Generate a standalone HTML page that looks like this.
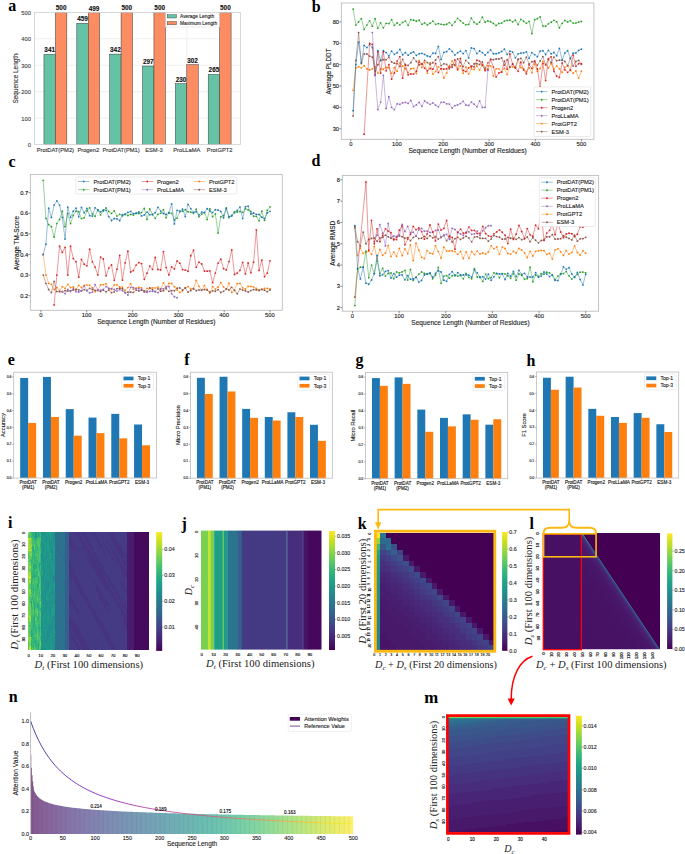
<!DOCTYPE html>
<html><head><meta charset="utf-8"><style>
html,body{margin:0;padding:0;background:#fff;width:685px;height:854px;overflow:hidden;}
svg{display:block;}
</style></head><body>
<svg width="685" height="854" viewBox="0 0 685 854">
<rect width="685" height="854" fill="#fff"/>
<line x1="34.40" y1="118.08" x2="240.40" y2="118.08" stroke="#ebebeb" stroke-width="0.8"/>
<line x1="34.40" y1="91.66" x2="240.40" y2="91.66" stroke="#ebebeb" stroke-width="0.8"/>
<line x1="34.40" y1="65.24" x2="240.40" y2="65.24" stroke="#ebebeb" stroke-width="0.8"/>
<line x1="34.40" y1="38.82" x2="240.40" y2="38.82" stroke="#ebebeb" stroke-width="0.8"/>
<line x1="55.40" y1="12.40" x2="55.40" y2="144.50" stroke="#ebebeb" stroke-width="0.8"/>
<line x1="88.25" y1="12.40" x2="88.25" y2="144.50" stroke="#ebebeb" stroke-width="0.8"/>
<line x1="121.10" y1="12.40" x2="121.10" y2="144.50" stroke="#ebebeb" stroke-width="0.8"/>
<line x1="153.95" y1="12.40" x2="153.95" y2="144.50" stroke="#ebebeb" stroke-width="0.8"/>
<line x1="186.80" y1="12.40" x2="186.80" y2="144.50" stroke="#ebebeb" stroke-width="0.8"/>
<line x1="219.65" y1="12.40" x2="219.65" y2="144.50" stroke="#ebebeb" stroke-width="0.8"/>
<rect x="43.95" y="54.41" width="11.45" height="90.09" fill="#66c2a5" stroke="#3a3a3a" stroke-width="0.5"/>
<rect x="55.40" y="12.40" width="11.45" height="132.10" fill="#fc8d62" stroke="#3a3a3a" stroke-width="0.5"/>
<text x="49.67" y="52.41" font-size="6.4" text-anchor="middle" font-family="'Liberation Sans', sans-serif" font-weight="bold" font-style="normal" fill="#111" stroke="#111" stroke-width="0.12">341</text>
<text x="61.12" y="10.40" font-size="6.4" text-anchor="middle" font-family="'Liberation Sans', sans-serif" font-weight="bold" font-style="normal" fill="#111" stroke="#111" stroke-width="0.12">500</text>
<rect x="76.80" y="23.23" width="11.45" height="121.27" fill="#66c2a5" stroke="#3a3a3a" stroke-width="0.5"/>
<rect x="88.25" y="12.66" width="11.45" height="131.84" fill="#fc8d62" stroke="#3a3a3a" stroke-width="0.5"/>
<text x="82.53" y="21.23" font-size="6.4" text-anchor="middle" font-family="'Liberation Sans', sans-serif" font-weight="bold" font-style="normal" fill="#111" stroke="#111" stroke-width="0.12">459</text>
<text x="93.97" y="10.66" font-size="6.4" text-anchor="middle" font-family="'Liberation Sans', sans-serif" font-weight="bold" font-style="normal" fill="#111" stroke="#111" stroke-width="0.12">499</text>
<rect x="109.65" y="54.14" width="11.45" height="90.36" fill="#66c2a5" stroke="#3a3a3a" stroke-width="0.5"/>
<rect x="121.10" y="12.40" width="11.45" height="132.10" fill="#fc8d62" stroke="#3a3a3a" stroke-width="0.5"/>
<text x="115.38" y="52.14" font-size="6.4" text-anchor="middle" font-family="'Liberation Sans', sans-serif" font-weight="bold" font-style="normal" fill="#111" stroke="#111" stroke-width="0.12">342</text>
<text x="126.82" y="10.40" font-size="6.4" text-anchor="middle" font-family="'Liberation Sans', sans-serif" font-weight="bold" font-style="normal" fill="#111" stroke="#111" stroke-width="0.12">500</text>
<rect x="142.50" y="66.03" width="11.45" height="78.47" fill="#66c2a5" stroke="#3a3a3a" stroke-width="0.5"/>
<rect x="153.95" y="12.40" width="11.45" height="132.10" fill="#fc8d62" stroke="#3a3a3a" stroke-width="0.5"/>
<text x="148.23" y="64.03" font-size="6.4" text-anchor="middle" font-family="'Liberation Sans', sans-serif" font-weight="bold" font-style="normal" fill="#111" stroke="#111" stroke-width="0.12">297</text>
<text x="159.68" y="10.40" font-size="6.4" text-anchor="middle" font-family="'Liberation Sans', sans-serif" font-weight="bold" font-style="normal" fill="#111" stroke="#111" stroke-width="0.12">500</text>
<rect x="175.35" y="83.73" width="11.45" height="60.77" fill="#66c2a5" stroke="#3a3a3a" stroke-width="0.5"/>
<rect x="186.80" y="64.71" width="11.45" height="79.79" fill="#fc8d62" stroke="#3a3a3a" stroke-width="0.5"/>
<text x="181.08" y="81.73" font-size="6.4" text-anchor="middle" font-family="'Liberation Sans', sans-serif" font-weight="bold" font-style="normal" fill="#111" stroke="#111" stroke-width="0.12">230</text>
<text x="192.53" y="62.71" font-size="6.4" text-anchor="middle" font-family="'Liberation Sans', sans-serif" font-weight="bold" font-style="normal" fill="#111" stroke="#111" stroke-width="0.12">302</text>
<rect x="208.20" y="74.49" width="11.45" height="70.01" fill="#66c2a5" stroke="#3a3a3a" stroke-width="0.5"/>
<rect x="219.65" y="12.40" width="11.45" height="132.10" fill="#fc8d62" stroke="#3a3a3a" stroke-width="0.5"/>
<text x="213.93" y="72.49" font-size="6.4" text-anchor="middle" font-family="'Liberation Sans', sans-serif" font-weight="bold" font-style="normal" fill="#111" stroke="#111" stroke-width="0.12">265</text>
<text x="225.38" y="10.40" font-size="6.4" text-anchor="middle" font-family="'Liberation Sans', sans-serif" font-weight="bold" font-style="normal" fill="#111" stroke="#111" stroke-width="0.12">500</text>
<rect x="34.40" y="12.40" width="206.00" height="132.10" fill="none" stroke="#cfcfcf" stroke-width="0.8"/>
<text x="30.90" y="147.00" font-size="5.8" text-anchor="end" font-family="'Liberation Sans', sans-serif" font-weight="normal" font-style="normal" fill="#444" stroke="#444" stroke-width="0.12">0</text>
<text x="30.90" y="120.58" font-size="5.8" text-anchor="end" font-family="'Liberation Sans', sans-serif" font-weight="normal" font-style="normal" fill="#444" stroke="#444" stroke-width="0.12">100</text>
<text x="30.90" y="94.16" font-size="5.8" text-anchor="end" font-family="'Liberation Sans', sans-serif" font-weight="normal" font-style="normal" fill="#444" stroke="#444" stroke-width="0.12">200</text>
<text x="30.90" y="67.74" font-size="5.8" text-anchor="end" font-family="'Liberation Sans', sans-serif" font-weight="normal" font-style="normal" fill="#444" stroke="#444" stroke-width="0.12">300</text>
<text x="30.90" y="41.32" font-size="5.8" text-anchor="end" font-family="'Liberation Sans', sans-serif" font-weight="normal" font-style="normal" fill="#444" stroke="#444" stroke-width="0.12">400</text>
<text x="30.90" y="14.90" font-size="5.8" text-anchor="end" font-family="'Liberation Sans', sans-serif" font-weight="normal" font-style="normal" fill="#444" stroke="#444" stroke-width="0.12">500</text>
<text x="55.40" y="152.20" font-size="5.75" text-anchor="middle" font-family="'Liberation Sans', sans-serif" font-weight="normal" font-style="normal" fill="#333" stroke="#333" stroke-width="0.12">ProtDAT(PM2)</text>
<text x="88.25" y="152.20" font-size="5.75" text-anchor="middle" font-family="'Liberation Sans', sans-serif" font-weight="normal" font-style="normal" fill="#333" stroke="#333" stroke-width="0.12">Progen2</text>
<text x="121.10" y="152.20" font-size="5.75" text-anchor="middle" font-family="'Liberation Sans', sans-serif" font-weight="normal" font-style="normal" fill="#333" stroke="#333" stroke-width="0.12">ProtDAT(PM1)</text>
<text x="153.95" y="152.20" font-size="5.75" text-anchor="middle" font-family="'Liberation Sans', sans-serif" font-weight="normal" font-style="normal" fill="#333" stroke="#333" stroke-width="0.12">ESM-3</text>
<text x="186.80" y="152.20" font-size="5.75" text-anchor="middle" font-family="'Liberation Sans', sans-serif" font-weight="normal" font-style="normal" fill="#333" stroke="#333" stroke-width="0.12">ProLLaMA</text>
<text x="219.65" y="152.20" font-size="5.75" text-anchor="middle" font-family="'Liberation Sans', sans-serif" font-weight="normal" font-style="normal" fill="#333" stroke="#333" stroke-width="0.12">ProtGPT2</text>
<text x="18.50" y="78.45" font-size="6.4" text-anchor="middle" font-family="'Liberation Sans', sans-serif" font-weight="normal" font-style="normal" fill="#333" stroke="#333" stroke-width="0.12" transform="rotate(-90 18.50 78.45)">Sequence Length</text>
<rect x="165.60" y="12.80" width="53.80" height="14.20" fill="white" stroke="#d8d8d8" stroke-width="0.5"/>
<rect x="167.20" y="14.60" width="9.40" height="3.40" fill="#66c2a5" stroke="#3a3a3a" stroke-width="0.4"/>
<rect x="167.20" y="21.40" width="9.40" height="3.40" fill="#fc8d62" stroke="#3a3a3a" stroke-width="0.4"/>
<text x="180.00" y="18.00" font-size="4.85" text-anchor="start" font-family="'Liberation Sans', sans-serif" font-weight="normal" font-style="normal" fill="#222" stroke="#222" stroke-width="0.12">Average Length</text>
<text x="180.00" y="24.80" font-size="4.85" text-anchor="start" font-family="'Liberation Sans', sans-serif" font-weight="normal" font-style="normal" fill="#222" stroke="#222" stroke-width="0.12">Maximum Length</text>
<text x="8.20" y="11.20" font-size="16" text-anchor="start" font-family="'Liberation Serif', serif" font-weight="bold" font-style="normal" fill="#000">a</text>
<rect x="341.30" y="3.00" width="252.60" height="136.30" fill="none" stroke="#bdbdbd" stroke-width="0.9"/>
<polyline points="353.11,90.32 355.86,67.87 358.61,66.80 361.36,67.87 364.11,65.73 366.86,68.94 369.61,70.00 372.36,68.94 375.11,66.80 377.86,73.21 380.61,68.94 383.36,69.27 386.11,67.30 388.86,67.66 391.61,73.39 394.36,67.59 397.11,71.27 399.87,62.98 402.62,66.15 405.37,68.76 408.12,72.72 410.87,68.73 413.62,68.32 416.37,73.59 419.12,60.38 421.87,67.42 424.62,62.42 427.37,73.22 430.12,62.64 432.87,74.17 435.62,71.44 438.37,66.85 441.12,68.75 443.87,78.01 446.62,73.19 449.37,65.71 452.13,60.90 454.88,65.42 457.63,70.00 460.38,65.87 463.13,73.34 465.88,66.97 468.63,74.12 471.38,68.97 474.13,69.44 476.88,65.85 479.63,70.10 482.38,64.31 485.13,69.69 487.88,65.72 490.63,65.91 493.38,76.02 496.13,68.79 498.88,68.80 501.63,71.93 504.39,68.25 507.14,74.54 509.89,66.80 512.64,66.97 515.39,67.78 518.14,59.41 520.89,67.58 523.64,68.68 526.39,71.75 529.14,67.79 531.89,72.64 534.64,64.04 537.39,71.43 540.14,68.33 542.89,61.28 545.64,64.46 548.39,68.00 551.14,63.63 553.89,69.15 556.65,65.88 559.40,68.86 562.15,72.42 564.90,67.28 567.65,65.34 570.40,70.27 573.15,73.16 575.90,70.97 578.65,78.09 581.40,71.27" fill="none" stroke="#ff7f0e" stroke-width="0.6" stroke-linejoin="round" stroke-opacity="0.8"/>
<g fill="#ff7f0e"><circle cx="353.11" cy="90.32" r="0.9"/><circle cx="355.86" cy="67.87" r="0.9"/><circle cx="358.61" cy="66.80" r="0.9"/><circle cx="361.36" cy="67.87" r="0.9"/><circle cx="364.11" cy="65.73" r="0.9"/><circle cx="366.86" cy="68.94" r="0.9"/><circle cx="369.61" cy="70.00" r="0.9"/><circle cx="372.36" cy="68.94" r="0.9"/><circle cx="375.11" cy="66.80" r="0.9"/><circle cx="377.86" cy="73.21" r="0.9"/><circle cx="380.61" cy="68.94" r="0.9"/><circle cx="383.36" cy="69.27" r="0.9"/><circle cx="386.11" cy="67.30" r="0.9"/><circle cx="388.86" cy="67.66" r="0.9"/><circle cx="391.61" cy="73.39" r="0.9"/><circle cx="394.36" cy="67.59" r="0.9"/><circle cx="397.11" cy="71.27" r="0.9"/><circle cx="399.87" cy="62.98" r="0.9"/><circle cx="402.62" cy="66.15" r="0.9"/><circle cx="405.37" cy="68.76" r="0.9"/><circle cx="408.12" cy="72.72" r="0.9"/><circle cx="410.87" cy="68.73" r="0.9"/><circle cx="413.62" cy="68.32" r="0.9"/><circle cx="416.37" cy="73.59" r="0.9"/><circle cx="419.12" cy="60.38" r="0.9"/><circle cx="421.87" cy="67.42" r="0.9"/><circle cx="424.62" cy="62.42" r="0.9"/><circle cx="427.37" cy="73.22" r="0.9"/><circle cx="430.12" cy="62.64" r="0.9"/><circle cx="432.87" cy="74.17" r="0.9"/><circle cx="435.62" cy="71.44" r="0.9"/><circle cx="438.37" cy="66.85" r="0.9"/><circle cx="441.12" cy="68.75" r="0.9"/><circle cx="443.87" cy="78.01" r="0.9"/><circle cx="446.62" cy="73.19" r="0.9"/><circle cx="449.37" cy="65.71" r="0.9"/><circle cx="452.13" cy="60.90" r="0.9"/><circle cx="454.88" cy="65.42" r="0.9"/><circle cx="457.63" cy="70.00" r="0.9"/><circle cx="460.38" cy="65.87" r="0.9"/><circle cx="463.13" cy="73.34" r="0.9"/><circle cx="465.88" cy="66.97" r="0.9"/><circle cx="468.63" cy="74.12" r="0.9"/><circle cx="471.38" cy="68.97" r="0.9"/><circle cx="474.13" cy="69.44" r="0.9"/><circle cx="476.88" cy="65.85" r="0.9"/><circle cx="479.63" cy="70.10" r="0.9"/><circle cx="482.38" cy="64.31" r="0.9"/><circle cx="485.13" cy="69.69" r="0.9"/><circle cx="487.88" cy="65.72" r="0.9"/><circle cx="490.63" cy="65.91" r="0.9"/><circle cx="493.38" cy="76.02" r="0.9"/><circle cx="496.13" cy="68.79" r="0.9"/><circle cx="498.88" cy="68.80" r="0.9"/><circle cx="501.63" cy="71.93" r="0.9"/><circle cx="504.39" cy="68.25" r="0.9"/><circle cx="507.14" cy="74.54" r="0.9"/><circle cx="509.89" cy="66.80" r="0.9"/><circle cx="512.64" cy="66.97" r="0.9"/><circle cx="515.39" cy="67.78" r="0.9"/><circle cx="518.14" cy="59.41" r="0.9"/><circle cx="520.89" cy="67.58" r="0.9"/><circle cx="523.64" cy="68.68" r="0.9"/><circle cx="526.39" cy="71.75" r="0.9"/><circle cx="529.14" cy="67.79" r="0.9"/><circle cx="531.89" cy="72.64" r="0.9"/><circle cx="534.64" cy="64.04" r="0.9"/><circle cx="537.39" cy="71.43" r="0.9"/><circle cx="540.14" cy="68.33" r="0.9"/><circle cx="542.89" cy="61.28" r="0.9"/><circle cx="545.64" cy="64.46" r="0.9"/><circle cx="548.39" cy="68.00" r="0.9"/><circle cx="551.14" cy="63.63" r="0.9"/><circle cx="553.89" cy="69.15" r="0.9"/><circle cx="556.65" cy="65.88" r="0.9"/><circle cx="559.40" cy="68.86" r="0.9"/><circle cx="562.15" cy="72.42" r="0.9"/><circle cx="564.90" cy="67.28" r="0.9"/><circle cx="567.65" cy="65.34" r="0.9"/><circle cx="570.40" cy="70.27" r="0.9"/><circle cx="573.15" cy="73.16" r="0.9"/><circle cx="575.90" cy="70.97" r="0.9"/><circle cx="578.65" cy="78.09" r="0.9"/><circle cx="581.40" cy="71.27" r="0.9"/></g>
<polyline points="353.11,115.97 355.86,60.38 358.61,32.59 361.36,63.59 364.11,53.97 366.86,53.97 369.61,56.11 372.36,57.18 375.11,71.07 377.86,64.66 380.61,60.38 383.36,59.64 386.11,59.64 388.86,57.34 391.61,61.96 394.36,63.22 397.11,63.61 399.87,66.39 402.62,59.36 405.37,65.15 408.12,65.39 410.87,62.67 413.62,57.96 416.37,61.44 419.12,64.94 421.87,64.08 424.62,60.36 427.37,62.54 430.12,64.23 432.87,62.73 435.62,60.02 438.37,56.60 441.12,65.55 443.87,63.84 446.62,64.33 449.37,68.82 452.13,64.66 454.88,64.94 457.63,58.97 460.38,62.46 463.13,66.61 465.88,60.30 468.63,63.08 471.38,66.94 474.13,63.75 476.88,63.73 479.63,64.52 482.38,62.01 485.13,68.34 487.88,62.84 490.63,59.28 493.38,59.72 496.13,59.01 498.88,58.98 501.63,57.96 504.39,65.20 507.14,59.74 509.89,67.27 512.64,63.77 515.39,67.42 518.14,59.18 520.89,58.39 523.64,62.64 526.39,57.16 529.14,63.97 531.89,61.68 534.64,61.67 537.39,65.05 540.14,60.88 542.89,56.71 545.64,64.94 548.39,59.59 551.14,62.52 553.89,57.18 556.65,60.75 559.40,60.21 562.15,60.31 564.90,61.40 567.65,65.97 570.40,58.23 573.15,65.90 575.90,61.43 578.65,60.39 581.40,64.42" fill="none" stroke="#8c564b" stroke-width="0.6" stroke-linejoin="round" stroke-opacity="0.8"/>
<g fill="#8c564b"><circle cx="353.11" cy="115.97" r="0.9"/><circle cx="355.86" cy="60.38" r="0.9"/><circle cx="358.61" cy="32.59" r="0.9"/><circle cx="361.36" cy="63.59" r="0.9"/><circle cx="364.11" cy="53.97" r="0.9"/><circle cx="366.86" cy="53.97" r="0.9"/><circle cx="369.61" cy="56.11" r="0.9"/><circle cx="372.36" cy="57.18" r="0.9"/><circle cx="375.11" cy="71.07" r="0.9"/><circle cx="377.86" cy="64.66" r="0.9"/><circle cx="380.61" cy="60.38" r="0.9"/><circle cx="383.36" cy="59.64" r="0.9"/><circle cx="386.11" cy="59.64" r="0.9"/><circle cx="388.86" cy="57.34" r="0.9"/><circle cx="391.61" cy="61.96" r="0.9"/><circle cx="394.36" cy="63.22" r="0.9"/><circle cx="397.11" cy="63.61" r="0.9"/><circle cx="399.87" cy="66.39" r="0.9"/><circle cx="402.62" cy="59.36" r="0.9"/><circle cx="405.37" cy="65.15" r="0.9"/><circle cx="408.12" cy="65.39" r="0.9"/><circle cx="410.87" cy="62.67" r="0.9"/><circle cx="413.62" cy="57.96" r="0.9"/><circle cx="416.37" cy="61.44" r="0.9"/><circle cx="419.12" cy="64.94" r="0.9"/><circle cx="421.87" cy="64.08" r="0.9"/><circle cx="424.62" cy="60.36" r="0.9"/><circle cx="427.37" cy="62.54" r="0.9"/><circle cx="430.12" cy="64.23" r="0.9"/><circle cx="432.87" cy="62.73" r="0.9"/><circle cx="435.62" cy="60.02" r="0.9"/><circle cx="438.37" cy="56.60" r="0.9"/><circle cx="441.12" cy="65.55" r="0.9"/><circle cx="443.87" cy="63.84" r="0.9"/><circle cx="446.62" cy="64.33" r="0.9"/><circle cx="449.37" cy="68.82" r="0.9"/><circle cx="452.13" cy="64.66" r="0.9"/><circle cx="454.88" cy="64.94" r="0.9"/><circle cx="457.63" cy="58.97" r="0.9"/><circle cx="460.38" cy="62.46" r="0.9"/><circle cx="463.13" cy="66.61" r="0.9"/><circle cx="465.88" cy="60.30" r="0.9"/><circle cx="468.63" cy="63.08" r="0.9"/><circle cx="471.38" cy="66.94" r="0.9"/><circle cx="474.13" cy="63.75" r="0.9"/><circle cx="476.88" cy="63.73" r="0.9"/><circle cx="479.63" cy="64.52" r="0.9"/><circle cx="482.38" cy="62.01" r="0.9"/><circle cx="485.13" cy="68.34" r="0.9"/><circle cx="487.88" cy="62.84" r="0.9"/><circle cx="490.63" cy="59.28" r="0.9"/><circle cx="493.38" cy="59.72" r="0.9"/><circle cx="496.13" cy="59.01" r="0.9"/><circle cx="498.88" cy="58.98" r="0.9"/><circle cx="501.63" cy="57.96" r="0.9"/><circle cx="504.39" cy="65.20" r="0.9"/><circle cx="507.14" cy="59.74" r="0.9"/><circle cx="509.89" cy="67.27" r="0.9"/><circle cx="512.64" cy="63.77" r="0.9"/><circle cx="515.39" cy="67.42" r="0.9"/><circle cx="518.14" cy="59.18" r="0.9"/><circle cx="520.89" cy="58.39" r="0.9"/><circle cx="523.64" cy="62.64" r="0.9"/><circle cx="526.39" cy="57.16" r="0.9"/><circle cx="529.14" cy="63.97" r="0.9"/><circle cx="531.89" cy="61.68" r="0.9"/><circle cx="534.64" cy="61.67" r="0.9"/><circle cx="537.39" cy="65.05" r="0.9"/><circle cx="540.14" cy="60.88" r="0.9"/><circle cx="542.89" cy="56.71" r="0.9"/><circle cx="545.64" cy="64.94" r="0.9"/><circle cx="548.39" cy="59.59" r="0.9"/><circle cx="551.14" cy="62.52" r="0.9"/><circle cx="553.89" cy="57.18" r="0.9"/><circle cx="556.65" cy="60.75" r="0.9"/><circle cx="559.40" cy="60.21" r="0.9"/><circle cx="562.15" cy="60.31" r="0.9"/><circle cx="564.90" cy="61.40" r="0.9"/><circle cx="567.65" cy="65.97" r="0.9"/><circle cx="570.40" cy="58.23" r="0.9"/><circle cx="573.15" cy="65.90" r="0.9"/><circle cx="575.90" cy="61.43" r="0.9"/><circle cx="578.65" cy="60.39" r="0.9"/><circle cx="581.40" cy="64.42" r="0.9"/></g>
<polyline points="353.11,110.63 355.86,64.66 358.61,42.21 361.36,62.52 364.11,45.42 366.86,47.56 369.61,44.35 372.36,47.56 375.11,75.35 377.86,50.76 380.61,60.38 383.36,50.76 386.11,52.57 388.86,55.79 391.61,51.19 394.36,54.34 397.11,52.74 399.87,49.42 402.62,54.77 405.37,52.66 408.12,55.13 410.87,53.12 413.62,51.97 416.37,55.44 419.12,53.63 421.87,53.34 424.62,54.46 427.37,55.99 430.12,56.64 432.87,53.11 435.62,53.44 438.37,46.49 441.12,59.45 443.87,52.37 446.62,51.66 449.37,48.91 452.13,51.29 454.88,55.03 457.63,52.69 460.38,51.18 463.13,53.56 465.88,50.54 468.63,57.88 471.38,47.88 474.13,48.61 476.88,53.62 479.63,50.99 482.38,52.55 485.13,54.99 487.88,52.44 490.63,49.91 493.38,53.75 496.13,53.73 498.88,52.89 501.63,51.48 504.39,49.13 507.14,54.45 509.89,51.27 512.64,52.09 515.39,57.85 518.14,53.85 520.89,53.05 523.64,52.80 526.39,51.78 529.14,58.36 531.89,52.56 534.64,54.57 537.39,56.69 540.14,51.23 542.89,50.64 545.64,54.50 548.39,50.35 551.14,53.75 553.89,52.50 556.65,55.74 559.40,48.28 562.15,60.08 564.90,52.94 567.65,50.76 570.40,58.34 573.15,53.21 575.90,52.90 578.65,50.40 581.40,49.22" fill="none" stroke="#1f77b4" stroke-width="0.6" stroke-linejoin="round" stroke-opacity="0.8"/>
<g fill="#1f77b4"><circle cx="353.11" cy="110.63" r="0.9"/><circle cx="355.86" cy="64.66" r="0.9"/><circle cx="358.61" cy="42.21" r="0.9"/><circle cx="361.36" cy="62.52" r="0.9"/><circle cx="364.11" cy="45.42" r="0.9"/><circle cx="366.86" cy="47.56" r="0.9"/><circle cx="369.61" cy="44.35" r="0.9"/><circle cx="372.36" cy="47.56" r="0.9"/><circle cx="375.11" cy="75.35" r="0.9"/><circle cx="377.86" cy="50.76" r="0.9"/><circle cx="380.61" cy="60.38" r="0.9"/><circle cx="383.36" cy="50.76" r="0.9"/><circle cx="386.11" cy="52.57" r="0.9"/><circle cx="388.86" cy="55.79" r="0.9"/><circle cx="391.61" cy="51.19" r="0.9"/><circle cx="394.36" cy="54.34" r="0.9"/><circle cx="397.11" cy="52.74" r="0.9"/><circle cx="399.87" cy="49.42" r="0.9"/><circle cx="402.62" cy="54.77" r="0.9"/><circle cx="405.37" cy="52.66" r="0.9"/><circle cx="408.12" cy="55.13" r="0.9"/><circle cx="410.87" cy="53.12" r="0.9"/><circle cx="413.62" cy="51.97" r="0.9"/><circle cx="416.37" cy="55.44" r="0.9"/><circle cx="419.12" cy="53.63" r="0.9"/><circle cx="421.87" cy="53.34" r="0.9"/><circle cx="424.62" cy="54.46" r="0.9"/><circle cx="427.37" cy="55.99" r="0.9"/><circle cx="430.12" cy="56.64" r="0.9"/><circle cx="432.87" cy="53.11" r="0.9"/><circle cx="435.62" cy="53.44" r="0.9"/><circle cx="438.37" cy="46.49" r="0.9"/><circle cx="441.12" cy="59.45" r="0.9"/><circle cx="443.87" cy="52.37" r="0.9"/><circle cx="446.62" cy="51.66" r="0.9"/><circle cx="449.37" cy="48.91" r="0.9"/><circle cx="452.13" cy="51.29" r="0.9"/><circle cx="454.88" cy="55.03" r="0.9"/><circle cx="457.63" cy="52.69" r="0.9"/><circle cx="460.38" cy="51.18" r="0.9"/><circle cx="463.13" cy="53.56" r="0.9"/><circle cx="465.88" cy="50.54" r="0.9"/><circle cx="468.63" cy="57.88" r="0.9"/><circle cx="471.38" cy="47.88" r="0.9"/><circle cx="474.13" cy="48.61" r="0.9"/><circle cx="476.88" cy="53.62" r="0.9"/><circle cx="479.63" cy="50.99" r="0.9"/><circle cx="482.38" cy="52.55" r="0.9"/><circle cx="485.13" cy="54.99" r="0.9"/><circle cx="487.88" cy="52.44" r="0.9"/><circle cx="490.63" cy="49.91" r="0.9"/><circle cx="493.38" cy="53.75" r="0.9"/><circle cx="496.13" cy="53.73" r="0.9"/><circle cx="498.88" cy="52.89" r="0.9"/><circle cx="501.63" cy="51.48" r="0.9"/><circle cx="504.39" cy="49.13" r="0.9"/><circle cx="507.14" cy="54.45" r="0.9"/><circle cx="509.89" cy="51.27" r="0.9"/><circle cx="512.64" cy="52.09" r="0.9"/><circle cx="515.39" cy="57.85" r="0.9"/><circle cx="518.14" cy="53.85" r="0.9"/><circle cx="520.89" cy="53.05" r="0.9"/><circle cx="523.64" cy="52.80" r="0.9"/><circle cx="526.39" cy="51.78" r="0.9"/><circle cx="529.14" cy="58.36" r="0.9"/><circle cx="531.89" cy="52.56" r="0.9"/><circle cx="534.64" cy="54.57" r="0.9"/><circle cx="537.39" cy="56.69" r="0.9"/><circle cx="540.14" cy="51.23" r="0.9"/><circle cx="542.89" cy="50.64" r="0.9"/><circle cx="545.64" cy="54.50" r="0.9"/><circle cx="548.39" cy="50.35" r="0.9"/><circle cx="551.14" cy="53.75" r="0.9"/><circle cx="553.89" cy="52.50" r="0.9"/><circle cx="556.65" cy="55.74" r="0.9"/><circle cx="559.40" cy="48.28" r="0.9"/><circle cx="562.15" cy="60.08" r="0.9"/><circle cx="564.90" cy="52.94" r="0.9"/><circle cx="567.65" cy="50.76" r="0.9"/><circle cx="570.40" cy="58.34" r="0.9"/><circle cx="573.15" cy="53.21" r="0.9"/><circle cx="575.90" cy="52.90" r="0.9"/><circle cx="578.65" cy="50.40" r="0.9"/><circle cx="581.40" cy="49.22" r="0.9"/></g>
<polyline points="353.11,9.07 355.86,25.11 358.61,21.90 361.36,18.69 364.11,29.38 366.86,25.11 369.61,20.83 372.36,26.18 375.11,18.69 377.86,28.31 380.61,22.97 383.36,27.83 386.11,23.37 388.86,23.53 391.61,19.63 394.36,25.36 397.11,22.98 399.87,24.79 402.62,22.43 405.37,21.05 408.12,25.37 410.87,19.60 413.62,20.23 416.37,21.25 419.12,20.23 421.87,24.30 424.62,22.86 427.37,24.94 430.12,23.23 432.87,21.18 435.62,24.32 438.37,23.56 441.12,24.30 443.87,24.71 446.62,24.26 449.37,22.57 452.13,25.41 454.88,21.94 457.63,18.28 460.38,20.64 463.13,23.03 465.88,24.82 468.63,24.46 471.38,18.20 474.13,22.41 476.88,24.18 479.63,22.05 482.38,17.15 485.13,22.23 487.88,20.96 490.63,21.77 493.38,23.45 496.13,25.47 498.88,23.44 501.63,23.08 504.39,21.04 507.14,20.39 509.89,20.15 512.64,21.81 515.39,20.27 518.14,24.48 520.89,19.33 523.64,21.23 526.39,23.31 529.14,21.29 531.89,33.66 534.64,19.64 537.39,18.64 540.14,16.93 542.89,26.12 545.64,26.25 548.39,23.84 551.14,22.13 553.89,20.29 556.65,21.73 559.40,27.73 562.15,23.33 564.90,20.42 567.65,21.95 570.40,20.59 573.15,23.11 575.90,23.06 578.65,22.06 581.40,21.49" fill="none" stroke="#2ca02c" stroke-width="0.6" stroke-linejoin="round" stroke-opacity="0.8"/>
<g fill="#2ca02c"><circle cx="353.11" cy="9.07" r="0.9"/><circle cx="355.86" cy="25.11" r="0.9"/><circle cx="358.61" cy="21.90" r="0.9"/><circle cx="361.36" cy="18.69" r="0.9"/><circle cx="364.11" cy="29.38" r="0.9"/><circle cx="366.86" cy="25.11" r="0.9"/><circle cx="369.61" cy="20.83" r="0.9"/><circle cx="372.36" cy="26.18" r="0.9"/><circle cx="375.11" cy="18.69" r="0.9"/><circle cx="377.86" cy="28.31" r="0.9"/><circle cx="380.61" cy="22.97" r="0.9"/><circle cx="383.36" cy="27.83" r="0.9"/><circle cx="386.11" cy="23.37" r="0.9"/><circle cx="388.86" cy="23.53" r="0.9"/><circle cx="391.61" cy="19.63" r="0.9"/><circle cx="394.36" cy="25.36" r="0.9"/><circle cx="397.11" cy="22.98" r="0.9"/><circle cx="399.87" cy="24.79" r="0.9"/><circle cx="402.62" cy="22.43" r="0.9"/><circle cx="405.37" cy="21.05" r="0.9"/><circle cx="408.12" cy="25.37" r="0.9"/><circle cx="410.87" cy="19.60" r="0.9"/><circle cx="413.62" cy="20.23" r="0.9"/><circle cx="416.37" cy="21.25" r="0.9"/><circle cx="419.12" cy="20.23" r="0.9"/><circle cx="421.87" cy="24.30" r="0.9"/><circle cx="424.62" cy="22.86" r="0.9"/><circle cx="427.37" cy="24.94" r="0.9"/><circle cx="430.12" cy="23.23" r="0.9"/><circle cx="432.87" cy="21.18" r="0.9"/><circle cx="435.62" cy="24.32" r="0.9"/><circle cx="438.37" cy="23.56" r="0.9"/><circle cx="441.12" cy="24.30" r="0.9"/><circle cx="443.87" cy="24.71" r="0.9"/><circle cx="446.62" cy="24.26" r="0.9"/><circle cx="449.37" cy="22.57" r="0.9"/><circle cx="452.13" cy="25.41" r="0.9"/><circle cx="454.88" cy="21.94" r="0.9"/><circle cx="457.63" cy="18.28" r="0.9"/><circle cx="460.38" cy="20.64" r="0.9"/><circle cx="463.13" cy="23.03" r="0.9"/><circle cx="465.88" cy="24.82" r="0.9"/><circle cx="468.63" cy="24.46" r="0.9"/><circle cx="471.38" cy="18.20" r="0.9"/><circle cx="474.13" cy="22.41" r="0.9"/><circle cx="476.88" cy="24.18" r="0.9"/><circle cx="479.63" cy="22.05" r="0.9"/><circle cx="482.38" cy="17.15" r="0.9"/><circle cx="485.13" cy="22.23" r="0.9"/><circle cx="487.88" cy="20.96" r="0.9"/><circle cx="490.63" cy="21.77" r="0.9"/><circle cx="493.38" cy="23.45" r="0.9"/><circle cx="496.13" cy="25.47" r="0.9"/><circle cx="498.88" cy="23.44" r="0.9"/><circle cx="501.63" cy="23.08" r="0.9"/><circle cx="504.39" cy="21.04" r="0.9"/><circle cx="507.14" cy="20.39" r="0.9"/><circle cx="509.89" cy="20.15" r="0.9"/><circle cx="512.64" cy="21.81" r="0.9"/><circle cx="515.39" cy="20.27" r="0.9"/><circle cx="518.14" cy="24.48" r="0.9"/><circle cx="520.89" cy="19.33" r="0.9"/><circle cx="523.64" cy="21.23" r="0.9"/><circle cx="526.39" cy="23.31" r="0.9"/><circle cx="529.14" cy="21.29" r="0.9"/><circle cx="531.89" cy="33.66" r="0.9"/><circle cx="534.64" cy="19.64" r="0.9"/><circle cx="537.39" cy="18.64" r="0.9"/><circle cx="540.14" cy="16.93" r="0.9"/><circle cx="542.89" cy="26.12" r="0.9"/><circle cx="545.64" cy="26.25" r="0.9"/><circle cx="548.39" cy="23.84" r="0.9"/><circle cx="551.14" cy="22.13" r="0.9"/><circle cx="553.89" cy="20.29" r="0.9"/><circle cx="556.65" cy="21.73" r="0.9"/><circle cx="559.40" cy="27.73" r="0.9"/><circle cx="562.15" cy="23.33" r="0.9"/><circle cx="564.90" cy="20.42" r="0.9"/><circle cx="567.65" cy="21.95" r="0.9"/><circle cx="570.40" cy="20.59" r="0.9"/><circle cx="573.15" cy="23.11" r="0.9"/><circle cx="575.90" cy="23.06" r="0.9"/><circle cx="578.65" cy="22.06" r="0.9"/><circle cx="581.40" cy="21.49" r="0.9"/></g>
<polyline points="364.11,134.14 369.61,43.28 372.36,44.35 375.11,75.35 377.86,51.83 380.61,73.21 383.36,51.83 386.11,70.81 388.86,64.64 391.61,79.19 394.36,73.00 397.11,61.12 399.87,56.60 402.62,78.20 405.37,64.37 408.12,74.80 410.87,74.00 413.62,74.10 416.37,71.22 419.12,62.12 421.87,63.94 424.62,68.13 427.37,70.84 430.12,68.49 432.87,69.19 435.62,63.42 438.37,72.56 441.12,68.55 443.87,69.16 446.62,68.84 449.37,66.91 452.13,67.24 454.88,59.95 457.63,69.07 460.38,58.49 463.13,70.47 465.88,71.57 468.63,67.86 471.38,66.23 474.13,66.78 476.88,60.22 479.63,61.20 482.38,65.34 485.13,70.67 487.88,69.15 490.63,59.44 493.38,67.09 496.13,76.92 498.88,72.93 501.63,72.21 504.39,61.12 507.14,69.20 509.89,54.01 512.64,64.30 515.39,67.71 518.14,71.30 520.89,62.27 523.64,70.05 526.39,73.79 529.14,64.86 531.89,68.43 534.64,60.88 537.39,68.98 540.14,86.85 542.89,63.45 545.64,80.55 548.39,58.64 551.14,56.83 553.89,71.25 556.65,75.98 559.40,77.47 562.15,62.91 564.90,69.80 567.65,72.35 570.40,70.07 573.15,55.11 575.90,66.28 578.65,63.73 581.40,63.53" fill="none" stroke="#d62728" stroke-width="0.6" stroke-linejoin="round" stroke-opacity="0.8"/>
<g fill="#d62728"><circle cx="364.11" cy="134.14" r="0.9"/><circle cx="369.61" cy="43.28" r="0.9"/><circle cx="372.36" cy="44.35" r="0.9"/><circle cx="375.11" cy="75.35" r="0.9"/><circle cx="377.86" cy="51.83" r="0.9"/><circle cx="380.61" cy="73.21" r="0.9"/><circle cx="383.36" cy="51.83" r="0.9"/><circle cx="386.11" cy="70.81" r="0.9"/><circle cx="388.86" cy="64.64" r="0.9"/><circle cx="391.61" cy="79.19" r="0.9"/><circle cx="394.36" cy="73.00" r="0.9"/><circle cx="397.11" cy="61.12" r="0.9"/><circle cx="399.87" cy="56.60" r="0.9"/><circle cx="402.62" cy="78.20" r="0.9"/><circle cx="405.37" cy="64.37" r="0.9"/><circle cx="408.12" cy="74.80" r="0.9"/><circle cx="410.87" cy="74.00" r="0.9"/><circle cx="413.62" cy="74.10" r="0.9"/><circle cx="416.37" cy="71.22" r="0.9"/><circle cx="419.12" cy="62.12" r="0.9"/><circle cx="421.87" cy="63.94" r="0.9"/><circle cx="424.62" cy="68.13" r="0.9"/><circle cx="427.37" cy="70.84" r="0.9"/><circle cx="430.12" cy="68.49" r="0.9"/><circle cx="432.87" cy="69.19" r="0.9"/><circle cx="435.62" cy="63.42" r="0.9"/><circle cx="438.37" cy="72.56" r="0.9"/><circle cx="441.12" cy="68.55" r="0.9"/><circle cx="443.87" cy="69.16" r="0.9"/><circle cx="446.62" cy="68.84" r="0.9"/><circle cx="449.37" cy="66.91" r="0.9"/><circle cx="452.13" cy="67.24" r="0.9"/><circle cx="454.88" cy="59.95" r="0.9"/><circle cx="457.63" cy="69.07" r="0.9"/><circle cx="460.38" cy="58.49" r="0.9"/><circle cx="463.13" cy="70.47" r="0.9"/><circle cx="465.88" cy="71.57" r="0.9"/><circle cx="468.63" cy="67.86" r="0.9"/><circle cx="471.38" cy="66.23" r="0.9"/><circle cx="474.13" cy="66.78" r="0.9"/><circle cx="476.88" cy="60.22" r="0.9"/><circle cx="479.63" cy="61.20" r="0.9"/><circle cx="482.38" cy="65.34" r="0.9"/><circle cx="485.13" cy="70.67" r="0.9"/><circle cx="487.88" cy="69.15" r="0.9"/><circle cx="490.63" cy="59.44" r="0.9"/><circle cx="493.38" cy="67.09" r="0.9"/><circle cx="496.13" cy="76.92" r="0.9"/><circle cx="498.88" cy="72.93" r="0.9"/><circle cx="501.63" cy="72.21" r="0.9"/><circle cx="504.39" cy="61.12" r="0.9"/><circle cx="507.14" cy="69.20" r="0.9"/><circle cx="509.89" cy="54.01" r="0.9"/><circle cx="512.64" cy="64.30" r="0.9"/><circle cx="515.39" cy="67.71" r="0.9"/><circle cx="518.14" cy="71.30" r="0.9"/><circle cx="520.89" cy="62.27" r="0.9"/><circle cx="523.64" cy="70.05" r="0.9"/><circle cx="526.39" cy="73.79" r="0.9"/><circle cx="529.14" cy="64.86" r="0.9"/><circle cx="531.89" cy="68.43" r="0.9"/><circle cx="534.64" cy="60.88" r="0.9"/><circle cx="537.39" cy="68.98" r="0.9"/><circle cx="540.14" cy="86.85" r="0.9"/><circle cx="542.89" cy="63.45" r="0.9"/><circle cx="545.64" cy="80.55" r="0.9"/><circle cx="548.39" cy="58.64" r="0.9"/><circle cx="551.14" cy="56.83" r="0.9"/><circle cx="553.89" cy="71.25" r="0.9"/><circle cx="556.65" cy="75.98" r="0.9"/><circle cx="559.40" cy="77.47" r="0.9"/><circle cx="562.15" cy="62.91" r="0.9"/><circle cx="564.90" cy="69.80" r="0.9"/><circle cx="567.65" cy="72.35" r="0.9"/><circle cx="570.40" cy="70.07" r="0.9"/><circle cx="573.15" cy="55.11" r="0.9"/><circle cx="575.90" cy="66.28" r="0.9"/><circle cx="578.65" cy="63.73" r="0.9"/><circle cx="581.40" cy="63.53" r="0.9"/></g>
<polyline points="372.36,32.59 375.11,75.35 377.86,109.56 380.61,102.07 383.36,75.35 386.11,108.49 388.86,96.73 391.61,107.42 394.36,109.56 397.11,103.85 399.87,104.30 402.62,102.78 405.37,102.44 408.12,103.32 410.87,100.51 413.62,106.61 416.37,104.89 419.12,102.41 421.87,106.26 424.62,100.99 427.37,102.63 430.12,104.35 432.87,102.97 435.62,105.13 438.37,106.85 441.12,102.35 443.87,102.18 446.62,103.78 449.37,104.04 452.13,108.09 454.88,105.60 457.63,104.89 460.38,103.55 463.13,101.33 465.88,105.00 468.63,105.50 471.38,102.16 474.13,104.24 476.88,106.63 479.63,101.01 482.38,107.42 485.13,107.42 487.88,70.43" fill="none" stroke="#9467bd" stroke-width="0.6" stroke-linejoin="round" stroke-opacity="0.8"/>
<g fill="#9467bd"><circle cx="372.36" cy="32.59" r="0.9"/><circle cx="375.11" cy="75.35" r="0.9"/><circle cx="377.86" cy="109.56" r="0.9"/><circle cx="380.61" cy="102.07" r="0.9"/><circle cx="383.36" cy="75.35" r="0.9"/><circle cx="386.11" cy="108.49" r="0.9"/><circle cx="388.86" cy="96.73" r="0.9"/><circle cx="391.61" cy="107.42" r="0.9"/><circle cx="394.36" cy="109.56" r="0.9"/><circle cx="397.11" cy="103.85" r="0.9"/><circle cx="399.87" cy="104.30" r="0.9"/><circle cx="402.62" cy="102.78" r="0.9"/><circle cx="405.37" cy="102.44" r="0.9"/><circle cx="408.12" cy="103.32" r="0.9"/><circle cx="410.87" cy="100.51" r="0.9"/><circle cx="413.62" cy="106.61" r="0.9"/><circle cx="416.37" cy="104.89" r="0.9"/><circle cx="419.12" cy="102.41" r="0.9"/><circle cx="421.87" cy="106.26" r="0.9"/><circle cx="424.62" cy="100.99" r="0.9"/><circle cx="427.37" cy="102.63" r="0.9"/><circle cx="430.12" cy="104.35" r="0.9"/><circle cx="432.87" cy="102.97" r="0.9"/><circle cx="435.62" cy="105.13" r="0.9"/><circle cx="438.37" cy="106.85" r="0.9"/><circle cx="441.12" cy="102.35" r="0.9"/><circle cx="443.87" cy="102.18" r="0.9"/><circle cx="446.62" cy="103.78" r="0.9"/><circle cx="449.37" cy="104.04" r="0.9"/><circle cx="452.13" cy="108.09" r="0.9"/><circle cx="454.88" cy="105.60" r="0.9"/><circle cx="457.63" cy="104.89" r="0.9"/><circle cx="460.38" cy="103.55" r="0.9"/><circle cx="463.13" cy="101.33" r="0.9"/><circle cx="465.88" cy="105.00" r="0.9"/><circle cx="468.63" cy="105.50" r="0.9"/><circle cx="471.38" cy="102.16" r="0.9"/><circle cx="474.13" cy="104.24" r="0.9"/><circle cx="476.88" cy="106.63" r="0.9"/><circle cx="479.63" cy="101.01" r="0.9"/><circle cx="482.38" cy="107.42" r="0.9"/><circle cx="485.13" cy="107.42" r="0.9"/><circle cx="487.88" cy="70.43" r="0.9"/></g>
<line x1="339.30" y1="128.80" x2="341.30" y2="128.80" stroke="#444" stroke-width="0.6"/>
<text x="339.00" y="130.80" font-size="5.7" text-anchor="end" font-family="'Liberation Sans', sans-serif" font-weight="normal" font-style="normal" fill="#111" stroke="#111" stroke-width="0.12">30</text>
<line x1="339.30" y1="107.42" x2="341.30" y2="107.42" stroke="#444" stroke-width="0.6"/>
<text x="339.00" y="109.42" font-size="5.7" text-anchor="end" font-family="'Liberation Sans', sans-serif" font-weight="normal" font-style="normal" fill="#111" stroke="#111" stroke-width="0.12">40</text>
<line x1="339.30" y1="86.04" x2="341.30" y2="86.04" stroke="#444" stroke-width="0.6"/>
<text x="339.00" y="88.04" font-size="5.7" text-anchor="end" font-family="'Liberation Sans', sans-serif" font-weight="normal" font-style="normal" fill="#111" stroke="#111" stroke-width="0.12">50</text>
<line x1="339.30" y1="64.66" x2="341.30" y2="64.66" stroke="#444" stroke-width="0.6"/>
<text x="339.00" y="66.66" font-size="5.7" text-anchor="end" font-family="'Liberation Sans', sans-serif" font-weight="normal" font-style="normal" fill="#111" stroke="#111" stroke-width="0.12">60</text>
<line x1="339.30" y1="43.28" x2="341.30" y2="43.28" stroke="#444" stroke-width="0.6"/>
<text x="339.00" y="45.28" font-size="5.7" text-anchor="end" font-family="'Liberation Sans', sans-serif" font-weight="normal" font-style="normal" fill="#111" stroke="#111" stroke-width="0.12">70</text>
<line x1="339.30" y1="21.90" x2="341.30" y2="21.90" stroke="#444" stroke-width="0.6"/>
<text x="339.00" y="23.90" font-size="5.7" text-anchor="end" font-family="'Liberation Sans', sans-serif" font-weight="normal" font-style="normal" fill="#111" stroke="#111" stroke-width="0.12">80</text>
<line x1="350.80" y1="139.30" x2="350.80" y2="141.30" stroke="#444" stroke-width="0.6"/>
<text x="350.80" y="146.20" font-size="5.85" text-anchor="middle" font-family="'Liberation Sans', sans-serif" font-weight="normal" font-style="normal" fill="#222" stroke="#222" stroke-width="0.12">0</text>
<line x1="396.92" y1="139.30" x2="396.92" y2="141.30" stroke="#444" stroke-width="0.6"/>
<text x="396.92" y="146.20" font-size="5.85" text-anchor="middle" font-family="'Liberation Sans', sans-serif" font-weight="normal" font-style="normal" fill="#222" stroke="#222" stroke-width="0.12">100</text>
<line x1="443.04" y1="139.30" x2="443.04" y2="141.30" stroke="#444" stroke-width="0.6"/>
<text x="443.04" y="146.20" font-size="5.85" text-anchor="middle" font-family="'Liberation Sans', sans-serif" font-weight="normal" font-style="normal" fill="#222" stroke="#222" stroke-width="0.12">200</text>
<line x1="489.16" y1="139.30" x2="489.16" y2="141.30" stroke="#444" stroke-width="0.6"/>
<text x="489.16" y="146.20" font-size="5.85" text-anchor="middle" font-family="'Liberation Sans', sans-serif" font-weight="normal" font-style="normal" fill="#222" stroke="#222" stroke-width="0.12">300</text>
<line x1="535.28" y1="139.30" x2="535.28" y2="141.30" stroke="#444" stroke-width="0.6"/>
<text x="535.28" y="146.20" font-size="5.85" text-anchor="middle" font-family="'Liberation Sans', sans-serif" font-weight="normal" font-style="normal" fill="#222" stroke="#222" stroke-width="0.12">400</text>
<line x1="581.40" y1="139.30" x2="581.40" y2="141.30" stroke="#444" stroke-width="0.6"/>
<text x="581.40" y="146.20" font-size="5.85" text-anchor="middle" font-family="'Liberation Sans', sans-serif" font-weight="normal" font-style="normal" fill="#222" stroke="#222" stroke-width="0.12">500</text>
<text x="467.60" y="153.20" font-size="6.62" text-anchor="middle" font-family="'Liberation Sans', sans-serif" font-weight="normal" font-style="normal" fill="#222" stroke="#222" stroke-width="0.12">Sequence Length (Number of Residues)</text>
<text x="331.40" y="71.50" font-size="6.35" text-anchor="middle" font-family="'Liberation Sans', sans-serif" font-weight="normal" font-style="normal" fill="#111" stroke="#111" stroke-width="0.12" transform="rotate(-90 331.40 71.50)">Average PLDDT</text>
<rect x="534.00" y="86.90" width="56.80" height="49.60" fill="white" stroke="#dddddd" stroke-width="0.6" rx="1"/>
<line x1="536.00" y1="91.60" x2="547.50" y2="91.60" stroke="#1f77b4" stroke-width="0.75" stroke-opacity="0.6"/>
<circle cx="541.75" cy="91.60" r="0.95" fill="#1f77b4"/>
<text x="551.40" y="93.60" font-size="5.75" text-anchor="start" font-family="'Liberation Sans', sans-serif" font-weight="normal" font-style="normal" fill="#222" stroke="#222" stroke-width="0.12">ProtDAT(PM2)</text>
<line x1="536.00" y1="99.70" x2="547.50" y2="99.70" stroke="#2ca02c" stroke-width="0.75" stroke-opacity="0.6"/>
<circle cx="541.75" cy="99.70" r="0.95" fill="#2ca02c"/>
<text x="551.40" y="101.70" font-size="5.75" text-anchor="start" font-family="'Liberation Sans', sans-serif" font-weight="normal" font-style="normal" fill="#222" stroke="#222" stroke-width="0.12">ProtDAT(PM1)</text>
<line x1="536.00" y1="107.70" x2="547.50" y2="107.70" stroke="#d62728" stroke-width="0.75" stroke-opacity="0.6"/>
<circle cx="541.75" cy="107.70" r="0.95" fill="#d62728"/>
<text x="551.40" y="109.70" font-size="5.75" text-anchor="start" font-family="'Liberation Sans', sans-serif" font-weight="normal" font-style="normal" fill="#222" stroke="#222" stroke-width="0.12">Progen2</text>
<line x1="536.00" y1="115.70" x2="547.50" y2="115.70" stroke="#9467bd" stroke-width="0.75" stroke-opacity="0.6"/>
<circle cx="541.75" cy="115.70" r="0.95" fill="#9467bd"/>
<text x="551.40" y="117.70" font-size="5.75" text-anchor="start" font-family="'Liberation Sans', sans-serif" font-weight="normal" font-style="normal" fill="#222" stroke="#222" stroke-width="0.12">ProLLaMA</text>
<line x1="536.00" y1="123.60" x2="547.50" y2="123.60" stroke="#ff7f0e" stroke-width="0.75" stroke-opacity="0.6"/>
<circle cx="541.75" cy="123.60" r="0.95" fill="#ff7f0e"/>
<text x="551.40" y="125.60" font-size="5.75" text-anchor="start" font-family="'Liberation Sans', sans-serif" font-weight="normal" font-style="normal" fill="#222" stroke="#222" stroke-width="0.12">ProtGPT2</text>
<line x1="536.00" y1="131.60" x2="547.50" y2="131.60" stroke="#8c564b" stroke-width="0.75" stroke-opacity="0.6"/>
<circle cx="541.75" cy="131.60" r="0.95" fill="#8c564b"/>
<text x="551.40" y="133.60" font-size="5.75" text-anchor="start" font-family="'Liberation Sans', sans-serif" font-weight="normal" font-style="normal" fill="#222" stroke="#222" stroke-width="0.12">ESM-3</text>
<text x="311.70" y="11.60" font-size="16" text-anchor="start" font-family="'Liberation Serif', serif" font-weight="bold" font-style="normal" fill="#000">b</text>
<rect x="30.40" y="174.60" width="251.90" height="135.70" fill="none" stroke="#bdbdbd" stroke-width="0.9"/>
<polyline points="43.19,254.50 45.92,275.10 48.66,283.34 51.39,284.37 54.12,289.52 56.85,287.46 59.59,290.76 62.32,286.53 65.05,288.43 67.78,284.37 70.52,287.51 73.25,287.01 75.98,289.71 78.72,285.46 81.45,287.49 84.18,285.51 86.91,285.04 89.65,285.12 92.38,287.64 95.11,291.72 97.84,289.95 100.58,284.98 103.31,284.55 106.04,283.85 108.77,288.41 111.51,289.47 114.24,284.79 116.97,284.89 119.70,286.99 122.44,287.06 125.17,290.38 127.90,287.56 130.64,283.77 133.37,289.31 136.10,288.21 138.83,287.42 141.57,287.85 144.30,291.51 147.03,288.28 149.76,288.44 152.50,287.83 155.23,288.03 157.96,287.03 160.69,289.51 163.43,282.87 166.16,287.83 168.89,283.43 171.63,283.43 174.36,286.73 177.09,289.96 179.82,292.40 182.56,290.81 185.29,287.77 188.02,286.65 190.75,288.98 193.49,288.33 196.22,280.38 198.95,286.37 201.68,290.04 204.42,285.60 207.15,289.48 209.88,293.08 212.61,286.71 215.35,289.04 218.08,287.00 220.81,282.70 223.55,286.92 226.28,289.27 229.01,283.12 231.74,292.43 234.48,290.06 237.21,283.70 239.94,283.40 242.67,287.85 245.41,288.99 248.14,286.43 250.87,286.47 253.60,286.86 256.34,288.45 259.07,290.49 261.80,289.07 264.53,288.31 267.27,288.31 270.00,288.96" fill="none" stroke="#ff7f0e" stroke-width="0.6" stroke-linejoin="round" stroke-opacity="0.8"/>
<g fill="#ff7f0e"><circle cx="43.19" cy="254.50" r="0.9"/><circle cx="45.92" cy="275.10" r="0.9"/><circle cx="48.66" cy="283.34" r="0.9"/><circle cx="51.39" cy="284.37" r="0.9"/><circle cx="54.12" cy="289.52" r="0.9"/><circle cx="56.85" cy="287.46" r="0.9"/><circle cx="59.59" cy="290.76" r="0.9"/><circle cx="62.32" cy="286.53" r="0.9"/><circle cx="65.05" cy="288.43" r="0.9"/><circle cx="67.78" cy="284.37" r="0.9"/><circle cx="70.52" cy="287.51" r="0.9"/><circle cx="73.25" cy="287.01" r="0.9"/><circle cx="75.98" cy="289.71" r="0.9"/><circle cx="78.72" cy="285.46" r="0.9"/><circle cx="81.45" cy="287.49" r="0.9"/><circle cx="84.18" cy="285.51" r="0.9"/><circle cx="86.91" cy="285.04" r="0.9"/><circle cx="89.65" cy="285.12" r="0.9"/><circle cx="92.38" cy="287.64" r="0.9"/><circle cx="95.11" cy="291.72" r="0.9"/><circle cx="97.84" cy="289.95" r="0.9"/><circle cx="100.58" cy="284.98" r="0.9"/><circle cx="103.31" cy="284.55" r="0.9"/><circle cx="106.04" cy="283.85" r="0.9"/><circle cx="108.77" cy="288.41" r="0.9"/><circle cx="111.51" cy="289.47" r="0.9"/><circle cx="114.24" cy="284.79" r="0.9"/><circle cx="116.97" cy="284.89" r="0.9"/><circle cx="119.70" cy="286.99" r="0.9"/><circle cx="122.44" cy="287.06" r="0.9"/><circle cx="125.17" cy="290.38" r="0.9"/><circle cx="127.90" cy="287.56" r="0.9"/><circle cx="130.64" cy="283.77" r="0.9"/><circle cx="133.37" cy="289.31" r="0.9"/><circle cx="136.10" cy="288.21" r="0.9"/><circle cx="138.83" cy="287.42" r="0.9"/><circle cx="141.57" cy="287.85" r="0.9"/><circle cx="144.30" cy="291.51" r="0.9"/><circle cx="147.03" cy="288.28" r="0.9"/><circle cx="149.76" cy="288.44" r="0.9"/><circle cx="152.50" cy="287.83" r="0.9"/><circle cx="155.23" cy="288.03" r="0.9"/><circle cx="157.96" cy="287.03" r="0.9"/><circle cx="160.69" cy="289.51" r="0.9"/><circle cx="163.43" cy="282.87" r="0.9"/><circle cx="166.16" cy="287.83" r="0.9"/><circle cx="168.89" cy="283.43" r="0.9"/><circle cx="171.63" cy="283.43" r="0.9"/><circle cx="174.36" cy="286.73" r="0.9"/><circle cx="177.09" cy="289.96" r="0.9"/><circle cx="179.82" cy="292.40" r="0.9"/><circle cx="182.56" cy="290.81" r="0.9"/><circle cx="185.29" cy="287.77" r="0.9"/><circle cx="188.02" cy="286.65" r="0.9"/><circle cx="190.75" cy="288.98" r="0.9"/><circle cx="193.49" cy="288.33" r="0.9"/><circle cx="196.22" cy="280.38" r="0.9"/><circle cx="198.95" cy="286.37" r="0.9"/><circle cx="201.68" cy="290.04" r="0.9"/><circle cx="204.42" cy="285.60" r="0.9"/><circle cx="207.15" cy="289.48" r="0.9"/><circle cx="209.88" cy="293.08" r="0.9"/><circle cx="212.61" cy="286.71" r="0.9"/><circle cx="215.35" cy="289.04" r="0.9"/><circle cx="218.08" cy="287.00" r="0.9"/><circle cx="220.81" cy="282.70" r="0.9"/><circle cx="223.55" cy="286.92" r="0.9"/><circle cx="226.28" cy="289.27" r="0.9"/><circle cx="229.01" cy="283.12" r="0.9"/><circle cx="231.74" cy="292.43" r="0.9"/><circle cx="234.48" cy="290.06" r="0.9"/><circle cx="237.21" cy="283.70" r="0.9"/><circle cx="239.94" cy="283.40" r="0.9"/><circle cx="242.67" cy="287.85" r="0.9"/><circle cx="245.41" cy="288.99" r="0.9"/><circle cx="248.14" cy="286.43" r="0.9"/><circle cx="250.87" cy="286.47" r="0.9"/><circle cx="253.60" cy="286.86" r="0.9"/><circle cx="256.34" cy="288.45" r="0.9"/><circle cx="259.07" cy="290.49" r="0.9"/><circle cx="261.80" cy="289.07" r="0.9"/><circle cx="264.53" cy="288.31" r="0.9"/><circle cx="267.27" cy="288.31" r="0.9"/><circle cx="270.00" cy="288.96" r="0.9"/></g>
<polyline points="43.19,275.10 45.92,283.34 48.66,289.52 51.39,292.61 54.12,281.28 56.85,291.58 59.59,291.70 62.32,291.69 65.05,290.72 67.78,290.93 70.52,290.59 73.25,289.90 75.98,289.49 78.72,289.84 81.45,291.04 84.18,289.60 86.91,290.55 89.65,288.37 92.38,289.50 95.11,290.33 97.84,290.45 100.58,291.56 103.31,290.19 106.04,291.75 108.77,289.91 111.51,292.64 114.24,291.79 116.97,288.58 119.70,288.49 122.44,288.75 125.17,292.58 127.90,292.20 130.64,292.14 133.37,292.44 136.10,290.06 138.83,290.95 141.57,290.34 144.30,290.95 147.03,291.32 149.76,287.81 152.50,289.60 155.23,291.58 157.96,288.84 160.69,291.17 163.43,290.68 166.16,288.59 168.89,291.31 171.63,290.65 174.36,290.73 177.09,288.21 179.82,287.90 182.56,290.07 185.29,288.00 188.02,292.03 190.75,290.58 193.49,288.75 196.22,290.65 198.95,289.92 201.68,290.07 204.42,289.50 207.15,290.03 209.88,292.18 212.61,290.82 215.35,291.25 218.08,289.62 220.81,292.49 223.55,291.37 226.28,288.88 229.01,289.91 231.74,287.32 234.48,290.39 237.21,293.70 239.94,289.12 242.67,290.11 245.41,290.78 248.14,292.00 250.87,290.58 253.60,289.61 256.34,289.92 259.07,290.24 261.80,289.59 264.53,290.14 267.27,291.63 270.00,289.99" fill="none" stroke="#8c564b" stroke-width="0.6" stroke-linejoin="round" stroke-opacity="0.8"/>
<g fill="#8c564b"><circle cx="43.19" cy="275.10" r="0.9"/><circle cx="45.92" cy="283.34" r="0.9"/><circle cx="48.66" cy="289.52" r="0.9"/><circle cx="51.39" cy="292.61" r="0.9"/><circle cx="54.12" cy="281.28" r="0.9"/><circle cx="56.85" cy="291.58" r="0.9"/><circle cx="59.59" cy="291.70" r="0.9"/><circle cx="62.32" cy="291.69" r="0.9"/><circle cx="65.05" cy="290.72" r="0.9"/><circle cx="67.78" cy="290.93" r="0.9"/><circle cx="70.52" cy="290.59" r="0.9"/><circle cx="73.25" cy="289.90" r="0.9"/><circle cx="75.98" cy="289.49" r="0.9"/><circle cx="78.72" cy="289.84" r="0.9"/><circle cx="81.45" cy="291.04" r="0.9"/><circle cx="84.18" cy="289.60" r="0.9"/><circle cx="86.91" cy="290.55" r="0.9"/><circle cx="89.65" cy="288.37" r="0.9"/><circle cx="92.38" cy="289.50" r="0.9"/><circle cx="95.11" cy="290.33" r="0.9"/><circle cx="97.84" cy="290.45" r="0.9"/><circle cx="100.58" cy="291.56" r="0.9"/><circle cx="103.31" cy="290.19" r="0.9"/><circle cx="106.04" cy="291.75" r="0.9"/><circle cx="108.77" cy="289.91" r="0.9"/><circle cx="111.51" cy="292.64" r="0.9"/><circle cx="114.24" cy="291.79" r="0.9"/><circle cx="116.97" cy="288.58" r="0.9"/><circle cx="119.70" cy="288.49" r="0.9"/><circle cx="122.44" cy="288.75" r="0.9"/><circle cx="125.17" cy="292.58" r="0.9"/><circle cx="127.90" cy="292.20" r="0.9"/><circle cx="130.64" cy="292.14" r="0.9"/><circle cx="133.37" cy="292.44" r="0.9"/><circle cx="136.10" cy="290.06" r="0.9"/><circle cx="138.83" cy="290.95" r="0.9"/><circle cx="141.57" cy="290.34" r="0.9"/><circle cx="144.30" cy="290.95" r="0.9"/><circle cx="147.03" cy="291.32" r="0.9"/><circle cx="149.76" cy="287.81" r="0.9"/><circle cx="152.50" cy="289.60" r="0.9"/><circle cx="155.23" cy="291.58" r="0.9"/><circle cx="157.96" cy="288.84" r="0.9"/><circle cx="160.69" cy="291.17" r="0.9"/><circle cx="163.43" cy="290.68" r="0.9"/><circle cx="166.16" cy="288.59" r="0.9"/><circle cx="168.89" cy="291.31" r="0.9"/><circle cx="171.63" cy="290.65" r="0.9"/><circle cx="174.36" cy="290.73" r="0.9"/><circle cx="177.09" cy="288.21" r="0.9"/><circle cx="179.82" cy="287.90" r="0.9"/><circle cx="182.56" cy="290.07" r="0.9"/><circle cx="185.29" cy="288.00" r="0.9"/><circle cx="188.02" cy="292.03" r="0.9"/><circle cx="190.75" cy="290.58" r="0.9"/><circle cx="193.49" cy="288.75" r="0.9"/><circle cx="196.22" cy="290.65" r="0.9"/><circle cx="198.95" cy="289.92" r="0.9"/><circle cx="201.68" cy="290.07" r="0.9"/><circle cx="204.42" cy="289.50" r="0.9"/><circle cx="207.15" cy="290.03" r="0.9"/><circle cx="209.88" cy="292.18" r="0.9"/><circle cx="212.61" cy="290.82" r="0.9"/><circle cx="215.35" cy="291.25" r="0.9"/><circle cx="218.08" cy="289.62" r="0.9"/><circle cx="220.81" cy="292.49" r="0.9"/><circle cx="223.55" cy="291.37" r="0.9"/><circle cx="226.28" cy="288.88" r="0.9"/><circle cx="229.01" cy="289.91" r="0.9"/><circle cx="231.74" cy="287.32" r="0.9"/><circle cx="234.48" cy="290.39" r="0.9"/><circle cx="237.21" cy="293.70" r="0.9"/><circle cx="239.94" cy="289.12" r="0.9"/><circle cx="242.67" cy="290.11" r="0.9"/><circle cx="245.41" cy="290.78" r="0.9"/><circle cx="248.14" cy="292.00" r="0.9"/><circle cx="250.87" cy="290.58" r="0.9"/><circle cx="253.60" cy="289.61" r="0.9"/><circle cx="256.34" cy="289.92" r="0.9"/><circle cx="259.07" cy="290.24" r="0.9"/><circle cx="261.80" cy="289.59" r="0.9"/><circle cx="264.53" cy="290.14" r="0.9"/><circle cx="267.27" cy="291.63" r="0.9"/><circle cx="270.00" cy="289.99" r="0.9"/></g>
<polyline points="62.32,291.58 65.05,293.64 67.78,289.52 70.52,291.49 73.25,288.92 75.98,291.66 78.72,292.02 81.45,290.64 84.18,286.05 86.91,290.49 89.65,292.92 92.38,292.16 95.11,284.65 97.84,290.39 100.58,290.12 103.31,289.36 106.04,286.61 108.77,288.46 111.51,288.58 114.24,289.50 116.97,291.09 119.70,289.64 122.44,290.63 125.17,292.83 127.90,295.05 130.64,287.31 133.37,287.71 136.10,288.60 138.83,288.79 141.57,289.45 144.30,292.15 147.03,292.37 149.76,291.38 152.50,291.25 155.23,291.67 157.96,292.69 160.69,288.74 163.43,288.83 166.16,286.75 168.89,286.48 171.63,293.64 174.36,296.73 177.09,297.76" fill="none" stroke="#9467bd" stroke-width="0.6" stroke-linejoin="round" stroke-opacity="0.8"/>
<g fill="#9467bd"><circle cx="62.32" cy="291.58" r="0.9"/><circle cx="65.05" cy="293.64" r="0.9"/><circle cx="67.78" cy="289.52" r="0.9"/><circle cx="70.52" cy="291.49" r="0.9"/><circle cx="73.25" cy="288.92" r="0.9"/><circle cx="75.98" cy="291.66" r="0.9"/><circle cx="78.72" cy="292.02" r="0.9"/><circle cx="81.45" cy="290.64" r="0.9"/><circle cx="84.18" cy="286.05" r="0.9"/><circle cx="86.91" cy="290.49" r="0.9"/><circle cx="89.65" cy="292.92" r="0.9"/><circle cx="92.38" cy="292.16" r="0.9"/><circle cx="95.11" cy="284.65" r="0.9"/><circle cx="97.84" cy="290.39" r="0.9"/><circle cx="100.58" cy="290.12" r="0.9"/><circle cx="103.31" cy="289.36" r="0.9"/><circle cx="106.04" cy="286.61" r="0.9"/><circle cx="108.77" cy="288.46" r="0.9"/><circle cx="111.51" cy="288.58" r="0.9"/><circle cx="114.24" cy="289.50" r="0.9"/><circle cx="116.97" cy="291.09" r="0.9"/><circle cx="119.70" cy="289.64" r="0.9"/><circle cx="122.44" cy="290.63" r="0.9"/><circle cx="125.17" cy="292.83" r="0.9"/><circle cx="127.90" cy="295.05" r="0.9"/><circle cx="130.64" cy="287.31" r="0.9"/><circle cx="133.37" cy="287.71" r="0.9"/><circle cx="136.10" cy="288.60" r="0.9"/><circle cx="138.83" cy="288.79" r="0.9"/><circle cx="141.57" cy="289.45" r="0.9"/><circle cx="144.30" cy="292.15" r="0.9"/><circle cx="147.03" cy="292.37" r="0.9"/><circle cx="149.76" cy="291.38" r="0.9"/><circle cx="152.50" cy="291.25" r="0.9"/><circle cx="155.23" cy="291.67" r="0.9"/><circle cx="157.96" cy="292.69" r="0.9"/><circle cx="160.69" cy="288.74" r="0.9"/><circle cx="163.43" cy="288.83" r="0.9"/><circle cx="166.16" cy="286.75" r="0.9"/><circle cx="168.89" cy="286.48" r="0.9"/><circle cx="171.63" cy="293.64" r="0.9"/><circle cx="174.36" cy="296.73" r="0.9"/><circle cx="177.09" cy="297.76" r="0.9"/></g>
<polyline points="54.12,304.97 56.85,275.10 59.59,246.26 62.32,252.44 65.05,247.29 67.78,275.10 70.52,246.26 73.25,258.62 75.98,261.71 78.72,277.16 81.45,259.33 84.18,264.25 86.91,265.81 89.65,249.14 92.38,261.86 95.11,267.08 97.84,274.97 100.58,257.05 103.31,259.01 106.04,275.82 108.77,268.06 111.51,264.90 114.24,280.37 116.97,269.15 119.70,255.33 122.44,280.17 125.17,262.82 127.90,251.26 130.64,271.98 133.37,270.60 136.10,265.07 138.83,262.62 141.57,263.59 144.30,279.33 147.03,273.16 149.76,266.03 152.50,269.47 155.23,257.48 157.96,269.51 160.69,269.91 163.43,251.62 166.16,267.53 168.89,274.94 171.63,266.88 174.36,268.78 177.09,261.00 179.82,263.13 182.56,269.60 185.29,270.03 188.02,271.23 190.75,255.73 193.49,250.25 196.22,267.33 198.95,262.21 201.68,263.90 204.42,271.08 207.15,271.17 209.88,270.83 212.61,282.72 215.35,273.10 218.08,263.12 220.81,259.26 223.55,268.57 226.28,269.96 229.01,261.59 231.74,249.94 234.48,274.51 237.21,273.24 239.94,270.46 242.67,262.35 245.41,273.90 248.14,263.02 250.87,272.80 253.60,262.23 256.34,229.78 259.07,270.40 261.80,260.14 264.53,276.63 267.27,273.19 270.00,260.85" fill="none" stroke="#d62728" stroke-width="0.6" stroke-linejoin="round" stroke-opacity="0.8"/>
<g fill="#d62728"><circle cx="54.12" cy="304.97" r="0.9"/><circle cx="56.85" cy="275.10" r="0.9"/><circle cx="59.59" cy="246.26" r="0.9"/><circle cx="62.32" cy="252.44" r="0.9"/><circle cx="65.05" cy="247.29" r="0.9"/><circle cx="67.78" cy="275.10" r="0.9"/><circle cx="70.52" cy="246.26" r="0.9"/><circle cx="73.25" cy="258.62" r="0.9"/><circle cx="75.98" cy="261.71" r="0.9"/><circle cx="78.72" cy="277.16" r="0.9"/><circle cx="81.45" cy="259.33" r="0.9"/><circle cx="84.18" cy="264.25" r="0.9"/><circle cx="86.91" cy="265.81" r="0.9"/><circle cx="89.65" cy="249.14" r="0.9"/><circle cx="92.38" cy="261.86" r="0.9"/><circle cx="95.11" cy="267.08" r="0.9"/><circle cx="97.84" cy="274.97" r="0.9"/><circle cx="100.58" cy="257.05" r="0.9"/><circle cx="103.31" cy="259.01" r="0.9"/><circle cx="106.04" cy="275.82" r="0.9"/><circle cx="108.77" cy="268.06" r="0.9"/><circle cx="111.51" cy="264.90" r="0.9"/><circle cx="114.24" cy="280.37" r="0.9"/><circle cx="116.97" cy="269.15" r="0.9"/><circle cx="119.70" cy="255.33" r="0.9"/><circle cx="122.44" cy="280.17" r="0.9"/><circle cx="125.17" cy="262.82" r="0.9"/><circle cx="127.90" cy="251.26" r="0.9"/><circle cx="130.64" cy="271.98" r="0.9"/><circle cx="133.37" cy="270.60" r="0.9"/><circle cx="136.10" cy="265.07" r="0.9"/><circle cx="138.83" cy="262.62" r="0.9"/><circle cx="141.57" cy="263.59" r="0.9"/><circle cx="144.30" cy="279.33" r="0.9"/><circle cx="147.03" cy="273.16" r="0.9"/><circle cx="149.76" cy="266.03" r="0.9"/><circle cx="152.50" cy="269.47" r="0.9"/><circle cx="155.23" cy="257.48" r="0.9"/><circle cx="157.96" cy="269.51" r="0.9"/><circle cx="160.69" cy="269.91" r="0.9"/><circle cx="163.43" cy="251.62" r="0.9"/><circle cx="166.16" cy="267.53" r="0.9"/><circle cx="168.89" cy="274.94" r="0.9"/><circle cx="171.63" cy="266.88" r="0.9"/><circle cx="174.36" cy="268.78" r="0.9"/><circle cx="177.09" cy="261.00" r="0.9"/><circle cx="179.82" cy="263.13" r="0.9"/><circle cx="182.56" cy="269.60" r="0.9"/><circle cx="185.29" cy="270.03" r="0.9"/><circle cx="188.02" cy="271.23" r="0.9"/><circle cx="190.75" cy="255.73" r="0.9"/><circle cx="193.49" cy="250.25" r="0.9"/><circle cx="196.22" cy="267.33" r="0.9"/><circle cx="198.95" cy="262.21" r="0.9"/><circle cx="201.68" cy="263.90" r="0.9"/><circle cx="204.42" cy="271.08" r="0.9"/><circle cx="207.15" cy="271.17" r="0.9"/><circle cx="209.88" cy="270.83" r="0.9"/><circle cx="212.61" cy="282.72" r="0.9"/><circle cx="215.35" cy="273.10" r="0.9"/><circle cx="218.08" cy="263.12" r="0.9"/><circle cx="220.81" cy="259.26" r="0.9"/><circle cx="223.55" cy="268.57" r="0.9"/><circle cx="226.28" cy="269.96" r="0.9"/><circle cx="229.01" cy="261.59" r="0.9"/><circle cx="231.74" cy="249.94" r="0.9"/><circle cx="234.48" cy="274.51" r="0.9"/><circle cx="237.21" cy="273.24" r="0.9"/><circle cx="239.94" cy="270.46" r="0.9"/><circle cx="242.67" cy="262.35" r="0.9"/><circle cx="245.41" cy="273.90" r="0.9"/><circle cx="248.14" cy="263.02" r="0.9"/><circle cx="250.87" cy="272.80" r="0.9"/><circle cx="253.60" cy="262.23" r="0.9"/><circle cx="256.34" cy="229.78" r="0.9"/><circle cx="259.07" cy="270.40" r="0.9"/><circle cx="261.80" cy="260.14" r="0.9"/><circle cx="264.53" cy="276.63" r="0.9"/><circle cx="267.27" cy="273.19" r="0.9"/><circle cx="270.00" cy="260.85" r="0.9"/></g>
<polyline points="43.19,180.34 45.92,218.45 48.66,224.63 51.39,226.69 54.12,236.99 56.85,223.60 59.59,219.48 62.32,211.24 65.05,226.69 67.78,213.30 70.52,223.60 73.25,215.48 75.98,211.15 78.72,211.63 81.45,218.55 84.18,217.86 86.91,210.98 89.65,207.87 92.38,213.83 95.11,216.25 97.84,209.65 100.58,214.86 103.31,211.02 106.04,207.97 108.77,211.38 111.51,213.44 114.24,211.00 116.97,216.09 119.70,214.37 122.44,215.84 125.17,214.47 127.90,215.52 130.64,214.40 133.37,215.12 136.10,213.38 138.83,213.48 141.57,212.61 144.30,208.51 147.03,219.45 149.76,208.91 152.50,214.59 155.23,218.28 157.96,214.35 160.69,213.37 163.43,209.75 166.16,217.65 168.89,212.91 171.63,213.28 174.36,219.96 177.09,218.11 179.82,211.49 182.56,211.13 185.29,209.68 188.02,211.73 190.75,212.25 193.49,213.26 196.22,209.23 198.95,216.84 201.68,214.24 204.42,212.28 207.15,219.56 209.88,208.85 212.61,216.65 215.35,213.98 218.08,233.08 220.81,216.79 223.55,215.67 226.28,207.92 229.01,217.72 231.74,215.31 234.48,211.80 237.21,212.02 239.94,211.51 242.67,212.34 245.41,208.72 248.14,209.94 250.87,211.50 253.60,216.24 256.34,216.36 259.07,220.79 261.80,211.16 264.53,220.47 267.27,210.45 270.00,206.87" fill="none" stroke="#2ca02c" stroke-width="0.6" stroke-linejoin="round" stroke-opacity="0.8"/>
<g fill="#2ca02c"><circle cx="43.19" cy="180.34" r="0.9"/><circle cx="45.92" cy="218.45" r="0.9"/><circle cx="48.66" cy="224.63" r="0.9"/><circle cx="51.39" cy="226.69" r="0.9"/><circle cx="54.12" cy="236.99" r="0.9"/><circle cx="56.85" cy="223.60" r="0.9"/><circle cx="59.59" cy="219.48" r="0.9"/><circle cx="62.32" cy="211.24" r="0.9"/><circle cx="65.05" cy="226.69" r="0.9"/><circle cx="67.78" cy="213.30" r="0.9"/><circle cx="70.52" cy="223.60" r="0.9"/><circle cx="73.25" cy="215.48" r="0.9"/><circle cx="75.98" cy="211.15" r="0.9"/><circle cx="78.72" cy="211.63" r="0.9"/><circle cx="81.45" cy="218.55" r="0.9"/><circle cx="84.18" cy="217.86" r="0.9"/><circle cx="86.91" cy="210.98" r="0.9"/><circle cx="89.65" cy="207.87" r="0.9"/><circle cx="92.38" cy="213.83" r="0.9"/><circle cx="95.11" cy="216.25" r="0.9"/><circle cx="97.84" cy="209.65" r="0.9"/><circle cx="100.58" cy="214.86" r="0.9"/><circle cx="103.31" cy="211.02" r="0.9"/><circle cx="106.04" cy="207.97" r="0.9"/><circle cx="108.77" cy="211.38" r="0.9"/><circle cx="111.51" cy="213.44" r="0.9"/><circle cx="114.24" cy="211.00" r="0.9"/><circle cx="116.97" cy="216.09" r="0.9"/><circle cx="119.70" cy="214.37" r="0.9"/><circle cx="122.44" cy="215.84" r="0.9"/><circle cx="125.17" cy="214.47" r="0.9"/><circle cx="127.90" cy="215.52" r="0.9"/><circle cx="130.64" cy="214.40" r="0.9"/><circle cx="133.37" cy="215.12" r="0.9"/><circle cx="136.10" cy="213.38" r="0.9"/><circle cx="138.83" cy="213.48" r="0.9"/><circle cx="141.57" cy="212.61" r="0.9"/><circle cx="144.30" cy="208.51" r="0.9"/><circle cx="147.03" cy="219.45" r="0.9"/><circle cx="149.76" cy="208.91" r="0.9"/><circle cx="152.50" cy="214.59" r="0.9"/><circle cx="155.23" cy="218.28" r="0.9"/><circle cx="157.96" cy="214.35" r="0.9"/><circle cx="160.69" cy="213.37" r="0.9"/><circle cx="163.43" cy="209.75" r="0.9"/><circle cx="166.16" cy="217.65" r="0.9"/><circle cx="168.89" cy="212.91" r="0.9"/><circle cx="171.63" cy="213.28" r="0.9"/><circle cx="174.36" cy="219.96" r="0.9"/><circle cx="177.09" cy="218.11" r="0.9"/><circle cx="179.82" cy="211.49" r="0.9"/><circle cx="182.56" cy="211.13" r="0.9"/><circle cx="185.29" cy="209.68" r="0.9"/><circle cx="188.02" cy="211.73" r="0.9"/><circle cx="190.75" cy="212.25" r="0.9"/><circle cx="193.49" cy="213.26" r="0.9"/><circle cx="196.22" cy="209.23" r="0.9"/><circle cx="198.95" cy="216.84" r="0.9"/><circle cx="201.68" cy="214.24" r="0.9"/><circle cx="204.42" cy="212.28" r="0.9"/><circle cx="207.15" cy="219.56" r="0.9"/><circle cx="209.88" cy="208.85" r="0.9"/><circle cx="212.61" cy="216.65" r="0.9"/><circle cx="215.35" cy="213.98" r="0.9"/><circle cx="218.08" cy="233.08" r="0.9"/><circle cx="220.81" cy="216.79" r="0.9"/><circle cx="223.55" cy="215.67" r="0.9"/><circle cx="226.28" cy="207.92" r="0.9"/><circle cx="229.01" cy="217.72" r="0.9"/><circle cx="231.74" cy="215.31" r="0.9"/><circle cx="234.48" cy="211.80" r="0.9"/><circle cx="237.21" cy="212.02" r="0.9"/><circle cx="239.94" cy="211.51" r="0.9"/><circle cx="242.67" cy="212.34" r="0.9"/><circle cx="245.41" cy="208.72" r="0.9"/><circle cx="248.14" cy="209.94" r="0.9"/><circle cx="250.87" cy="211.50" r="0.9"/><circle cx="253.60" cy="216.24" r="0.9"/><circle cx="256.34" cy="216.36" r="0.9"/><circle cx="259.07" cy="220.79" r="0.9"/><circle cx="261.80" cy="211.16" r="0.9"/><circle cx="264.53" cy="220.47" r="0.9"/><circle cx="267.27" cy="210.45" r="0.9"/><circle cx="270.00" cy="206.87" r="0.9"/></g>
<polyline points="43.19,254.50 45.92,244.20 48.66,208.15 51.39,217.42 54.12,205.06 56.85,200.94 59.59,205.06 62.32,217.42 65.05,239.05 67.78,207.12 70.52,217.42 73.25,211.24 75.98,208.21 78.72,216.78 81.45,207.29 84.18,212.72 86.91,208.52 89.65,215.66 92.38,216.09 95.11,207.78 97.84,210.41 100.58,211.76 103.31,209.89 106.04,210.31 108.77,216.55 111.51,220.48 114.24,218.51 116.97,218.90 119.70,220.50 122.44,214.67 125.17,214.23 127.90,212.42 130.64,211.47 133.37,213.70 136.10,213.21 138.83,212.00 141.57,215.97 144.30,214.92 147.03,212.14 149.76,214.78 152.50,214.39 155.23,212.66 157.96,207.32 160.69,211.09 163.43,213.52 166.16,214.44 168.89,212.70 171.63,203.96 174.36,223.94 177.09,210.29 179.82,211.41 182.56,209.05 185.29,216.53 188.02,204.43 190.75,208.56 193.49,212.46 196.22,211.68 198.95,214.93 201.68,212.08 204.42,212.80 207.15,208.77 209.88,210.94 212.61,212.58 215.35,209.76 218.08,210.21 220.81,211.44 223.55,217.94 226.28,208.45 229.01,216.59 231.74,216.01 234.48,212.66 237.21,210.37 239.94,207.05 242.67,218.53 245.41,206.81 248.14,206.20 250.87,213.98 253.60,213.02 256.34,214.39 259.07,214.51 261.80,217.24 264.53,218.54 267.27,213.01 270.00,211.31" fill="none" stroke="#1f77b4" stroke-width="0.6" stroke-linejoin="round" stroke-opacity="0.8"/>
<g fill="#1f77b4"><circle cx="43.19" cy="254.50" r="0.9"/><circle cx="45.92" cy="244.20" r="0.9"/><circle cx="48.66" cy="208.15" r="0.9"/><circle cx="51.39" cy="217.42" r="0.9"/><circle cx="54.12" cy="205.06" r="0.9"/><circle cx="56.85" cy="200.94" r="0.9"/><circle cx="59.59" cy="205.06" r="0.9"/><circle cx="62.32" cy="217.42" r="0.9"/><circle cx="65.05" cy="239.05" r="0.9"/><circle cx="67.78" cy="207.12" r="0.9"/><circle cx="70.52" cy="217.42" r="0.9"/><circle cx="73.25" cy="211.24" r="0.9"/><circle cx="75.98" cy="208.21" r="0.9"/><circle cx="78.72" cy="216.78" r="0.9"/><circle cx="81.45" cy="207.29" r="0.9"/><circle cx="84.18" cy="212.72" r="0.9"/><circle cx="86.91" cy="208.52" r="0.9"/><circle cx="89.65" cy="215.66" r="0.9"/><circle cx="92.38" cy="216.09" r="0.9"/><circle cx="95.11" cy="207.78" r="0.9"/><circle cx="97.84" cy="210.41" r="0.9"/><circle cx="100.58" cy="211.76" r="0.9"/><circle cx="103.31" cy="209.89" r="0.9"/><circle cx="106.04" cy="210.31" r="0.9"/><circle cx="108.77" cy="216.55" r="0.9"/><circle cx="111.51" cy="220.48" r="0.9"/><circle cx="114.24" cy="218.51" r="0.9"/><circle cx="116.97" cy="218.90" r="0.9"/><circle cx="119.70" cy="220.50" r="0.9"/><circle cx="122.44" cy="214.67" r="0.9"/><circle cx="125.17" cy="214.23" r="0.9"/><circle cx="127.90" cy="212.42" r="0.9"/><circle cx="130.64" cy="211.47" r="0.9"/><circle cx="133.37" cy="213.70" r="0.9"/><circle cx="136.10" cy="213.21" r="0.9"/><circle cx="138.83" cy="212.00" r="0.9"/><circle cx="141.57" cy="215.97" r="0.9"/><circle cx="144.30" cy="214.92" r="0.9"/><circle cx="147.03" cy="212.14" r="0.9"/><circle cx="149.76" cy="214.78" r="0.9"/><circle cx="152.50" cy="214.39" r="0.9"/><circle cx="155.23" cy="212.66" r="0.9"/><circle cx="157.96" cy="207.32" r="0.9"/><circle cx="160.69" cy="211.09" r="0.9"/><circle cx="163.43" cy="213.52" r="0.9"/><circle cx="166.16" cy="214.44" r="0.9"/><circle cx="168.89" cy="212.70" r="0.9"/><circle cx="171.63" cy="203.96" r="0.9"/><circle cx="174.36" cy="223.94" r="0.9"/><circle cx="177.09" cy="210.29" r="0.9"/><circle cx="179.82" cy="211.41" r="0.9"/><circle cx="182.56" cy="209.05" r="0.9"/><circle cx="185.29" cy="216.53" r="0.9"/><circle cx="188.02" cy="204.43" r="0.9"/><circle cx="190.75" cy="208.56" r="0.9"/><circle cx="193.49" cy="212.46" r="0.9"/><circle cx="196.22" cy="211.68" r="0.9"/><circle cx="198.95" cy="214.93" r="0.9"/><circle cx="201.68" cy="212.08" r="0.9"/><circle cx="204.42" cy="212.80" r="0.9"/><circle cx="207.15" cy="208.77" r="0.9"/><circle cx="209.88" cy="210.94" r="0.9"/><circle cx="212.61" cy="212.58" r="0.9"/><circle cx="215.35" cy="209.76" r="0.9"/><circle cx="218.08" cy="210.21" r="0.9"/><circle cx="220.81" cy="211.44" r="0.9"/><circle cx="223.55" cy="217.94" r="0.9"/><circle cx="226.28" cy="208.45" r="0.9"/><circle cx="229.01" cy="216.59" r="0.9"/><circle cx="231.74" cy="216.01" r="0.9"/><circle cx="234.48" cy="212.66" r="0.9"/><circle cx="237.21" cy="210.37" r="0.9"/><circle cx="239.94" cy="207.05" r="0.9"/><circle cx="242.67" cy="218.53" r="0.9"/><circle cx="245.41" cy="206.81" r="0.9"/><circle cx="248.14" cy="206.20" r="0.9"/><circle cx="250.87" cy="213.98" r="0.9"/><circle cx="253.60" cy="213.02" r="0.9"/><circle cx="256.34" cy="214.39" r="0.9"/><circle cx="259.07" cy="214.51" r="0.9"/><circle cx="261.80" cy="217.24" r="0.9"/><circle cx="264.53" cy="218.54" r="0.9"/><circle cx="267.27" cy="213.01" r="0.9"/><circle cx="270.00" cy="211.31" r="0.9"/></g>
<line x1="28.40" y1="295.70" x2="30.40" y2="295.70" stroke="#444" stroke-width="0.6"/>
<text x="28.10" y="297.70" font-size="5.7" text-anchor="end" font-family="'Liberation Sans', sans-serif" font-weight="normal" font-style="normal" fill="#111" stroke="#111" stroke-width="0.12">0.2</text>
<line x1="28.40" y1="275.10" x2="30.40" y2="275.10" stroke="#444" stroke-width="0.6"/>
<text x="28.10" y="277.10" font-size="5.7" text-anchor="end" font-family="'Liberation Sans', sans-serif" font-weight="normal" font-style="normal" fill="#111" stroke="#111" stroke-width="0.12">0.3</text>
<line x1="28.40" y1="254.50" x2="30.40" y2="254.50" stroke="#444" stroke-width="0.6"/>
<text x="28.10" y="256.50" font-size="5.7" text-anchor="end" font-family="'Liberation Sans', sans-serif" font-weight="normal" font-style="normal" fill="#111" stroke="#111" stroke-width="0.12">0.4</text>
<line x1="28.40" y1="233.90" x2="30.40" y2="233.90" stroke="#444" stroke-width="0.6"/>
<text x="28.10" y="235.90" font-size="5.7" text-anchor="end" font-family="'Liberation Sans', sans-serif" font-weight="normal" font-style="normal" fill="#111" stroke="#111" stroke-width="0.12">0.5</text>
<line x1="28.40" y1="213.30" x2="30.40" y2="213.30" stroke="#444" stroke-width="0.6"/>
<text x="28.10" y="215.30" font-size="5.7" text-anchor="end" font-family="'Liberation Sans', sans-serif" font-weight="normal" font-style="normal" fill="#111" stroke="#111" stroke-width="0.12">0.6</text>
<line x1="28.40" y1="192.70" x2="30.40" y2="192.70" stroke="#444" stroke-width="0.6"/>
<text x="28.10" y="194.70" font-size="5.7" text-anchor="end" font-family="'Liberation Sans', sans-serif" font-weight="normal" font-style="normal" fill="#111" stroke="#111" stroke-width="0.12">0.7</text>
<line x1="40.90" y1="310.30" x2="40.90" y2="312.30" stroke="#444" stroke-width="0.6"/>
<text x="40.90" y="317.30" font-size="5.85" text-anchor="middle" font-family="'Liberation Sans', sans-serif" font-weight="normal" font-style="normal" fill="#222" stroke="#222" stroke-width="0.12">0</text>
<line x1="86.72" y1="310.30" x2="86.72" y2="312.30" stroke="#444" stroke-width="0.6"/>
<text x="86.72" y="317.30" font-size="5.85" text-anchor="middle" font-family="'Liberation Sans', sans-serif" font-weight="normal" font-style="normal" fill="#222" stroke="#222" stroke-width="0.12">100</text>
<line x1="132.54" y1="310.30" x2="132.54" y2="312.30" stroke="#444" stroke-width="0.6"/>
<text x="132.54" y="317.30" font-size="5.85" text-anchor="middle" font-family="'Liberation Sans', sans-serif" font-weight="normal" font-style="normal" fill="#222" stroke="#222" stroke-width="0.12">200</text>
<line x1="178.36" y1="310.30" x2="178.36" y2="312.30" stroke="#444" stroke-width="0.6"/>
<text x="178.36" y="317.30" font-size="5.85" text-anchor="middle" font-family="'Liberation Sans', sans-serif" font-weight="normal" font-style="normal" fill="#222" stroke="#222" stroke-width="0.12">300</text>
<line x1="224.18" y1="310.30" x2="224.18" y2="312.30" stroke="#444" stroke-width="0.6"/>
<text x="224.18" y="317.30" font-size="5.85" text-anchor="middle" font-family="'Liberation Sans', sans-serif" font-weight="normal" font-style="normal" fill="#222" stroke="#222" stroke-width="0.12">400</text>
<line x1="270.00" y1="310.30" x2="270.00" y2="312.30" stroke="#444" stroke-width="0.6"/>
<text x="270.00" y="317.30" font-size="5.85" text-anchor="middle" font-family="'Liberation Sans', sans-serif" font-weight="normal" font-style="normal" fill="#222" stroke="#222" stroke-width="0.12">500</text>
<text x="156.35" y="324.30" font-size="6.62" text-anchor="middle" font-family="'Liberation Sans', sans-serif" font-weight="normal" font-style="normal" fill="#222" stroke="#222" stroke-width="0.12">Sequence Length (Number of Residues)</text>
<text x="19.00" y="243.00" font-size="6.5" text-anchor="middle" font-family="'Liberation Sans', sans-serif" font-weight="normal" font-style="normal" fill="#111" stroke="#111" stroke-width="0.12" transform="rotate(-90 19.00 243.00)">Average TM-Score</text>
<rect x="75.80" y="177.00" width="161.00" height="17.00" fill="white" stroke="#dddddd" stroke-width="0.6" rx="1"/>
<line x1="78.00" y1="181.50" x2="89.50" y2="181.50" stroke="#1f77b4" stroke-width="0.75" stroke-opacity="0.6"/>
<circle cx="83.75" cy="181.50" r="0.95" fill="#1f77b4"/>
<text x="93.50" y="183.50" font-size="5.75" text-anchor="start" font-family="'Liberation Sans', sans-serif" font-weight="normal" font-style="normal" fill="#222" stroke="#222" stroke-width="0.12">ProtDAT(PM2)</text>
<line x1="78.00" y1="189.70" x2="89.50" y2="189.70" stroke="#2ca02c" stroke-width="0.75" stroke-opacity="0.6"/>
<circle cx="83.75" cy="189.70" r="0.95" fill="#2ca02c"/>
<text x="93.50" y="191.70" font-size="5.75" text-anchor="start" font-family="'Liberation Sans', sans-serif" font-weight="normal" font-style="normal" fill="#222" stroke="#222" stroke-width="0.12">ProtDAT(PM1)</text>
<line x1="141.50" y1="181.50" x2="153.00" y2="181.50" stroke="#d62728" stroke-width="0.75" stroke-opacity="0.6"/>
<circle cx="147.25" cy="181.50" r="0.95" fill="#d62728"/>
<text x="157.00" y="183.50" font-size="5.75" text-anchor="start" font-family="'Liberation Sans', sans-serif" font-weight="normal" font-style="normal" fill="#222" stroke="#222" stroke-width="0.12">Progen2</text>
<line x1="141.50" y1="189.70" x2="153.00" y2="189.70" stroke="#9467bd" stroke-width="0.75" stroke-opacity="0.6"/>
<circle cx="147.25" cy="189.70" r="0.95" fill="#9467bd"/>
<text x="157.00" y="191.70" font-size="5.75" text-anchor="start" font-family="'Liberation Sans', sans-serif" font-weight="normal" font-style="normal" fill="#222" stroke="#222" stroke-width="0.12">ProLLaMA</text>
<line x1="193.50" y1="181.50" x2="205.00" y2="181.50" stroke="#ff7f0e" stroke-width="0.75" stroke-opacity="0.6"/>
<circle cx="199.25" cy="181.50" r="0.95" fill="#ff7f0e"/>
<text x="209.00" y="183.50" font-size="5.75" text-anchor="start" font-family="'Liberation Sans', sans-serif" font-weight="normal" font-style="normal" fill="#222" stroke="#222" stroke-width="0.12">ProtGPT2</text>
<line x1="193.50" y1="189.70" x2="205.00" y2="189.70" stroke="#8c564b" stroke-width="0.75" stroke-opacity="0.6"/>
<circle cx="199.25" cy="189.70" r="0.95" fill="#8c564b"/>
<text x="209.00" y="191.70" font-size="5.75" text-anchor="start" font-family="'Liberation Sans', sans-serif" font-weight="normal" font-style="normal" fill="#222" stroke="#222" stroke-width="0.12">ESM-3</text>
<text x="8.50" y="166.50" font-size="16" text-anchor="start" font-family="'Liberation Serif', serif" font-weight="bold" font-style="normal" fill="#000">c</text>
<rect x="342.30" y="175.40" width="256.30" height="135.80" fill="none" stroke="#bdbdbd" stroke-width="0.9"/>
<polyline points="354.83,227.77 357.61,255.49 360.40,248.02 363.18,253.35 365.96,252.29 368.74,251.22 371.52,254.27 374.30,246.41 377.08,258.85 379.87,249.51 382.65,255.23 385.43,253.03 388.21,245.40 390.99,256.56 393.77,252.04 396.56,256.27 399.34,248.44 402.12,255.65 404.90,248.91 407.68,253.63 410.46,244.95 413.24,260.59 416.03,243.26 418.81,250.11 421.59,257.33 424.37,258.61 427.15,250.58 429.93,253.22 432.72,253.93 435.50,245.95 438.28,251.57 441.06,258.17 443.84,247.15 446.62,251.05 449.40,251.01 452.19,250.99 454.97,251.59 457.75,254.31 460.53,251.50 463.31,258.49 466.09,251.92 468.88,258.32 471.66,251.51 474.44,254.54 477.22,251.12 480.00,253.90 482.78,253.01 485.56,254.10 488.35,251.96 491.13,245.83 493.91,248.79 496.69,246.97 499.47,254.29 502.25,247.10 505.04,248.52 507.82,253.49 510.60,254.03 513.38,251.37 516.16,252.95 518.94,248.48 521.72,249.96 524.51,253.00 527.29,257.48 530.07,251.29 532.85,256.00 535.63,251.29 538.41,250.78 541.20,250.44 543.98,250.67 546.76,254.29 549.54,253.40 552.32,258.89 555.10,249.83 557.88,248.68 560.67,251.75 563.45,255.38 566.23,250.71 569.01,254.05 571.79,252.56 574.57,246.00 577.36,252.49 580.14,255.01 582.92,250.92 585.70,253.18" fill="none" stroke="#ff7f0e" stroke-width="0.6" stroke-linejoin="round" stroke-opacity="0.8"/>
<g fill="#ff7f0e"><circle cx="354.83" cy="227.77" r="0.9"/><circle cx="357.61" cy="255.49" r="0.9"/><circle cx="360.40" cy="248.02" r="0.9"/><circle cx="363.18" cy="253.35" r="0.9"/><circle cx="365.96" cy="252.29" r="0.9"/><circle cx="368.74" cy="251.22" r="0.9"/><circle cx="371.52" cy="254.27" r="0.9"/><circle cx="374.30" cy="246.41" r="0.9"/><circle cx="377.08" cy="258.85" r="0.9"/><circle cx="379.87" cy="249.51" r="0.9"/><circle cx="382.65" cy="255.23" r="0.9"/><circle cx="385.43" cy="253.03" r="0.9"/><circle cx="388.21" cy="245.40" r="0.9"/><circle cx="390.99" cy="256.56" r="0.9"/><circle cx="393.77" cy="252.04" r="0.9"/><circle cx="396.56" cy="256.27" r="0.9"/><circle cx="399.34" cy="248.44" r="0.9"/><circle cx="402.12" cy="255.65" r="0.9"/><circle cx="404.90" cy="248.91" r="0.9"/><circle cx="407.68" cy="253.63" r="0.9"/><circle cx="410.46" cy="244.95" r="0.9"/><circle cx="413.24" cy="260.59" r="0.9"/><circle cx="416.03" cy="243.26" r="0.9"/><circle cx="418.81" cy="250.11" r="0.9"/><circle cx="421.59" cy="257.33" r="0.9"/><circle cx="424.37" cy="258.61" r="0.9"/><circle cx="427.15" cy="250.58" r="0.9"/><circle cx="429.93" cy="253.22" r="0.9"/><circle cx="432.72" cy="253.93" r="0.9"/><circle cx="435.50" cy="245.95" r="0.9"/><circle cx="438.28" cy="251.57" r="0.9"/><circle cx="441.06" cy="258.17" r="0.9"/><circle cx="443.84" cy="247.15" r="0.9"/><circle cx="446.62" cy="251.05" r="0.9"/><circle cx="449.40" cy="251.01" r="0.9"/><circle cx="452.19" cy="250.99" r="0.9"/><circle cx="454.97" cy="251.59" r="0.9"/><circle cx="457.75" cy="254.31" r="0.9"/><circle cx="460.53" cy="251.50" r="0.9"/><circle cx="463.31" cy="258.49" r="0.9"/><circle cx="466.09" cy="251.92" r="0.9"/><circle cx="468.88" cy="258.32" r="0.9"/><circle cx="471.66" cy="251.51" r="0.9"/><circle cx="474.44" cy="254.54" r="0.9"/><circle cx="477.22" cy="251.12" r="0.9"/><circle cx="480.00" cy="253.90" r="0.9"/><circle cx="482.78" cy="253.01" r="0.9"/><circle cx="485.56" cy="254.10" r="0.9"/><circle cx="488.35" cy="251.96" r="0.9"/><circle cx="491.13" cy="245.83" r="0.9"/><circle cx="493.91" cy="248.79" r="0.9"/><circle cx="496.69" cy="246.97" r="0.9"/><circle cx="499.47" cy="254.29" r="0.9"/><circle cx="502.25" cy="247.10" r="0.9"/><circle cx="505.04" cy="248.52" r="0.9"/><circle cx="507.82" cy="253.49" r="0.9"/><circle cx="510.60" cy="254.03" r="0.9"/><circle cx="513.38" cy="251.37" r="0.9"/><circle cx="516.16" cy="252.95" r="0.9"/><circle cx="518.94" cy="248.48" r="0.9"/><circle cx="521.72" cy="249.96" r="0.9"/><circle cx="524.51" cy="253.00" r="0.9"/><circle cx="527.29" cy="257.48" r="0.9"/><circle cx="530.07" cy="251.29" r="0.9"/><circle cx="532.85" cy="256.00" r="0.9"/><circle cx="535.63" cy="251.29" r="0.9"/><circle cx="538.41" cy="250.78" r="0.9"/><circle cx="541.20" cy="250.44" r="0.9"/><circle cx="543.98" cy="250.67" r="0.9"/><circle cx="546.76" cy="254.29" r="0.9"/><circle cx="549.54" cy="253.40" r="0.9"/><circle cx="552.32" cy="258.89" r="0.9"/><circle cx="555.10" cy="249.83" r="0.9"/><circle cx="557.88" cy="248.68" r="0.9"/><circle cx="560.67" cy="251.75" r="0.9"/><circle cx="563.45" cy="255.38" r="0.9"/><circle cx="566.23" cy="250.71" r="0.9"/><circle cx="569.01" cy="254.05" r="0.9"/><circle cx="571.79" cy="252.56" r="0.9"/><circle cx="574.57" cy="246.00" r="0.9"/><circle cx="577.36" cy="252.49" r="0.9"/><circle cx="580.14" cy="255.01" r="0.9"/><circle cx="582.92" cy="250.92" r="0.9"/><circle cx="585.70" cy="253.18" r="0.9"/></g>
<polyline points="354.83,226.70 357.61,241.63 360.40,245.89 363.18,232.03 365.96,243.76 368.74,239.50 371.52,238.43 374.30,237.93 377.08,241.20 379.87,238.06 382.65,237.27 385.43,235.21 388.21,236.79 390.99,238.25 393.77,239.25 396.56,236.98 399.34,235.95 402.12,236.63 404.90,238.15 407.68,237.55 410.46,240.71 413.24,237.47 416.03,236.05 418.81,238.54 421.59,238.22 424.37,236.37 427.15,238.43 429.93,235.65 432.72,237.83 435.50,236.66 438.28,239.09 441.06,237.54 443.84,235.55 446.62,240.69 449.40,235.99 452.19,241.99 454.97,238.65 457.75,237.35 460.53,239.43 463.31,237.93 466.09,236.27 468.88,237.94 471.66,241.79 474.44,237.06 477.22,236.67 480.00,238.23 482.78,238.47 485.56,238.35 488.35,241.21 491.13,239.10 493.91,235.53 496.69,236.62 499.47,237.24 502.25,239.17 505.04,239.00 507.82,237.40 510.60,238.24 513.38,238.37 516.16,239.35 518.94,237.58 521.72,239.64 524.51,238.83 527.29,236.97 530.07,241.64 532.85,237.71 535.63,240.25 538.41,242.83 541.20,240.52 543.98,240.40 546.76,236.84 549.54,236.75 552.32,234.63 555.10,239.14 557.88,239.00 560.67,238.68 563.45,235.77 566.23,237.26 569.01,238.38 571.79,239.88 574.57,235.05 577.36,241.21 580.14,238.83 582.92,238.71 585.70,237.31" fill="none" stroke="#8c564b" stroke-width="0.6" stroke-linejoin="round" stroke-opacity="0.8"/>
<g fill="#8c564b"><circle cx="354.83" cy="226.70" r="0.9"/><circle cx="357.61" cy="241.63" r="0.9"/><circle cx="360.40" cy="245.89" r="0.9"/><circle cx="363.18" cy="232.03" r="0.9"/><circle cx="365.96" cy="243.76" r="0.9"/><circle cx="368.74" cy="239.50" r="0.9"/><circle cx="371.52" cy="238.43" r="0.9"/><circle cx="374.30" cy="237.93" r="0.9"/><circle cx="377.08" cy="241.20" r="0.9"/><circle cx="379.87" cy="238.06" r="0.9"/><circle cx="382.65" cy="237.27" r="0.9"/><circle cx="385.43" cy="235.21" r="0.9"/><circle cx="388.21" cy="236.79" r="0.9"/><circle cx="390.99" cy="238.25" r="0.9"/><circle cx="393.77" cy="239.25" r="0.9"/><circle cx="396.56" cy="236.98" r="0.9"/><circle cx="399.34" cy="235.95" r="0.9"/><circle cx="402.12" cy="236.63" r="0.9"/><circle cx="404.90" cy="238.15" r="0.9"/><circle cx="407.68" cy="237.55" r="0.9"/><circle cx="410.46" cy="240.71" r="0.9"/><circle cx="413.24" cy="237.47" r="0.9"/><circle cx="416.03" cy="236.05" r="0.9"/><circle cx="418.81" cy="238.54" r="0.9"/><circle cx="421.59" cy="238.22" r="0.9"/><circle cx="424.37" cy="236.37" r="0.9"/><circle cx="427.15" cy="238.43" r="0.9"/><circle cx="429.93" cy="235.65" r="0.9"/><circle cx="432.72" cy="237.83" r="0.9"/><circle cx="435.50" cy="236.66" r="0.9"/><circle cx="438.28" cy="239.09" r="0.9"/><circle cx="441.06" cy="237.54" r="0.9"/><circle cx="443.84" cy="235.55" r="0.9"/><circle cx="446.62" cy="240.69" r="0.9"/><circle cx="449.40" cy="235.99" r="0.9"/><circle cx="452.19" cy="241.99" r="0.9"/><circle cx="454.97" cy="238.65" r="0.9"/><circle cx="457.75" cy="237.35" r="0.9"/><circle cx="460.53" cy="239.43" r="0.9"/><circle cx="463.31" cy="237.93" r="0.9"/><circle cx="466.09" cy="236.27" r="0.9"/><circle cx="468.88" cy="237.94" r="0.9"/><circle cx="471.66" cy="241.79" r="0.9"/><circle cx="474.44" cy="237.06" r="0.9"/><circle cx="477.22" cy="236.67" r="0.9"/><circle cx="480.00" cy="238.23" r="0.9"/><circle cx="482.78" cy="238.47" r="0.9"/><circle cx="485.56" cy="238.35" r="0.9"/><circle cx="488.35" cy="241.21" r="0.9"/><circle cx="491.13" cy="239.10" r="0.9"/><circle cx="493.91" cy="235.53" r="0.9"/><circle cx="496.69" cy="236.62" r="0.9"/><circle cx="499.47" cy="237.24" r="0.9"/><circle cx="502.25" cy="239.17" r="0.9"/><circle cx="505.04" cy="239.00" r="0.9"/><circle cx="507.82" cy="237.40" r="0.9"/><circle cx="510.60" cy="238.24" r="0.9"/><circle cx="513.38" cy="238.37" r="0.9"/><circle cx="516.16" cy="239.35" r="0.9"/><circle cx="518.94" cy="237.58" r="0.9"/><circle cx="521.72" cy="239.64" r="0.9"/><circle cx="524.51" cy="238.83" r="0.9"/><circle cx="527.29" cy="236.97" r="0.9"/><circle cx="530.07" cy="241.64" r="0.9"/><circle cx="532.85" cy="237.71" r="0.9"/><circle cx="535.63" cy="240.25" r="0.9"/><circle cx="538.41" cy="242.83" r="0.9"/><circle cx="541.20" cy="240.52" r="0.9"/><circle cx="543.98" cy="240.40" r="0.9"/><circle cx="546.76" cy="236.84" r="0.9"/><circle cx="549.54" cy="236.75" r="0.9"/><circle cx="552.32" cy="234.63" r="0.9"/><circle cx="555.10" cy="239.14" r="0.9"/><circle cx="557.88" cy="239.00" r="0.9"/><circle cx="560.67" cy="238.68" r="0.9"/><circle cx="563.45" cy="235.77" r="0.9"/><circle cx="566.23" cy="237.26" r="0.9"/><circle cx="569.01" cy="238.38" r="0.9"/><circle cx="571.79" cy="239.88" r="0.9"/><circle cx="574.57" cy="235.05" r="0.9"/><circle cx="577.36" cy="241.21" r="0.9"/><circle cx="580.14" cy="238.83" r="0.9"/><circle cx="582.92" cy="238.71" r="0.9"/><circle cx="585.70" cy="237.31" r="0.9"/></g>
<polyline points="374.30,241.63 377.08,235.23 379.87,224.57 382.65,233.10 385.43,245.89 388.21,223.51 390.99,237.36 393.77,236.06 396.56,236.40 399.34,234.97 402.12,224.32 404.90,231.51 407.68,226.42 410.46,232.88 413.24,232.22 416.03,236.20 418.81,229.76 421.59,228.44 424.37,231.24 427.15,231.05 429.93,232.42 432.72,232.14 435.50,230.51 438.28,229.80 441.06,236.80 443.84,235.15 446.62,234.32 449.40,239.25 452.19,228.37 454.97,229.48 457.75,232.48 460.53,233.95 463.31,235.46 466.09,232.17 468.88,231.78 471.66,234.33 474.44,233.91 477.22,231.23 480.00,235.42 482.78,230.97 485.56,227.77 488.35,225.64 491.13,225.64" fill="none" stroke="#9467bd" stroke-width="0.6" stroke-linejoin="round" stroke-opacity="0.8"/>
<g fill="#9467bd"><circle cx="374.30" cy="241.63" r="0.9"/><circle cx="377.08" cy="235.23" r="0.9"/><circle cx="379.87" cy="224.57" r="0.9"/><circle cx="382.65" cy="233.10" r="0.9"/><circle cx="385.43" cy="245.89" r="0.9"/><circle cx="388.21" cy="223.51" r="0.9"/><circle cx="390.99" cy="237.36" r="0.9"/><circle cx="393.77" cy="236.06" r="0.9"/><circle cx="396.56" cy="236.40" r="0.9"/><circle cx="399.34" cy="234.97" r="0.9"/><circle cx="402.12" cy="224.32" r="0.9"/><circle cx="404.90" cy="231.51" r="0.9"/><circle cx="407.68" cy="226.42" r="0.9"/><circle cx="410.46" cy="232.88" r="0.9"/><circle cx="413.24" cy="232.22" r="0.9"/><circle cx="416.03" cy="236.20" r="0.9"/><circle cx="418.81" cy="229.76" r="0.9"/><circle cx="421.59" cy="228.44" r="0.9"/><circle cx="424.37" cy="231.24" r="0.9"/><circle cx="427.15" cy="231.05" r="0.9"/><circle cx="429.93" cy="232.42" r="0.9"/><circle cx="432.72" cy="232.14" r="0.9"/><circle cx="435.50" cy="230.51" r="0.9"/><circle cx="438.28" cy="229.80" r="0.9"/><circle cx="441.06" cy="236.80" r="0.9"/><circle cx="443.84" cy="235.15" r="0.9"/><circle cx="446.62" cy="234.32" r="0.9"/><circle cx="449.40" cy="239.25" r="0.9"/><circle cx="452.19" cy="228.37" r="0.9"/><circle cx="454.97" cy="229.48" r="0.9"/><circle cx="457.75" cy="232.48" r="0.9"/><circle cx="460.53" cy="233.95" r="0.9"/><circle cx="463.31" cy="235.46" r="0.9"/><circle cx="466.09" cy="232.17" r="0.9"/><circle cx="468.88" cy="231.78" r="0.9"/><circle cx="471.66" cy="234.33" r="0.9"/><circle cx="474.44" cy="233.91" r="0.9"/><circle cx="477.22" cy="231.23" r="0.9"/><circle cx="480.00" cy="235.42" r="0.9"/><circle cx="482.78" cy="230.97" r="0.9"/><circle cx="485.56" cy="227.77" r="0.9"/><circle cx="488.35" cy="225.64" r="0.9"/><circle cx="491.13" cy="225.64" r="0.9"/></g>
<polyline points="354.83,297.06 365.96,181.93 368.74,250.16 371.52,220.31 374.30,243.76 377.08,228.84 379.87,241.63 382.65,235.32 385.43,228.81 388.21,231.04 390.99,232.71 393.77,239.77 396.56,239.56 399.34,230.27 402.12,225.88 404.90,244.86 407.68,239.10 410.46,234.39 413.24,226.41 416.03,229.66 418.81,227.91 421.59,231.56 424.37,239.19 427.15,233.97 429.93,224.99 432.72,231.99 435.50,240.92 438.28,224.05 441.06,230.17 443.84,228.44 446.62,220.51 449.40,236.60 452.19,237.45 454.97,249.13 457.75,232.16 460.53,229.22 463.31,233.24 466.09,233.01 468.88,227.11 471.66,230.41 474.44,230.47 477.22,233.56 480.00,233.39 482.78,226.44 485.56,233.70 488.35,235.79 491.13,236.63 493.91,233.87 496.69,231.88 499.47,229.82 502.25,232.26 505.04,235.22 507.82,243.54 510.60,229.14 513.38,239.45 516.16,234.13 518.94,225.47 521.72,231.50 524.51,238.30 527.29,228.60 530.07,234.82 532.85,236.19 535.63,225.14 538.41,228.77 541.20,212.71 543.98,240.01 546.76,233.03 549.54,230.30 552.32,224.61 555.10,234.71 557.88,222.91 560.67,232.01 563.45,237.64 566.23,233.95 569.01,233.21 571.79,233.75 574.57,236.71 577.36,234.25 580.14,226.63 582.92,227.21 585.70,220.74" fill="none" stroke="#d62728" stroke-width="0.6" stroke-linejoin="round" stroke-opacity="0.8"/>
<g fill="#d62728"><circle cx="354.83" cy="297.06" r="0.9"/><circle cx="365.96" cy="181.93" r="0.9"/><circle cx="368.74" cy="250.16" r="0.9"/><circle cx="371.52" cy="220.31" r="0.9"/><circle cx="374.30" cy="243.76" r="0.9"/><circle cx="377.08" cy="228.84" r="0.9"/><circle cx="379.87" cy="241.63" r="0.9"/><circle cx="382.65" cy="235.32" r="0.9"/><circle cx="385.43" cy="228.81" r="0.9"/><circle cx="388.21" cy="231.04" r="0.9"/><circle cx="390.99" cy="232.71" r="0.9"/><circle cx="393.77" cy="239.77" r="0.9"/><circle cx="396.56" cy="239.56" r="0.9"/><circle cx="399.34" cy="230.27" r="0.9"/><circle cx="402.12" cy="225.88" r="0.9"/><circle cx="404.90" cy="244.86" r="0.9"/><circle cx="407.68" cy="239.10" r="0.9"/><circle cx="410.46" cy="234.39" r="0.9"/><circle cx="413.24" cy="226.41" r="0.9"/><circle cx="416.03" cy="229.66" r="0.9"/><circle cx="418.81" cy="227.91" r="0.9"/><circle cx="421.59" cy="231.56" r="0.9"/><circle cx="424.37" cy="239.19" r="0.9"/><circle cx="427.15" cy="233.97" r="0.9"/><circle cx="429.93" cy="224.99" r="0.9"/><circle cx="432.72" cy="231.99" r="0.9"/><circle cx="435.50" cy="240.92" r="0.9"/><circle cx="438.28" cy="224.05" r="0.9"/><circle cx="441.06" cy="230.17" r="0.9"/><circle cx="443.84" cy="228.44" r="0.9"/><circle cx="446.62" cy="220.51" r="0.9"/><circle cx="449.40" cy="236.60" r="0.9"/><circle cx="452.19" cy="237.45" r="0.9"/><circle cx="454.97" cy="249.13" r="0.9"/><circle cx="457.75" cy="232.16" r="0.9"/><circle cx="460.53" cy="229.22" r="0.9"/><circle cx="463.31" cy="233.24" r="0.9"/><circle cx="466.09" cy="233.01" r="0.9"/><circle cx="468.88" cy="227.11" r="0.9"/><circle cx="471.66" cy="230.41" r="0.9"/><circle cx="474.44" cy="230.47" r="0.9"/><circle cx="477.22" cy="233.56" r="0.9"/><circle cx="480.00" cy="233.39" r="0.9"/><circle cx="482.78" cy="226.44" r="0.9"/><circle cx="485.56" cy="233.70" r="0.9"/><circle cx="488.35" cy="235.79" r="0.9"/><circle cx="491.13" cy="236.63" r="0.9"/><circle cx="493.91" cy="233.87" r="0.9"/><circle cx="496.69" cy="231.88" r="0.9"/><circle cx="499.47" cy="229.82" r="0.9"/><circle cx="502.25" cy="232.26" r="0.9"/><circle cx="505.04" cy="235.22" r="0.9"/><circle cx="507.82" cy="243.54" r="0.9"/><circle cx="510.60" cy="229.14" r="0.9"/><circle cx="513.38" cy="239.45" r="0.9"/><circle cx="516.16" cy="234.13" r="0.9"/><circle cx="518.94" cy="225.47" r="0.9"/><circle cx="521.72" cy="231.50" r="0.9"/><circle cx="524.51" cy="238.30" r="0.9"/><circle cx="527.29" cy="228.60" r="0.9"/><circle cx="530.07" cy="234.82" r="0.9"/><circle cx="532.85" cy="236.19" r="0.9"/><circle cx="535.63" cy="225.14" r="0.9"/><circle cx="538.41" cy="228.77" r="0.9"/><circle cx="541.20" cy="212.71" r="0.9"/><circle cx="543.98" cy="240.01" r="0.9"/><circle cx="546.76" cy="233.03" r="0.9"/><circle cx="549.54" cy="230.30" r="0.9"/><circle cx="552.32" cy="224.61" r="0.9"/><circle cx="555.10" cy="234.71" r="0.9"/><circle cx="557.88" cy="222.91" r="0.9"/><circle cx="560.67" cy="232.01" r="0.9"/><circle cx="563.45" cy="237.64" r="0.9"/><circle cx="566.23" cy="233.95" r="0.9"/><circle cx="569.01" cy="233.21" r="0.9"/><circle cx="571.79" cy="233.75" r="0.9"/><circle cx="574.57" cy="236.71" r="0.9"/><circle cx="577.36" cy="234.25" r="0.9"/><circle cx="580.14" cy="226.63" r="0.9"/><circle cx="582.92" cy="227.21" r="0.9"/><circle cx="585.70" cy="220.74" r="0.9"/></g>
<polyline points="354.83,305.59 357.61,269.34 360.40,267.21 363.18,267.21 365.96,251.22 368.74,277.87 371.52,265.08 374.30,273.61 377.08,260.82 379.87,273.61 382.65,268.28 385.43,276.05 388.21,273.43 390.99,272.91 393.77,278.70 396.56,271.94 399.34,272.92 402.12,271.91 404.90,270.45 407.68,280.07 410.46,269.37 413.24,280.43 416.03,277.38 418.81,274.23 421.59,271.97 424.37,273.30 427.15,274.15 429.93,273.54 432.72,278.79 435.50,275.24 438.28,267.32 441.06,283.28 443.84,276.06 446.62,275.63 449.40,278.15 452.19,275.75 454.97,274.99 457.75,276.12 460.53,275.57 463.31,278.78 466.09,273.41 468.88,277.36 471.66,278.86 474.44,268.58 477.22,277.13 480.00,276.85 482.78,281.46 485.56,274.04 488.35,278.67 491.13,277.53 493.91,272.93 496.69,273.60 499.47,277.66 502.25,273.54 505.04,273.93 507.82,275.75 510.60,278.32 513.38,273.76 516.16,280.22 518.94,274.02 521.72,275.27 524.51,279.25 527.29,278.68 530.07,267.27 532.85,281.83 535.63,275.01 538.41,276.32 541.20,273.75 543.98,274.18 546.76,272.27 549.54,272.88 552.32,275.28 555.10,279.71 557.88,276.18 560.67,273.58 563.45,273.60 566.23,271.60 569.01,275.84 571.79,279.09 574.57,277.06 577.36,274.45 580.14,272.18 582.92,272.09 585.70,272.81" fill="none" stroke="#2ca02c" stroke-width="0.6" stroke-linejoin="round" stroke-opacity="0.8"/>
<g fill="#2ca02c"><circle cx="354.83" cy="305.59" r="0.9"/><circle cx="357.61" cy="269.34" r="0.9"/><circle cx="360.40" cy="267.21" r="0.9"/><circle cx="363.18" cy="267.21" r="0.9"/><circle cx="365.96" cy="251.22" r="0.9"/><circle cx="368.74" cy="277.87" r="0.9"/><circle cx="371.52" cy="265.08" r="0.9"/><circle cx="374.30" cy="273.61" r="0.9"/><circle cx="377.08" cy="260.82" r="0.9"/><circle cx="379.87" cy="273.61" r="0.9"/><circle cx="382.65" cy="268.28" r="0.9"/><circle cx="385.43" cy="276.05" r="0.9"/><circle cx="388.21" cy="273.43" r="0.9"/><circle cx="390.99" cy="272.91" r="0.9"/><circle cx="393.77" cy="278.70" r="0.9"/><circle cx="396.56" cy="271.94" r="0.9"/><circle cx="399.34" cy="272.92" r="0.9"/><circle cx="402.12" cy="271.91" r="0.9"/><circle cx="404.90" cy="270.45" r="0.9"/><circle cx="407.68" cy="280.07" r="0.9"/><circle cx="410.46" cy="269.37" r="0.9"/><circle cx="413.24" cy="280.43" r="0.9"/><circle cx="416.03" cy="277.38" r="0.9"/><circle cx="418.81" cy="274.23" r="0.9"/><circle cx="421.59" cy="271.97" r="0.9"/><circle cx="424.37" cy="273.30" r="0.9"/><circle cx="427.15" cy="274.15" r="0.9"/><circle cx="429.93" cy="273.54" r="0.9"/><circle cx="432.72" cy="278.79" r="0.9"/><circle cx="435.50" cy="275.24" r="0.9"/><circle cx="438.28" cy="267.32" r="0.9"/><circle cx="441.06" cy="283.28" r="0.9"/><circle cx="443.84" cy="276.06" r="0.9"/><circle cx="446.62" cy="275.63" r="0.9"/><circle cx="449.40" cy="278.15" r="0.9"/><circle cx="452.19" cy="275.75" r="0.9"/><circle cx="454.97" cy="274.99" r="0.9"/><circle cx="457.75" cy="276.12" r="0.9"/><circle cx="460.53" cy="275.57" r="0.9"/><circle cx="463.31" cy="278.78" r="0.9"/><circle cx="466.09" cy="273.41" r="0.9"/><circle cx="468.88" cy="277.36" r="0.9"/><circle cx="471.66" cy="278.86" r="0.9"/><circle cx="474.44" cy="268.58" r="0.9"/><circle cx="477.22" cy="277.13" r="0.9"/><circle cx="480.00" cy="276.85" r="0.9"/><circle cx="482.78" cy="281.46" r="0.9"/><circle cx="485.56" cy="274.04" r="0.9"/><circle cx="488.35" cy="278.67" r="0.9"/><circle cx="491.13" cy="277.53" r="0.9"/><circle cx="493.91" cy="272.93" r="0.9"/><circle cx="496.69" cy="273.60" r="0.9"/><circle cx="499.47" cy="277.66" r="0.9"/><circle cx="502.25" cy="273.54" r="0.9"/><circle cx="505.04" cy="273.93" r="0.9"/><circle cx="507.82" cy="275.75" r="0.9"/><circle cx="510.60" cy="278.32" r="0.9"/><circle cx="513.38" cy="273.76" r="0.9"/><circle cx="516.16" cy="280.22" r="0.9"/><circle cx="518.94" cy="274.02" r="0.9"/><circle cx="521.72" cy="275.27" r="0.9"/><circle cx="524.51" cy="279.25" r="0.9"/><circle cx="527.29" cy="278.68" r="0.9"/><circle cx="530.07" cy="267.27" r="0.9"/><circle cx="532.85" cy="281.83" r="0.9"/><circle cx="535.63" cy="275.01" r="0.9"/><circle cx="538.41" cy="276.32" r="0.9"/><circle cx="541.20" cy="273.75" r="0.9"/><circle cx="543.98" cy="274.18" r="0.9"/><circle cx="546.76" cy="272.27" r="0.9"/><circle cx="549.54" cy="272.88" r="0.9"/><circle cx="552.32" cy="275.28" r="0.9"/><circle cx="555.10" cy="279.71" r="0.9"/><circle cx="557.88" cy="276.18" r="0.9"/><circle cx="560.67" cy="273.58" r="0.9"/><circle cx="563.45" cy="273.60" r="0.9"/><circle cx="566.23" cy="271.60" r="0.9"/><circle cx="569.01" cy="275.84" r="0.9"/><circle cx="571.79" cy="279.09" r="0.9"/><circle cx="574.57" cy="277.06" r="0.9"/><circle cx="577.36" cy="274.45" r="0.9"/><circle cx="580.14" cy="272.18" r="0.9"/><circle cx="582.92" cy="272.09" r="0.9"/><circle cx="585.70" cy="272.81" r="0.9"/></g>
<polyline points="354.83,225.64 357.61,268.28 360.40,278.94 363.18,267.21 365.96,283.20 368.74,284.27 371.52,280.00 374.30,273.61 377.08,255.49 379.87,275.74 382.65,274.67 385.43,271.35 388.21,270.59 390.99,277.94 393.77,273.53 396.56,277.17 399.34,275.22 402.12,274.92 404.90,279.82 407.68,275.54 410.46,279.14 413.24,278.90 416.03,277.20 418.81,282.09 421.59,280.46 424.37,275.00 427.15,273.68 429.93,273.01 432.72,277.22 435.50,273.51 438.28,270.73 441.06,271.97 443.84,280.17 446.62,281.33 449.40,274.45 452.19,271.76 454.97,275.82 457.75,272.69 460.53,274.96 463.31,275.02 466.09,274.79 468.88,275.03 471.66,277.09 474.44,269.84 477.22,272.80 480.00,277.52 482.78,276.65 485.56,279.07 488.35,274.20 491.13,280.30 493.91,276.81 496.69,273.35 499.47,273.95 502.25,273.91 505.04,279.52 507.82,273.29 510.60,276.17 513.38,271.50 516.16,276.62 518.94,270.37 521.72,274.41 524.51,273.35 527.29,277.00 530.07,277.04 532.85,276.97 535.63,272.54 538.41,277.17 541.20,276.11 543.98,272.00 546.76,274.09 549.54,276.56 552.32,274.83 555.10,280.23 557.88,280.57 560.67,274.35 563.45,266.93 566.23,269.31 569.01,267.68 571.79,273.92 574.57,277.42 577.36,272.32 580.14,279.56 582.92,284.89 585.70,274.38" fill="none" stroke="#1f77b4" stroke-width="0.6" stroke-linejoin="round" stroke-opacity="0.8"/>
<g fill="#1f77b4"><circle cx="354.83" cy="225.64" r="0.9"/><circle cx="357.61" cy="268.28" r="0.9"/><circle cx="360.40" cy="278.94" r="0.9"/><circle cx="363.18" cy="267.21" r="0.9"/><circle cx="365.96" cy="283.20" r="0.9"/><circle cx="368.74" cy="284.27" r="0.9"/><circle cx="371.52" cy="280.00" r="0.9"/><circle cx="374.30" cy="273.61" r="0.9"/><circle cx="377.08" cy="255.49" r="0.9"/><circle cx="379.87" cy="275.74" r="0.9"/><circle cx="382.65" cy="274.67" r="0.9"/><circle cx="385.43" cy="271.35" r="0.9"/><circle cx="388.21" cy="270.59" r="0.9"/><circle cx="390.99" cy="277.94" r="0.9"/><circle cx="393.77" cy="273.53" r="0.9"/><circle cx="396.56" cy="277.17" r="0.9"/><circle cx="399.34" cy="275.22" r="0.9"/><circle cx="402.12" cy="274.92" r="0.9"/><circle cx="404.90" cy="279.82" r="0.9"/><circle cx="407.68" cy="275.54" r="0.9"/><circle cx="410.46" cy="279.14" r="0.9"/><circle cx="413.24" cy="278.90" r="0.9"/><circle cx="416.03" cy="277.20" r="0.9"/><circle cx="418.81" cy="282.09" r="0.9"/><circle cx="421.59" cy="280.46" r="0.9"/><circle cx="424.37" cy="275.00" r="0.9"/><circle cx="427.15" cy="273.68" r="0.9"/><circle cx="429.93" cy="273.01" r="0.9"/><circle cx="432.72" cy="277.22" r="0.9"/><circle cx="435.50" cy="273.51" r="0.9"/><circle cx="438.28" cy="270.73" r="0.9"/><circle cx="441.06" cy="271.97" r="0.9"/><circle cx="443.84" cy="280.17" r="0.9"/><circle cx="446.62" cy="281.33" r="0.9"/><circle cx="449.40" cy="274.45" r="0.9"/><circle cx="452.19" cy="271.76" r="0.9"/><circle cx="454.97" cy="275.82" r="0.9"/><circle cx="457.75" cy="272.69" r="0.9"/><circle cx="460.53" cy="274.96" r="0.9"/><circle cx="463.31" cy="275.02" r="0.9"/><circle cx="466.09" cy="274.79" r="0.9"/><circle cx="468.88" cy="275.03" r="0.9"/><circle cx="471.66" cy="277.09" r="0.9"/><circle cx="474.44" cy="269.84" r="0.9"/><circle cx="477.22" cy="272.80" r="0.9"/><circle cx="480.00" cy="277.52" r="0.9"/><circle cx="482.78" cy="276.65" r="0.9"/><circle cx="485.56" cy="279.07" r="0.9"/><circle cx="488.35" cy="274.20" r="0.9"/><circle cx="491.13" cy="280.30" r="0.9"/><circle cx="493.91" cy="276.81" r="0.9"/><circle cx="496.69" cy="273.35" r="0.9"/><circle cx="499.47" cy="273.95" r="0.9"/><circle cx="502.25" cy="273.91" r="0.9"/><circle cx="505.04" cy="279.52" r="0.9"/><circle cx="507.82" cy="273.29" r="0.9"/><circle cx="510.60" cy="276.17" r="0.9"/><circle cx="513.38" cy="271.50" r="0.9"/><circle cx="516.16" cy="276.62" r="0.9"/><circle cx="518.94" cy="270.37" r="0.9"/><circle cx="521.72" cy="274.41" r="0.9"/><circle cx="524.51" cy="273.35" r="0.9"/><circle cx="527.29" cy="277.00" r="0.9"/><circle cx="530.07" cy="277.04" r="0.9"/><circle cx="532.85" cy="276.97" r="0.9"/><circle cx="535.63" cy="272.54" r="0.9"/><circle cx="538.41" cy="277.17" r="0.9"/><circle cx="541.20" cy="276.11" r="0.9"/><circle cx="543.98" cy="272.00" r="0.9"/><circle cx="546.76" cy="274.09" r="0.9"/><circle cx="549.54" cy="276.56" r="0.9"/><circle cx="552.32" cy="274.83" r="0.9"/><circle cx="555.10" cy="280.23" r="0.9"/><circle cx="557.88" cy="280.57" r="0.9"/><circle cx="560.67" cy="274.35" r="0.9"/><circle cx="563.45" cy="266.93" r="0.9"/><circle cx="566.23" cy="269.31" r="0.9"/><circle cx="569.01" cy="267.68" r="0.9"/><circle cx="571.79" cy="273.92" r="0.9"/><circle cx="574.57" cy="277.42" r="0.9"/><circle cx="577.36" cy="272.32" r="0.9"/><circle cx="580.14" cy="279.56" r="0.9"/><circle cx="582.92" cy="284.89" r="0.9"/><circle cx="585.70" cy="274.38" r="0.9"/></g>
<line x1="340.30" y1="307.72" x2="342.30" y2="307.72" stroke="#444" stroke-width="0.6"/>
<text x="340.00" y="309.72" font-size="5.7" text-anchor="end" font-family="'Liberation Sans', sans-serif" font-weight="normal" font-style="normal" fill="#111" stroke="#111" stroke-width="0.12">2</text>
<line x1="340.30" y1="286.40" x2="342.30" y2="286.40" stroke="#444" stroke-width="0.6"/>
<text x="340.00" y="288.40" font-size="5.7" text-anchor="end" font-family="'Liberation Sans', sans-serif" font-weight="normal" font-style="normal" fill="#111" stroke="#111" stroke-width="0.12">3</text>
<line x1="340.30" y1="265.08" x2="342.30" y2="265.08" stroke="#444" stroke-width="0.6"/>
<text x="340.00" y="267.08" font-size="5.7" text-anchor="end" font-family="'Liberation Sans', sans-serif" font-weight="normal" font-style="normal" fill="#111" stroke="#111" stroke-width="0.12">4</text>
<line x1="340.30" y1="243.76" x2="342.30" y2="243.76" stroke="#444" stroke-width="0.6"/>
<text x="340.00" y="245.76" font-size="5.7" text-anchor="end" font-family="'Liberation Sans', sans-serif" font-weight="normal" font-style="normal" fill="#111" stroke="#111" stroke-width="0.12">5</text>
<line x1="340.30" y1="222.44" x2="342.30" y2="222.44" stroke="#444" stroke-width="0.6"/>
<text x="340.00" y="224.44" font-size="5.7" text-anchor="end" font-family="'Liberation Sans', sans-serif" font-weight="normal" font-style="normal" fill="#111" stroke="#111" stroke-width="0.12">6</text>
<line x1="340.30" y1="201.12" x2="342.30" y2="201.12" stroke="#444" stroke-width="0.6"/>
<text x="340.00" y="203.12" font-size="5.7" text-anchor="end" font-family="'Liberation Sans', sans-serif" font-weight="normal" font-style="normal" fill="#111" stroke="#111" stroke-width="0.12">7</text>
<line x1="340.30" y1="179.80" x2="342.30" y2="179.80" stroke="#444" stroke-width="0.6"/>
<text x="340.00" y="181.80" font-size="5.7" text-anchor="end" font-family="'Liberation Sans', sans-serif" font-weight="normal" font-style="normal" fill="#111" stroke="#111" stroke-width="0.12">8</text>
<line x1="352.50" y1="311.20" x2="352.50" y2="313.20" stroke="#444" stroke-width="0.6"/>
<text x="352.50" y="318.20" font-size="5.85" text-anchor="middle" font-family="'Liberation Sans', sans-serif" font-weight="normal" font-style="normal" fill="#222" stroke="#222" stroke-width="0.12">0</text>
<line x1="399.14" y1="311.20" x2="399.14" y2="313.20" stroke="#444" stroke-width="0.6"/>
<text x="399.14" y="318.20" font-size="5.85" text-anchor="middle" font-family="'Liberation Sans', sans-serif" font-weight="normal" font-style="normal" fill="#222" stroke="#222" stroke-width="0.12">100</text>
<line x1="445.78" y1="311.20" x2="445.78" y2="313.20" stroke="#444" stroke-width="0.6"/>
<text x="445.78" y="318.20" font-size="5.85" text-anchor="middle" font-family="'Liberation Sans', sans-serif" font-weight="normal" font-style="normal" fill="#222" stroke="#222" stroke-width="0.12">200</text>
<line x1="492.42" y1="311.20" x2="492.42" y2="313.20" stroke="#444" stroke-width="0.6"/>
<text x="492.42" y="318.20" font-size="5.85" text-anchor="middle" font-family="'Liberation Sans', sans-serif" font-weight="normal" font-style="normal" fill="#222" stroke="#222" stroke-width="0.12">300</text>
<line x1="539.06" y1="311.20" x2="539.06" y2="313.20" stroke="#444" stroke-width="0.6"/>
<text x="539.06" y="318.20" font-size="5.85" text-anchor="middle" font-family="'Liberation Sans', sans-serif" font-weight="normal" font-style="normal" fill="#222" stroke="#222" stroke-width="0.12">400</text>
<line x1="585.70" y1="311.20" x2="585.70" y2="313.20" stroke="#444" stroke-width="0.6"/>
<text x="585.70" y="318.20" font-size="5.85" text-anchor="middle" font-family="'Liberation Sans', sans-serif" font-weight="normal" font-style="normal" fill="#222" stroke="#222" stroke-width="0.12">500</text>
<text x="470.45" y="325.30" font-size="6.62" text-anchor="middle" font-family="'Liberation Sans', sans-serif" font-weight="normal" font-style="normal" fill="#222" stroke="#222" stroke-width="0.12">Sequence Length (Number of Residues)</text>
<text x="335.40" y="243.30" font-size="6.5" text-anchor="middle" font-family="'Liberation Sans', sans-serif" font-weight="normal" font-style="normal" fill="#111" stroke="#111" stroke-width="0.12" transform="rotate(-90 335.40 243.30)">Average RMSD</text>
<rect x="539.30" y="177.80" width="56.10" height="48.70" fill="white" stroke="#dddddd" stroke-width="0.6" rx="1"/>
<line x1="541.30" y1="182.20" x2="552.80" y2="182.20" stroke="#1f77b4" stroke-width="0.75" stroke-opacity="0.6"/>
<circle cx="547.05" cy="182.20" r="0.95" fill="#1f77b4"/>
<text x="556.70" y="184.20" font-size="5.75" text-anchor="start" font-family="'Liberation Sans', sans-serif" font-weight="normal" font-style="normal" fill="#222" stroke="#222" stroke-width="0.12">ProtDAT(PM2)</text>
<line x1="541.30" y1="190.20" x2="552.80" y2="190.20" stroke="#2ca02c" stroke-width="0.75" stroke-opacity="0.6"/>
<circle cx="547.05" cy="190.20" r="0.95" fill="#2ca02c"/>
<text x="556.70" y="192.20" font-size="5.75" text-anchor="start" font-family="'Liberation Sans', sans-serif" font-weight="normal" font-style="normal" fill="#222" stroke="#222" stroke-width="0.12">ProtDAT(PM1)</text>
<line x1="541.30" y1="198.20" x2="552.80" y2="198.20" stroke="#d62728" stroke-width="0.75" stroke-opacity="0.6"/>
<circle cx="547.05" cy="198.20" r="0.95" fill="#d62728"/>
<text x="556.70" y="200.20" font-size="5.75" text-anchor="start" font-family="'Liberation Sans', sans-serif" font-weight="normal" font-style="normal" fill="#222" stroke="#222" stroke-width="0.12">Progen2</text>
<line x1="541.30" y1="206.30" x2="552.80" y2="206.30" stroke="#9467bd" stroke-width="0.75" stroke-opacity="0.6"/>
<circle cx="547.05" cy="206.30" r="0.95" fill="#9467bd"/>
<text x="556.70" y="208.30" font-size="5.75" text-anchor="start" font-family="'Liberation Sans', sans-serif" font-weight="normal" font-style="normal" fill="#222" stroke="#222" stroke-width="0.12">ProLLaMA</text>
<line x1="541.30" y1="214.30" x2="552.80" y2="214.30" stroke="#ff7f0e" stroke-width="0.75" stroke-opacity="0.6"/>
<circle cx="547.05" cy="214.30" r="0.95" fill="#ff7f0e"/>
<text x="556.70" y="216.30" font-size="5.75" text-anchor="start" font-family="'Liberation Sans', sans-serif" font-weight="normal" font-style="normal" fill="#222" stroke="#222" stroke-width="0.12">ProtGPT2</text>
<line x1="541.30" y1="222.30" x2="552.80" y2="222.30" stroke="#8c564b" stroke-width="0.75" stroke-opacity="0.6"/>
<circle cx="547.05" cy="222.30" r="0.95" fill="#8c564b"/>
<text x="556.70" y="224.30" font-size="5.75" text-anchor="start" font-family="'Liberation Sans', sans-serif" font-weight="normal" font-style="normal" fill="#222" stroke="#222" stroke-width="0.12">ESM-3</text>
<text x="311.50" y="166.00" font-size="16" text-anchor="start" font-family="'Liberation Serif', serif" font-weight="bold" font-style="normal" fill="#000">d</text>
<rect x="20.19" y="377.94" width="7.97" height="100.06" fill="#1f77b4"/>
<rect x="28.16" y="422.99" width="7.97" height="55.01" fill="#ff7f0e"/>
<rect x="42.97" y="376.92" width="7.97" height="101.08" fill="#1f77b4"/>
<rect x="50.94" y="416.92" width="7.97" height="61.08" fill="#ff7f0e"/>
<rect x="65.74" y="409.15" width="7.97" height="68.85" fill="#1f77b4"/>
<rect x="73.71" y="435.65" width="7.97" height="42.35" fill="#ff7f0e"/>
<rect x="88.52" y="417.59" width="7.97" height="60.41" fill="#1f77b4"/>
<rect x="96.49" y="433.12" width="7.97" height="44.88" fill="#ff7f0e"/>
<rect x="111.29" y="413.88" width="7.97" height="64.12" fill="#1f77b4"/>
<rect x="119.26" y="438.35" width="7.97" height="39.65" fill="#ff7f0e"/>
<rect x="134.07" y="424.51" width="7.97" height="53.49" fill="#1f77b4"/>
<rect x="142.04" y="445.26" width="7.97" height="32.74" fill="#ff7f0e"/>
<rect x="13.70" y="372.20" width="142.80" height="105.80" fill="none" stroke="#bdbdbd" stroke-width="0.8"/>
<line x1="12.20" y1="478.00" x2="13.70" y2="478.00" stroke="#555" stroke-width="0.4"/>
<text x="11.50" y="479.20" font-size="3.5" text-anchor="end" font-family="'Liberation Sans', sans-serif" font-weight="normal" font-style="normal" fill="#222" stroke="#222" stroke-width="0.12">0.0</text>
<line x1="12.20" y1="461.13" x2="13.70" y2="461.13" stroke="#555" stroke-width="0.4"/>
<text x="11.50" y="462.33" font-size="3.5" text-anchor="end" font-family="'Liberation Sans', sans-serif" font-weight="normal" font-style="normal" fill="#222" stroke="#222" stroke-width="0.12">0.1</text>
<line x1="12.20" y1="444.25" x2="13.70" y2="444.25" stroke="#555" stroke-width="0.4"/>
<text x="11.50" y="445.45" font-size="3.5" text-anchor="end" font-family="'Liberation Sans', sans-serif" font-weight="normal" font-style="normal" fill="#222" stroke="#222" stroke-width="0.12">0.2</text>
<line x1="12.20" y1="427.38" x2="13.70" y2="427.38" stroke="#555" stroke-width="0.4"/>
<text x="11.50" y="428.58" font-size="3.5" text-anchor="end" font-family="'Liberation Sans', sans-serif" font-weight="normal" font-style="normal" fill="#222" stroke="#222" stroke-width="0.12">0.3</text>
<line x1="12.20" y1="410.50" x2="13.70" y2="410.50" stroke="#555" stroke-width="0.4"/>
<text x="11.50" y="411.70" font-size="3.5" text-anchor="end" font-family="'Liberation Sans', sans-serif" font-weight="normal" font-style="normal" fill="#222" stroke="#222" stroke-width="0.12">0.4</text>
<line x1="12.20" y1="393.63" x2="13.70" y2="393.63" stroke="#555" stroke-width="0.4"/>
<text x="11.50" y="394.83" font-size="3.5" text-anchor="end" font-family="'Liberation Sans', sans-serif" font-weight="normal" font-style="normal" fill="#222" stroke="#222" stroke-width="0.12">0.5</text>
<line x1="12.20" y1="376.76" x2="13.70" y2="376.76" stroke="#555" stroke-width="0.4"/>
<text x="11.50" y="377.96" font-size="3.5" text-anchor="end" font-family="'Liberation Sans', sans-serif" font-weight="normal" font-style="normal" fill="#222" stroke="#222" stroke-width="0.12">0.6</text>
<line x1="28.16" y1="478.00" x2="28.16" y2="479.50" stroke="#555" stroke-width="0.4"/>
<text x="28.16" y="484.00" font-size="4.6" text-anchor="middle" font-family="'Liberation Sans', sans-serif" font-weight="normal" font-style="normal" fill="#111" stroke="#111" stroke-width="0.12">ProtDAT</text>
<text x="28.16" y="489.00" font-size="4.6" text-anchor="middle" font-family="'Liberation Sans', sans-serif" font-weight="normal" font-style="normal" fill="#111" stroke="#111" stroke-width="0.12">(PM1)</text>
<line x1="50.94" y1="478.00" x2="50.94" y2="479.50" stroke="#555" stroke-width="0.4"/>
<text x="50.94" y="484.00" font-size="4.6" text-anchor="middle" font-family="'Liberation Sans', sans-serif" font-weight="normal" font-style="normal" fill="#111" stroke="#111" stroke-width="0.12">ProtDAT</text>
<text x="50.94" y="489.00" font-size="4.6" text-anchor="middle" font-family="'Liberation Sans', sans-serif" font-weight="normal" font-style="normal" fill="#111" stroke="#111" stroke-width="0.12">(PM2)</text>
<line x1="73.71" y1="478.00" x2="73.71" y2="479.50" stroke="#555" stroke-width="0.4"/>
<text x="73.71" y="484.00" font-size="4.6" text-anchor="middle" font-family="'Liberation Sans', sans-serif" font-weight="normal" font-style="normal" fill="#111" stroke="#111" stroke-width="0.12">Progen2</text>
<line x1="96.49" y1="478.00" x2="96.49" y2="479.50" stroke="#555" stroke-width="0.4"/>
<text x="96.49" y="484.00" font-size="4.6" text-anchor="middle" font-family="'Liberation Sans', sans-serif" font-weight="normal" font-style="normal" fill="#111" stroke="#111" stroke-width="0.12">ProLLaMA</text>
<line x1="119.26" y1="478.00" x2="119.26" y2="479.50" stroke="#555" stroke-width="0.4"/>
<text x="119.26" y="484.00" font-size="4.6" text-anchor="middle" font-family="'Liberation Sans', sans-serif" font-weight="normal" font-style="normal" fill="#111" stroke="#111" stroke-width="0.12">ProtGPT2</text>
<line x1="142.04" y1="478.00" x2="142.04" y2="479.50" stroke="#555" stroke-width="0.4"/>
<text x="142.04" y="484.00" font-size="4.6" text-anchor="middle" font-family="'Liberation Sans', sans-serif" font-weight="normal" font-style="normal" fill="#111" stroke="#111" stroke-width="0.12">ESM-3</text>
<text x="4.60" y="425.10" font-size="5.8" text-anchor="middle" font-family="'Liberation Sans', sans-serif" font-weight="normal" font-style="normal" fill="#222" stroke="#222" stroke-width="0.12" transform="rotate(-90 4.60 425.10)">Accuracy</text>
<rect x="121.70" y="374.30" width="31.80" height="15.80" fill="white" stroke="#dddddd" stroke-width="0.5" rx="1"/>
<rect x="123.50" y="376.60" width="10.00" height="3.70" fill="#1f77b4"/>
<rect x="123.50" y="383.90" width="10.00" height="3.70" fill="#ff7f0e"/>
<text x="137.70" y="380.30" font-size="5.06" text-anchor="start" font-family="'Liberation Sans', sans-serif" font-weight="normal" font-style="normal" fill="#222" stroke="#222" stroke-width="0.12">Top-1</text>
<text x="137.70" y="387.60" font-size="5.06" text-anchor="start" font-family="'Liberation Sans', sans-serif" font-weight="normal" font-style="normal" fill="#222" stroke="#222" stroke-width="0.12">Top-3</text>
<text x="7.70" y="365.30" font-size="16" text-anchor="start" font-family="'Liberation Serif', serif" font-weight="bold" font-style="normal" fill="#000">e</text>
<rect x="196.95" y="377.78" width="7.92" height="100.42" fill="#1f77b4"/>
<rect x="204.86" y="394.01" width="7.92" height="84.19" fill="#ff7f0e"/>
<rect x="219.56" y="376.76" width="7.92" height="101.44" fill="#1f77b4"/>
<rect x="227.48" y="391.47" width="7.92" height="86.73" fill="#ff7f0e"/>
<rect x="242.18" y="408.89" width="7.92" height="69.31" fill="#1f77b4"/>
<rect x="250.09" y="417.85" width="7.92" height="60.35" fill="#ff7f0e"/>
<rect x="264.79" y="417.00" width="7.92" height="61.20" fill="#1f77b4"/>
<rect x="272.71" y="420.55" width="7.92" height="57.65" fill="#ff7f0e"/>
<rect x="287.41" y="412.27" width="7.92" height="65.93" fill="#1f77b4"/>
<rect x="295.32" y="417.00" width="7.92" height="61.20" fill="#ff7f0e"/>
<rect x="310.02" y="424.78" width="7.92" height="53.42" fill="#1f77b4"/>
<rect x="317.94" y="440.84" width="7.92" height="37.36" fill="#ff7f0e"/>
<rect x="190.50" y="372.20" width="141.80" height="106.00" fill="none" stroke="#bdbdbd" stroke-width="0.8"/>
<line x1="189.00" y1="478.20" x2="190.50" y2="478.20" stroke="#555" stroke-width="0.4"/>
<text x="188.30" y="479.40" font-size="3.5" text-anchor="end" font-family="'Liberation Sans', sans-serif" font-weight="normal" font-style="normal" fill="#222" stroke="#222" stroke-width="0.12">0.0</text>
<line x1="189.00" y1="461.29" x2="190.50" y2="461.29" stroke="#555" stroke-width="0.4"/>
<text x="188.30" y="462.49" font-size="3.5" text-anchor="end" font-family="'Liberation Sans', sans-serif" font-weight="normal" font-style="normal" fill="#222" stroke="#222" stroke-width="0.12">0.1</text>
<line x1="189.00" y1="444.39" x2="190.50" y2="444.39" stroke="#555" stroke-width="0.4"/>
<text x="188.30" y="445.59" font-size="3.5" text-anchor="end" font-family="'Liberation Sans', sans-serif" font-weight="normal" font-style="normal" fill="#222" stroke="#222" stroke-width="0.12">0.2</text>
<line x1="189.00" y1="427.48" x2="190.50" y2="427.48" stroke="#555" stroke-width="0.4"/>
<text x="188.30" y="428.68" font-size="3.5" text-anchor="end" font-family="'Liberation Sans', sans-serif" font-weight="normal" font-style="normal" fill="#222" stroke="#222" stroke-width="0.12">0.3</text>
<line x1="189.00" y1="410.58" x2="190.50" y2="410.58" stroke="#555" stroke-width="0.4"/>
<text x="188.30" y="411.78" font-size="3.5" text-anchor="end" font-family="'Liberation Sans', sans-serif" font-weight="normal" font-style="normal" fill="#222" stroke="#222" stroke-width="0.12">0.4</text>
<line x1="189.00" y1="393.67" x2="190.50" y2="393.67" stroke="#555" stroke-width="0.4"/>
<text x="188.30" y="394.87" font-size="3.5" text-anchor="end" font-family="'Liberation Sans', sans-serif" font-weight="normal" font-style="normal" fill="#222" stroke="#222" stroke-width="0.12">0.5</text>
<line x1="189.00" y1="376.76" x2="190.50" y2="376.76" stroke="#555" stroke-width="0.4"/>
<text x="188.30" y="377.96" font-size="3.5" text-anchor="end" font-family="'Liberation Sans', sans-serif" font-weight="normal" font-style="normal" fill="#222" stroke="#222" stroke-width="0.12">0.6</text>
<line x1="204.86" y1="478.20" x2="204.86" y2="479.70" stroke="#555" stroke-width="0.4"/>
<text x="204.86" y="484.00" font-size="4.6" text-anchor="middle" font-family="'Liberation Sans', sans-serif" font-weight="normal" font-style="normal" fill="#111" stroke="#111" stroke-width="0.12">ProtDAT</text>
<text x="204.86" y="489.00" font-size="4.6" text-anchor="middle" font-family="'Liberation Sans', sans-serif" font-weight="normal" font-style="normal" fill="#111" stroke="#111" stroke-width="0.12">(PM1)</text>
<line x1="227.48" y1="478.20" x2="227.48" y2="479.70" stroke="#555" stroke-width="0.4"/>
<text x="227.48" y="484.00" font-size="4.6" text-anchor="middle" font-family="'Liberation Sans', sans-serif" font-weight="normal" font-style="normal" fill="#111" stroke="#111" stroke-width="0.12">ProtDAT</text>
<text x="227.48" y="489.00" font-size="4.6" text-anchor="middle" font-family="'Liberation Sans', sans-serif" font-weight="normal" font-style="normal" fill="#111" stroke="#111" stroke-width="0.12">(PM2)</text>
<line x1="250.09" y1="478.20" x2="250.09" y2="479.70" stroke="#555" stroke-width="0.4"/>
<text x="250.09" y="484.00" font-size="4.6" text-anchor="middle" font-family="'Liberation Sans', sans-serif" font-weight="normal" font-style="normal" fill="#111" stroke="#111" stroke-width="0.12">Progen2</text>
<line x1="272.71" y1="478.20" x2="272.71" y2="479.70" stroke="#555" stroke-width="0.4"/>
<text x="272.71" y="484.00" font-size="4.6" text-anchor="middle" font-family="'Liberation Sans', sans-serif" font-weight="normal" font-style="normal" fill="#111" stroke="#111" stroke-width="0.12">ProLLaMA</text>
<line x1="295.32" y1="478.20" x2="295.32" y2="479.70" stroke="#555" stroke-width="0.4"/>
<text x="295.32" y="484.00" font-size="4.6" text-anchor="middle" font-family="'Liberation Sans', sans-serif" font-weight="normal" font-style="normal" fill="#111" stroke="#111" stroke-width="0.12">ProtGPT2</text>
<line x1="317.94" y1="478.20" x2="317.94" y2="479.70" stroke="#555" stroke-width="0.4"/>
<text x="317.94" y="484.00" font-size="4.6" text-anchor="middle" font-family="'Liberation Sans', sans-serif" font-weight="normal" font-style="normal" fill="#111" stroke="#111" stroke-width="0.12">ESM-3</text>
<text x="180.30" y="425.20" font-size="5.8" text-anchor="middle" font-family="'Liberation Sans', sans-serif" font-weight="normal" font-style="normal" fill="#222" stroke="#222" stroke-width="0.12" transform="rotate(-90 180.30 425.20)">Micro Precision</text>
<rect x="297.70" y="374.30" width="31.80" height="15.80" fill="white" stroke="#dddddd" stroke-width="0.5" rx="1"/>
<rect x="299.50" y="376.60" width="10.00" height="3.70" fill="#1f77b4"/>
<rect x="299.50" y="383.90" width="10.00" height="3.70" fill="#ff7f0e"/>
<text x="313.70" y="380.30" font-size="5.06" text-anchor="start" font-family="'Liberation Sans', sans-serif" font-weight="normal" font-style="normal" fill="#222" stroke="#222" stroke-width="0.12">Top-1</text>
<text x="313.70" y="387.60" font-size="5.06" text-anchor="start" font-family="'Liberation Sans', sans-serif" font-weight="normal" font-style="normal" fill="#222" stroke="#222" stroke-width="0.12">Top-3</text>
<text x="184.20" y="365.30" font-size="16" text-anchor="start" font-family="'Liberation Serif', serif" font-weight="bold" font-style="normal" fill="#000">f</text>
<rect x="371.96" y="378.09" width="7.94" height="100.61" fill="#1f77b4"/>
<rect x="379.90" y="385.88" width="7.94" height="92.82" fill="#ff7f0e"/>
<rect x="394.64" y="377.41" width="7.94" height="101.29" fill="#1f77b4"/>
<rect x="402.58" y="383.85" width="7.94" height="94.85" fill="#ff7f0e"/>
<rect x="417.32" y="409.59" width="7.94" height="69.11" fill="#1f77b4"/>
<rect x="425.26" y="431.78" width="7.94" height="46.92" fill="#ff7f0e"/>
<rect x="440.00" y="417.89" width="7.94" height="60.81" fill="#1f77b4"/>
<rect x="447.94" y="426.36" width="7.94" height="52.34" fill="#ff7f0e"/>
<rect x="462.68" y="414.34" width="7.94" height="64.36" fill="#1f77b4"/>
<rect x="470.62" y="419.76" width="7.94" height="58.94" fill="#ff7f0e"/>
<rect x="485.36" y="424.67" width="7.94" height="54.03" fill="#1f77b4"/>
<rect x="493.30" y="419.25" width="7.94" height="59.45" fill="#ff7f0e"/>
<rect x="365.50" y="372.50" width="142.20" height="106.20" fill="none" stroke="#bdbdbd" stroke-width="0.8"/>
<line x1="364.00" y1="478.70" x2="365.50" y2="478.70" stroke="#555" stroke-width="0.4"/>
<text x="363.30" y="479.90" font-size="3.5" text-anchor="end" font-family="'Liberation Sans', sans-serif" font-weight="normal" font-style="normal" fill="#222" stroke="#222" stroke-width="0.12">0.0</text>
<line x1="364.00" y1="461.76" x2="365.50" y2="461.76" stroke="#555" stroke-width="0.4"/>
<text x="363.30" y="462.96" font-size="3.5" text-anchor="end" font-family="'Liberation Sans', sans-serif" font-weight="normal" font-style="normal" fill="#222" stroke="#222" stroke-width="0.12">0.1</text>
<line x1="364.00" y1="444.82" x2="365.50" y2="444.82" stroke="#555" stroke-width="0.4"/>
<text x="363.30" y="446.02" font-size="3.5" text-anchor="end" font-family="'Liberation Sans', sans-serif" font-weight="normal" font-style="normal" fill="#222" stroke="#222" stroke-width="0.12">0.2</text>
<line x1="364.00" y1="427.89" x2="365.50" y2="427.89" stroke="#555" stroke-width="0.4"/>
<text x="363.30" y="429.09" font-size="3.5" text-anchor="end" font-family="'Liberation Sans', sans-serif" font-weight="normal" font-style="normal" fill="#222" stroke="#222" stroke-width="0.12">0.3</text>
<line x1="364.00" y1="410.95" x2="365.50" y2="410.95" stroke="#555" stroke-width="0.4"/>
<text x="363.30" y="412.15" font-size="3.5" text-anchor="end" font-family="'Liberation Sans', sans-serif" font-weight="normal" font-style="normal" fill="#222" stroke="#222" stroke-width="0.12">0.4</text>
<line x1="364.00" y1="394.01" x2="365.50" y2="394.01" stroke="#555" stroke-width="0.4"/>
<text x="363.30" y="395.21" font-size="3.5" text-anchor="end" font-family="'Liberation Sans', sans-serif" font-weight="normal" font-style="normal" fill="#222" stroke="#222" stroke-width="0.12">0.5</text>
<line x1="364.00" y1="377.07" x2="365.50" y2="377.07" stroke="#555" stroke-width="0.4"/>
<text x="363.30" y="378.27" font-size="3.5" text-anchor="end" font-family="'Liberation Sans', sans-serif" font-weight="normal" font-style="normal" fill="#222" stroke="#222" stroke-width="0.12">0.6</text>
<line x1="379.90" y1="478.70" x2="379.90" y2="480.20" stroke="#555" stroke-width="0.4"/>
<text x="379.90" y="485.00" font-size="4.6" text-anchor="middle" font-family="'Liberation Sans', sans-serif" font-weight="normal" font-style="normal" fill="#111" stroke="#111" stroke-width="0.12">ProtDAT</text>
<text x="379.90" y="490.00" font-size="4.6" text-anchor="middle" font-family="'Liberation Sans', sans-serif" font-weight="normal" font-style="normal" fill="#111" stroke="#111" stroke-width="0.12">(PM1)</text>
<line x1="402.58" y1="478.70" x2="402.58" y2="480.20" stroke="#555" stroke-width="0.4"/>
<text x="402.58" y="485.00" font-size="4.6" text-anchor="middle" font-family="'Liberation Sans', sans-serif" font-weight="normal" font-style="normal" fill="#111" stroke="#111" stroke-width="0.12">ProtDAT</text>
<text x="402.58" y="490.00" font-size="4.6" text-anchor="middle" font-family="'Liberation Sans', sans-serif" font-weight="normal" font-style="normal" fill="#111" stroke="#111" stroke-width="0.12">(PM2)</text>
<line x1="425.26" y1="478.70" x2="425.26" y2="480.20" stroke="#555" stroke-width="0.4"/>
<text x="425.26" y="485.00" font-size="4.6" text-anchor="middle" font-family="'Liberation Sans', sans-serif" font-weight="normal" font-style="normal" fill="#111" stroke="#111" stroke-width="0.12">Progen2</text>
<line x1="447.94" y1="478.70" x2="447.94" y2="480.20" stroke="#555" stroke-width="0.4"/>
<text x="447.94" y="485.00" font-size="4.6" text-anchor="middle" font-family="'Liberation Sans', sans-serif" font-weight="normal" font-style="normal" fill="#111" stroke="#111" stroke-width="0.12">ProLLaMA</text>
<line x1="470.62" y1="478.70" x2="470.62" y2="480.20" stroke="#555" stroke-width="0.4"/>
<text x="470.62" y="485.00" font-size="4.6" text-anchor="middle" font-family="'Liberation Sans', sans-serif" font-weight="normal" font-style="normal" fill="#111" stroke="#111" stroke-width="0.12">ProtGPT2</text>
<line x1="493.30" y1="478.70" x2="493.30" y2="480.20" stroke="#555" stroke-width="0.4"/>
<text x="493.30" y="485.00" font-size="4.6" text-anchor="middle" font-family="'Liberation Sans', sans-serif" font-weight="normal" font-style="normal" fill="#111" stroke="#111" stroke-width="0.12">ESM-3</text>
<text x="355.00" y="425.60" font-size="5.8" text-anchor="middle" font-family="'Liberation Sans', sans-serif" font-weight="normal" font-style="normal" fill="#222" stroke="#222" stroke-width="0.12" transform="rotate(-90 355.00 425.60)">Micro Recall</text>
<rect x="473.00" y="374.60" width="31.80" height="15.80" fill="white" stroke="#dddddd" stroke-width="0.5" rx="1"/>
<rect x="474.80" y="376.90" width="10.00" height="3.70" fill="#1f77b4"/>
<rect x="474.80" y="384.20" width="10.00" height="3.70" fill="#ff7f0e"/>
<text x="489.00" y="380.60" font-size="5.06" text-anchor="start" font-family="'Liberation Sans', sans-serif" font-weight="normal" font-style="normal" fill="#222" stroke="#222" stroke-width="0.12">Top-1</text>
<text x="489.00" y="387.90" font-size="5.06" text-anchor="start" font-family="'Liberation Sans', sans-serif" font-weight="normal" font-style="normal" fill="#222" stroke="#222" stroke-width="0.12">Top-3</text>
<text x="355.60" y="365.30" font-size="16" text-anchor="start" font-family="'Liberation Serif', serif" font-weight="bold" font-style="normal" fill="#000">g</text>
<rect x="542.96" y="377.75" width="7.94" height="100.25" fill="#1f77b4"/>
<rect x="550.90" y="389.75" width="7.94" height="88.25" fill="#ff7f0e"/>
<rect x="565.64" y="376.73" width="7.94" height="101.27" fill="#1f77b4"/>
<rect x="573.58" y="387.55" width="7.94" height="90.45" fill="#ff7f0e"/>
<rect x="588.32" y="408.85" width="7.94" height="69.15" fill="#1f77b4"/>
<rect x="596.26" y="415.79" width="7.94" height="62.21" fill="#ff7f0e"/>
<rect x="611.00" y="416.97" width="7.94" height="61.03" fill="#1f77b4"/>
<rect x="618.94" y="422.89" width="7.94" height="55.11" fill="#ff7f0e"/>
<rect x="633.68" y="413.08" width="7.94" height="64.92" fill="#1f77b4"/>
<rect x="641.62" y="417.81" width="7.94" height="60.19" fill="#ff7f0e"/>
<rect x="656.36" y="424.24" width="7.94" height="53.76" fill="#1f77b4"/>
<rect x="664.30" y="432.02" width="7.94" height="45.98" fill="#ff7f0e"/>
<rect x="536.50" y="372.00" width="142.20" height="106.00" fill="none" stroke="#bdbdbd" stroke-width="0.8"/>
<line x1="535.00" y1="478.00" x2="536.50" y2="478.00" stroke="#555" stroke-width="0.4"/>
<text x="534.30" y="479.20" font-size="3.5" text-anchor="end" font-family="'Liberation Sans', sans-serif" font-weight="normal" font-style="normal" fill="#222" stroke="#222" stroke-width="0.12">0.0</text>
<line x1="535.00" y1="461.09" x2="536.50" y2="461.09" stroke="#555" stroke-width="0.4"/>
<text x="534.30" y="462.29" font-size="3.5" text-anchor="end" font-family="'Liberation Sans', sans-serif" font-weight="normal" font-style="normal" fill="#222" stroke="#222" stroke-width="0.12">0.1</text>
<line x1="535.00" y1="444.19" x2="536.50" y2="444.19" stroke="#555" stroke-width="0.4"/>
<text x="534.30" y="445.39" font-size="3.5" text-anchor="end" font-family="'Liberation Sans', sans-serif" font-weight="normal" font-style="normal" fill="#222" stroke="#222" stroke-width="0.12">0.2</text>
<line x1="535.00" y1="427.28" x2="536.50" y2="427.28" stroke="#555" stroke-width="0.4"/>
<text x="534.30" y="428.48" font-size="3.5" text-anchor="end" font-family="'Liberation Sans', sans-serif" font-weight="normal" font-style="normal" fill="#222" stroke="#222" stroke-width="0.12">0.3</text>
<line x1="535.00" y1="410.38" x2="536.50" y2="410.38" stroke="#555" stroke-width="0.4"/>
<text x="534.30" y="411.58" font-size="3.5" text-anchor="end" font-family="'Liberation Sans', sans-serif" font-weight="normal" font-style="normal" fill="#222" stroke="#222" stroke-width="0.12">0.4</text>
<line x1="535.00" y1="393.47" x2="536.50" y2="393.47" stroke="#555" stroke-width="0.4"/>
<text x="534.30" y="394.67" font-size="3.5" text-anchor="end" font-family="'Liberation Sans', sans-serif" font-weight="normal" font-style="normal" fill="#222" stroke="#222" stroke-width="0.12">0.5</text>
<line x1="535.00" y1="376.56" x2="536.50" y2="376.56" stroke="#555" stroke-width="0.4"/>
<text x="534.30" y="377.76" font-size="3.5" text-anchor="end" font-family="'Liberation Sans', sans-serif" font-weight="normal" font-style="normal" fill="#222" stroke="#222" stroke-width="0.12">0.6</text>
<line x1="550.90" y1="478.00" x2="550.90" y2="479.50" stroke="#555" stroke-width="0.4"/>
<text x="550.90" y="484.00" font-size="4.6" text-anchor="middle" font-family="'Liberation Sans', sans-serif" font-weight="normal" font-style="normal" fill="#111" stroke="#111" stroke-width="0.12">ProtDAT</text>
<text x="550.90" y="489.00" font-size="4.6" text-anchor="middle" font-family="'Liberation Sans', sans-serif" font-weight="normal" font-style="normal" fill="#111" stroke="#111" stroke-width="0.12">(PM1)</text>
<line x1="573.58" y1="478.00" x2="573.58" y2="479.50" stroke="#555" stroke-width="0.4"/>
<text x="573.58" y="484.00" font-size="4.6" text-anchor="middle" font-family="'Liberation Sans', sans-serif" font-weight="normal" font-style="normal" fill="#111" stroke="#111" stroke-width="0.12">ProtDAT</text>
<text x="573.58" y="489.00" font-size="4.6" text-anchor="middle" font-family="'Liberation Sans', sans-serif" font-weight="normal" font-style="normal" fill="#111" stroke="#111" stroke-width="0.12">(PM2)</text>
<line x1="596.26" y1="478.00" x2="596.26" y2="479.50" stroke="#555" stroke-width="0.4"/>
<text x="596.26" y="484.00" font-size="4.6" text-anchor="middle" font-family="'Liberation Sans', sans-serif" font-weight="normal" font-style="normal" fill="#111" stroke="#111" stroke-width="0.12">Progen2</text>
<line x1="618.94" y1="478.00" x2="618.94" y2="479.50" stroke="#555" stroke-width="0.4"/>
<text x="618.94" y="484.00" font-size="4.6" text-anchor="middle" font-family="'Liberation Sans', sans-serif" font-weight="normal" font-style="normal" fill="#111" stroke="#111" stroke-width="0.12">ProLLaMA</text>
<line x1="641.62" y1="478.00" x2="641.62" y2="479.50" stroke="#555" stroke-width="0.4"/>
<text x="641.62" y="484.00" font-size="4.6" text-anchor="middle" font-family="'Liberation Sans', sans-serif" font-weight="normal" font-style="normal" fill="#111" stroke="#111" stroke-width="0.12">ProtGPT2</text>
<line x1="664.30" y1="478.00" x2="664.30" y2="479.50" stroke="#555" stroke-width="0.4"/>
<text x="664.30" y="484.00" font-size="4.6" text-anchor="middle" font-family="'Liberation Sans', sans-serif" font-weight="normal" font-style="normal" fill="#111" stroke="#111" stroke-width="0.12">ESM-3</text>
<text x="526.00" y="425.00" font-size="5.8" text-anchor="middle" font-family="'Liberation Sans', sans-serif" font-weight="normal" font-style="normal" fill="#222" stroke="#222" stroke-width="0.12" transform="rotate(-90 526.00 425.00)">F1 Score</text>
<rect x="644.50" y="374.10" width="31.80" height="15.80" fill="white" stroke="#dddddd" stroke-width="0.5" rx="1"/>
<rect x="646.30" y="376.40" width="10.00" height="3.70" fill="#1f77b4"/>
<rect x="646.30" y="383.70" width="10.00" height="3.70" fill="#ff7f0e"/>
<text x="660.50" y="380.10" font-size="5.06" text-anchor="start" font-family="'Liberation Sans', sans-serif" font-weight="normal" font-style="normal" fill="#222" stroke="#222" stroke-width="0.12">Top-1</text>
<text x="660.50" y="387.40" font-size="5.06" text-anchor="start" font-family="'Liberation Sans', sans-serif" font-weight="normal" font-style="normal" fill="#222" stroke="#222" stroke-width="0.12">Top-3</text>
<text x="526.60" y="365.50" font-size="16" text-anchor="start" font-family="'Liberation Serif', serif" font-weight="bold" font-style="normal" fill="#000">h</text>
<g shape-rendering="crispEdges"><path fill="#bddf26" d="M28 532h1v1h-1zM28 538h1v1h-1zM28 540h1v3h-1zM29 538h2v1h-2zM29 581h2v1h-2zM29 647h2v1h-2z"/><path fill="#8bd646" d="M28 533h1v1h-1zM28 562h1v2h-1zM28 578h1v1h-1zM28 583h1v2h-1zM28 595h1v1h-1zM28 600h1v1h-1zM28 605h1v2h-1zM28 611h1v2h-1zM28 614h1v3h-1zM28 620h1v1h-1zM28 635h1v2h-1zM28 639h1v1h-1zM29 540h2v3h-2zM29 544h2v1h-2zM29 568h2v1h-2zM29 571h2v1h-2zM29 591h2v3h-2zM29 621h2v1h-2zM29 637h2v3h-2zM29 641h2v2h-2zM29 644h2v2h-2zM31 544h1v3h-1zM31 549h1v1h-1z"/><path fill="#7ad151" d="M28 534h1v2h-1zM28 559h1v1h-1zM28 566h1v2h-1zM28 570h1v2h-1zM28 581h1v1h-1zM28 585h1v4h-1zM28 590h1v2h-1zM28 596h1v2h-1zM28 608h1v3h-1zM28 617h1v1h-1zM28 623h1v3h-1zM28 627h1v2h-1zM28 633h1v2h-1zM29 543h2v1h-2zM29 551h2v1h-2zM29 553h2v3h-2zM29 569h2v1h-2zM29 583h2v1h-2zM29 589h2v1h-2zM29 595h2v1h-2zM29 607h2v2h-2zM29 613h2v3h-2zM29 643h2v1h-2zM31 543h1v1h-1zM31 547h1v2h-1zM31 553h1v3h-1zM37 633h1v1h-1zM37 635h1v2h-1zM40 602h1v2h-1zM40 643h1v3h-1z"/><path fill="#6ccd5a" d="M28 536h1v1h-1zM28 560h1v2h-1zM28 564h1v2h-1zM28 568h1v2h-1zM28 579h1v2h-1zM28 582h1v1h-1zM28 589h1v1h-1zM28 592h1v3h-1zM28 598h1v2h-1zM28 618h1v2h-1zM28 622h1v1h-1zM28 629h1v4h-1zM28 640h1v2h-1zM29 552h2v1h-2zM29 558h2v1h-2zM29 562h2v4h-2zM29 570h2v1h-2zM29 588h2v1h-2zM29 594h2v1h-2zM29 604h2v3h-2zM29 609h2v4h-2zM29 628h2v1h-2zM31 538h1v5h-1zM31 551h1v2h-1zM31 556h1v1h-1zM32 603h1v1h-1zM32 649h1v1h-1zM34 545h1v1h-1zM34 648h1v2h-1zM37 542h1v1h-1zM37 598h1v3h-1zM37 611h1v3h-1zM37 634h1v1h-1z"/><path fill="#44bf70" d="M28 537h1v1h-1zM28 553h1v3h-1zM28 648h1v2h-1zM29 601h2v1h-2zM29 622h2v1h-2zM31 534h1v2h-1zM31 557h1v2h-1zM31 565h1v3h-1zM31 574h1v1h-1zM31 595h1v1h-1zM31 610h1v3h-1zM31 614h1v1h-1zM31 622h1v4h-1zM31 637h1v3h-1zM31 649h1v1h-1zM32 538h1v1h-1zM32 540h1v4h-1zM32 563h1v5h-1zM32 581h1v4h-1zM32 590h1v2h-1zM32 594h1v2h-1zM32 600h1v1h-1zM32 610h1v6h-1zM32 647h1v1h-1zM33 542h1v1h-1zM33 545h1v1h-1zM33 579h1v5h-1zM33 596h1v4h-1zM33 608h1v1h-1zM34 542h1v1h-1zM34 544h1v1h-1zM34 550h1v1h-1zM34 587h1v1h-1zM34 589h1v2h-1zM34 600h1v1h-1zM34 631h1v2h-1zM34 644h1v3h-1zM35 542h2v1h-2zM35 553h2v2h-2zM35 562h2v1h-2zM35 569h2v1h-2zM35 577h2v4h-2zM35 583h2v2h-2zM35 587h2v1h-2zM35 597h2v1h-2zM35 607h2v2h-2zM35 613h2v4h-2zM35 621h2v2h-2zM35 624h2v2h-2zM35 634h2v3h-2zM35 648h2v2h-2zM37 533h1v1h-1zM37 539h1v1h-1zM37 544h1v1h-1zM37 546h1v1h-1zM37 550h1v1h-1zM37 558h1v1h-1zM37 564h1v2h-1zM37 575h1v1h-1zM37 579h1v2h-1zM37 582h1v1h-1zM37 590h1v6h-1zM37 602h1v1h-1zM37 616h1v1h-1zM37 622h1v1h-1zM37 624h1v2h-1zM37 628h1v1h-1zM38 546h1v4h-1zM38 551h1v2h-1zM38 556h1v1h-1zM38 558h1v1h-1zM38 562h1v1h-1zM38 566h1v3h-1zM38 595h1v1h-1zM38 621h1v1h-1zM38 623h1v1h-1zM38 637h1v2h-1zM39 538h1v4h-1zM39 549h1v2h-1zM39 552h1v1h-1zM39 572h1v2h-1zM39 578h1v4h-1zM39 589h1v1h-1zM39 600h1v1h-1zM39 602h1v1h-1zM39 615h1v1h-1zM39 618h1v2h-1zM39 621h1v1h-1zM39 636h1v3h-1zM39 640h1v2h-1zM39 644h1v2h-1zM40 551h1v1h-1zM40 576h1v1h-1zM40 578h1v1h-1zM40 581h1v2h-1zM40 584h1v7h-1zM40 595h1v1h-1zM40 597h1v3h-1zM40 607h1v1h-1zM40 618h1v2h-1zM40 621h1v1h-1zM40 623h1v3h-1zM40 631h1v2h-1zM40 635h1v1h-1zM40 647h1v2h-1z"/><path fill="#cde11d" d="M28 539h1v1h-1zM28 543h1v2h-1zM29 550h2v1h-2zM29 576h2v2h-2zM29 648h2v1h-2z"/><path fill="#addc30" d="M28 545h1v4h-1zM28 575h1v2h-1zM28 602h1v1h-1zM28 613h1v1h-1zM29 546h2v1h-2zM29 574h2v2h-2zM29 578h2v1h-2zM29 590h2v1h-2zM29 616h2v2h-2z"/><path fill="#9bd93c" d="M28 549h1v2h-1zM28 572h1v3h-1zM28 577h1v1h-1zM28 601h1v1h-1zM28 603h1v2h-1zM28 637h1v2h-1zM29 539h2v1h-2zM29 545h2v1h-2zM29 547h2v3h-2zM29 566h2v2h-2zM29 572h2v2h-2zM29 579h2v2h-2zM29 582h2v1h-2zM29 618h2v3h-2zM29 640h2v1h-2zM29 646h2v1h-2zM31 550h1v1h-1z"/><path fill="#5ec962" d="M28 551h1v2h-1zM28 558h1v1h-1zM28 607h1v1h-1zM28 621h1v1h-1zM28 626h1v1h-1zM28 642h1v1h-1zM28 644h1v3h-1zM29 532h2v2h-2zM29 537h2v1h-2zM29 556h2v2h-2zM29 559h2v1h-2zM29 584h2v3h-2zM29 596h2v2h-2zM29 603h2v1h-2zM29 623h2v1h-2zM29 627h2v1h-2zM29 630h2v1h-2zM29 634h2v3h-2zM32 602h1v1h-1zM32 604h1v1h-1zM32 648h1v1h-1zM33 609h1v4h-1zM33 614h1v1h-1zM34 546h1v3h-1zM34 591h1v5h-1zM34 647h1v1h-1zM35 610h2v1h-2zM35 618h2v3h-2zM37 555h1v1h-1zM37 596h1v2h-1zM37 601h1v1h-1zM37 614h1v2h-1zM37 630h1v1h-1zM37 637h1v2h-1zM38 540h1v3h-1zM38 544h1v1h-1zM38 570h1v1h-1zM38 572h1v3h-1zM39 545h1v2h-1zM39 553h1v5h-1zM39 584h1v3h-1zM39 647h1v1h-1zM39 649h1v1h-1zM40 539h1v1h-1zM40 592h1v2h-1zM40 601h1v1h-1zM40 614h1v2h-1zM40 634h1v1h-1zM40 641h1v2h-1zM40 646h1v1h-1z"/><path fill="#50c46a" d="M28 556h1v2h-1zM28 643h1v1h-1zM28 647h1v1h-1zM29 534h2v3h-2zM29 560h2v2h-2zM29 587h2v1h-2zM29 598h2v3h-2zM29 602h2v1h-2zM29 624h2v3h-2zM29 629h2v1h-2zM29 631h2v3h-2zM31 592h1v2h-1zM31 596h1v2h-1zM31 613h1v1h-1zM31 615h1v1h-1zM32 544h1v2h-1zM32 568h1v1h-1zM32 601h1v1h-1zM32 605h1v2h-1zM33 540h1v2h-1zM33 544h1v1h-1zM33 560h1v2h-1zM33 578h1v1h-1zM33 605h1v3h-1zM33 613h1v1h-1zM34 549h1v1h-1zM34 582h1v1h-1zM34 585h1v2h-1zM34 596h1v1h-1zM34 635h1v1h-1zM35 555h2v1h-2zM35 570h2v1h-2zM35 581h2v2h-2zM35 609h2v1h-2zM35 611h2v2h-2zM35 617h2v1h-2zM35 623h2v1h-2zM37 538h1v1h-1zM37 540h1v2h-1zM37 543h1v1h-1zM37 551h1v1h-1zM37 553h1v2h-1zM37 556h1v1h-1zM37 568h1v1h-1zM37 578h1v1h-1zM37 609h1v2h-1zM37 623h1v1h-1zM37 626h1v1h-1zM37 629h1v1h-1zM37 631h1v2h-1zM37 639h1v2h-1zM38 539h1v1h-1zM38 543h1v1h-1zM38 545h1v1h-1zM38 559h1v3h-1zM38 569h1v1h-1zM38 571h1v1h-1zM38 575h1v1h-1zM38 590h1v1h-1zM39 542h1v3h-1zM39 547h1v2h-1zM39 551h1v1h-1zM39 558h1v4h-1zM39 574h1v4h-1zM39 583h1v1h-1zM39 587h1v2h-1zM39 598h1v2h-1zM39 603h1v1h-1zM39 611h1v2h-1zM39 639h1v1h-1zM39 642h1v2h-1zM39 646h1v1h-1zM39 648h1v1h-1zM40 538h1v1h-1zM40 552h1v1h-1zM40 579h1v2h-1zM40 583h1v1h-1zM40 591h1v1h-1zM40 594h1v1h-1zM40 604h1v3h-1zM40 611h1v3h-1zM40 616h1v2h-1zM40 622h1v1h-1zM40 626h1v1h-1zM40 630h1v1h-1zM40 633h1v1h-1zM40 640h1v1h-1z"/><path fill="#dfe318" d="M29 649h2v1h-2z"/><path fill="#38b977" d="M31 532h1v2h-1zM31 536h1v2h-1zM31 559h1v1h-1zM31 562h1v2h-1zM31 569h1v5h-1zM31 575h1v1h-1zM31 577h1v2h-1zM31 594h1v1h-1zM31 600h1v1h-1zM31 607h1v3h-1zM31 616h1v2h-1zM31 620h1v1h-1zM31 626h1v2h-1zM31 642h1v1h-1zM31 647h1v2h-1zM32 537h1v1h-1zM32 539h1v1h-1zM32 552h1v4h-1zM32 569h1v3h-1zM32 579h1v2h-1zM32 585h1v3h-1zM32 589h1v1h-1zM32 592h1v2h-1zM32 596h1v1h-1zM32 607h1v3h-1zM32 616h1v1h-1zM32 618h1v2h-1zM32 622h1v5h-1zM32 639h1v2h-1zM32 643h1v4h-1zM33 533h1v1h-1zM33 538h1v1h-1zM33 543h1v1h-1zM33 553h1v2h-1zM33 557h1v3h-1zM33 562h1v1h-1zM33 577h1v1h-1zM33 584h1v1h-1zM33 594h1v2h-1zM33 604h1v1h-1zM33 615h1v2h-1zM33 618h1v2h-1zM33 629h1v1h-1zM33 633h1v1h-1zM33 636h1v3h-1zM33 640h1v1h-1zM33 648h1v2h-1zM34 538h1v1h-1zM34 540h1v2h-1zM34 543h1v1h-1zM34 552h1v1h-1zM34 563h1v1h-1zM34 570h1v4h-1zM34 578h1v4h-1zM34 583h1v2h-1zM34 588h1v1h-1zM34 597h1v3h-1zM34 601h1v1h-1zM34 627h1v1h-1zM34 630h1v1h-1zM34 633h1v2h-1zM34 636h1v3h-1zM34 643h1v1h-1zM35 543h2v10h-2zM35 556h2v1h-2zM35 558h2v2h-2zM35 563h2v1h-2zM35 585h2v2h-2zM35 588h2v1h-2zM35 591h2v1h-2zM35 594h2v3h-2zM35 598h2v2h-2zM35 601h2v2h-2zM35 604h2v3h-2zM35 626h2v2h-2zM35 639h2v1h-2zM35 647h2v1h-2zM37 532h1v1h-1zM37 537h1v1h-1zM37 545h1v1h-1zM37 552h1v1h-1zM37 557h1v1h-1zM37 559h1v1h-1zM37 563h1v1h-1zM37 566h1v2h-1zM37 574h1v1h-1zM37 576h1v2h-1zM37 581h1v1h-1zM37 583h1v1h-1zM37 587h1v1h-1zM37 608h1v1h-1zM37 620h1v2h-1zM37 627h1v1h-1zM37 641h1v9h-1zM38 538h1v1h-1zM38 550h1v1h-1zM38 553h1v2h-1zM38 557h1v1h-1zM38 563h1v1h-1zM38 565h1v1h-1zM38 589h1v1h-1zM38 591h1v1h-1zM38 594h1v1h-1zM38 598h1v3h-1zM38 610h1v1h-1zM38 613h1v1h-1zM38 620h1v1h-1zM38 622h1v1h-1zM38 633h1v1h-1zM38 636h1v1h-1zM38 639h1v1h-1zM38 641h1v1h-1zM39 562h1v1h-1zM39 571h1v1h-1zM39 582h1v1h-1zM39 590h1v2h-1zM39 594h1v4h-1zM39 601h1v1h-1zM39 604h1v5h-1zM39 610h1v1h-1zM39 613h1v2h-1zM39 616h1v2h-1zM39 622h1v1h-1zM39 634h1v2h-1zM40 534h1v3h-1zM40 540h1v2h-1zM40 547h1v3h-1zM40 556h1v6h-1zM40 565h1v4h-1zM40 575h1v1h-1zM40 577h1v1h-1zM40 596h1v1h-1zM40 600h1v1h-1zM40 610h1v1h-1zM40 620h1v1h-1zM40 627h1v1h-1zM40 629h1v1h-1zM40 636h1v4h-1zM40 649h1v1h-1z"/><path fill="#28ae80" d="M31 560h1v2h-1zM31 583h1v2h-1zM31 604h1v3h-1zM31 630h1v1h-1zM31 634h1v1h-1zM31 641h1v1h-1zM31 643h1v3h-1zM32 532h1v4h-1zM32 547h1v2h-1zM32 550h1v1h-1zM32 557h1v1h-1zM32 576h1v2h-1zM32 630h1v1h-1zM32 633h1v2h-1zM32 637h1v2h-1zM33 534h1v2h-1zM33 537h1v1h-1zM33 546h1v4h-1zM33 551h1v1h-1zM33 564h1v1h-1zM33 568h1v1h-1zM33 571h1v6h-1zM33 588h1v1h-1zM33 590h1v1h-1zM33 592h1v2h-1zM33 602h1v2h-1zM33 622h1v2h-1zM33 627h1v1h-1zM33 634h1v1h-1zM33 639h1v1h-1zM34 533h1v3h-1zM34 537h1v1h-1zM34 551h1v1h-1zM34 555h1v2h-1zM34 558h1v1h-1zM34 565h1v3h-1zM34 574h1v1h-1zM34 604h1v1h-1zM34 609h1v1h-1zM34 614h1v1h-1zM34 623h1v3h-1zM34 629h1v1h-1zM34 641h1v2h-1zM35 538h2v2h-2zM35 564h2v5h-2zM35 575h2v2h-2zM35 629h2v2h-2zM35 641h2v2h-2zM35 644h2v2h-2zM37 536h1v1h-1zM37 604h1v1h-1zM37 607h1v1h-1zM38 581h1v1h-1zM38 583h1v2h-1zM38 587h1v1h-1zM38 604h1v4h-1zM38 616h1v4h-1zM38 627h1v1h-1zM38 642h1v1h-1zM38 648h1v2h-1zM39 534h1v4h-1zM39 564h1v1h-1zM39 609h1v1h-1zM39 626h1v1h-1zM39 629h1v2h-1zM40 532h1v2h-1zM40 545h1v2h-1zM40 563h1v1h-1zM40 572h1v3h-1zM40 608h1v1h-1z"/><path fill="#2fb47c" d="M31 564h1v1h-1zM31 568h1v1h-1zM31 576h1v1h-1zM31 579h1v2h-1zM31 582h1v1h-1zM31 585h1v7h-1zM31 598h1v2h-1zM31 618h1v2h-1zM31 621h1v1h-1zM31 628h1v2h-1zM31 640h1v1h-1zM31 646h1v1h-1zM32 536h1v1h-1zM32 546h1v1h-1zM32 549h1v1h-1zM32 551h1v1h-1zM32 556h1v1h-1zM32 558h1v5h-1zM32 572h1v4h-1zM32 578h1v1h-1zM32 588h1v1h-1zM32 597h1v3h-1zM32 617h1v1h-1zM32 620h1v2h-1zM32 627h1v3h-1zM32 631h1v2h-1zM32 635h1v2h-1zM32 641h1v2h-1zM33 532h1v1h-1zM33 536h1v1h-1zM33 539h1v1h-1zM33 552h1v1h-1zM33 555h1v2h-1zM33 563h1v1h-1zM33 569h1v2h-1zM33 585h1v3h-1zM33 591h1v1h-1zM33 600h1v2h-1zM33 617h1v1h-1zM33 620h1v2h-1zM33 628h1v1h-1zM33 630h1v3h-1zM33 635h1v1h-1zM33 641h1v7h-1zM34 539h1v1h-1zM34 553h1v2h-1zM34 557h1v1h-1zM34 559h1v4h-1zM34 564h1v1h-1zM34 575h1v1h-1zM34 602h1v2h-1zM34 611h1v3h-1zM34 615h1v2h-1zM34 620h1v1h-1zM34 622h1v1h-1zM34 628h1v1h-1zM34 639h1v2h-1zM35 540h2v2h-2zM35 557h2v1h-2zM35 560h2v2h-2zM35 571h2v4h-2zM35 589h2v2h-2zM35 592h2v2h-2zM35 600h2v1h-2zM35 603h2v1h-2zM35 628h2v1h-2zM35 631h2v3h-2zM35 637h2v2h-2zM35 640h2v1h-2zM35 643h2v1h-2zM35 646h2v1h-2zM37 534h1v2h-1zM37 547h1v3h-1zM37 560h1v2h-1zM37 569h1v5h-1zM37 588h1v2h-1zM37 603h1v1h-1zM37 617h1v3h-1zM38 537h1v1h-1zM38 555h1v1h-1zM38 564h1v1h-1zM38 576h1v2h-1zM38 582h1v1h-1zM38 585h1v2h-1zM38 588h1v1h-1zM38 592h1v2h-1zM38 596h1v2h-1zM38 601h1v3h-1zM38 608h1v2h-1zM38 611h1v2h-1zM38 614h1v2h-1zM38 624h1v3h-1zM38 628h1v5h-1zM38 634h1v2h-1zM38 640h1v1h-1zM39 532h1v2h-1zM39 569h1v2h-1zM39 592h1v2h-1zM39 620h1v1h-1zM39 623h1v3h-1zM39 631h1v3h-1zM40 537h1v1h-1zM40 542h1v3h-1zM40 550h1v1h-1zM40 553h1v3h-1zM40 562h1v1h-1zM40 569h1v3h-1zM40 628h1v1h-1z"/><path fill="#22a884" d="M31 581h1v1h-1zM31 601h1v1h-1zM31 603h1v1h-1zM31 631h1v3h-1zM31 635h1v2h-1zM33 550h1v1h-1zM33 565h1v3h-1zM33 589h1v1h-1zM33 624h1v3h-1zM34 532h1v1h-1zM34 536h1v1h-1zM34 568h1v1h-1zM34 577h1v1h-1zM34 607h1v2h-1zM34 610h1v1h-1zM34 617h1v3h-1zM34 626h1v1h-1zM37 562h1v1h-1zM37 584h1v3h-1zM37 605h1v2h-1zM38 536h1v1h-1zM38 578h1v3h-1zM38 643h1v1h-1zM38 646h1v2h-1zM39 563h1v1h-1zM39 566h1v2h-1zM39 627h1v2h-1zM40 564h1v1h-1zM40 609h1v1h-1zM46 597h1v3h-1zM49 590h1v1h-1zM50 532h1v1h-1zM52 613h1v2h-1z"/><path fill="#1e9c89" d="M31 602h1v1h-1zM35 532h2v4h-2zM35 537h2v1h-2zM41 536h2v1h-2zM41 540h2v2h-2zM41 549h2v1h-2zM41 552h2v1h-2zM41 563h2v2h-2zM41 566h2v6h-2zM41 581h2v1h-2zM41 583h2v1h-2zM41 600h2v4h-2zM41 607h2v3h-2zM41 639h2v1h-2zM41 642h2v2h-2zM41 646h2v1h-2zM43 537h1v2h-1zM43 540h1v5h-1zM43 584h1v3h-1zM43 588h1v2h-1zM43 591h1v1h-1zM43 614h1v6h-1zM43 622h1v5h-1zM43 634h1v3h-1zM44 536h1v3h-1zM44 542h1v2h-1zM44 550h1v1h-1zM44 552h1v1h-1zM44 563h1v5h-1zM44 578h1v1h-1zM44 581h1v2h-1zM44 605h1v2h-1zM44 616h1v1h-1zM44 623h1v3h-1zM45 543h1v3h-1zM45 547h1v2h-1zM45 550h1v1h-1zM45 552h1v1h-1zM45 556h1v1h-1zM45 563h1v1h-1zM45 565h1v1h-1zM45 570h1v1h-1zM45 576h1v1h-1zM45 578h1v1h-1zM45 630h1v4h-1zM45 642h1v1h-1zM45 644h1v3h-1zM46 533h1v3h-1zM46 542h1v2h-1zM46 559h1v6h-1zM46 566h1v2h-1zM46 600h1v1h-1zM46 630h1v1h-1zM46 644h1v2h-1zM46 647h1v2h-1zM47 532h2v5h-2zM47 540h2v2h-2zM47 543h2v1h-2zM47 546h2v1h-2zM47 549h2v3h-2zM47 558h2v2h-2zM47 563h2v1h-2zM47 569h2v1h-2zM47 576h2v1h-2zM47 592h2v2h-2zM47 597h2v3h-2zM47 611h2v5h-2zM47 617h2v5h-2zM47 641h2v2h-2zM49 533h1v1h-1zM49 549h1v4h-1zM49 556h1v3h-1zM49 578h1v1h-1zM49 588h1v1h-1zM49 592h1v2h-1zM49 649h1v1h-1zM50 536h1v3h-1zM50 553h1v2h-1zM50 558h1v4h-1zM50 587h1v2h-1zM50 618h1v2h-1zM50 637h1v2h-1zM50 644h1v4h-1zM51 532h1v5h-1zM51 560h1v2h-1zM51 563h1v6h-1zM51 581h1v6h-1zM51 588h1v2h-1zM51 596h1v1h-1zM51 608h1v2h-1zM51 635h1v1h-1zM51 637h1v2h-1zM51 642h1v1h-1zM52 536h1v6h-1zM52 565h1v4h-1zM52 608h1v2h-1zM52 616h1v1h-1zM52 623h1v1h-1zM52 647h1v1h-1zM53 532h2v1h-2zM53 545h2v1h-2zM53 547h2v4h-2zM53 553h2v3h-2zM53 557h2v2h-2zM53 569h2v5h-2zM53 582h2v2h-2zM53 587h2v1h-2zM53 595h2v2h-2zM53 604h2v5h-2zM53 610h2v3h-2zM53 622h2v1h-2zM53 630h2v1h-2zM53 635h2v2h-2z"/><path fill="#1fa287" d="M34 569h1v1h-1zM34 576h1v1h-1zM34 605h1v2h-1zM34 621h1v1h-1zM38 534h1v2h-1zM38 644h1v2h-1zM39 565h1v1h-1zM39 568h1v1h-1zM41 550h2v1h-2zM41 565h2v1h-2zM41 572h2v3h-2zM41 604h2v3h-2zM43 539h1v1h-1zM43 587h1v1h-1zM45 546h1v1h-1zM45 551h1v1h-1zM45 553h1v3h-1zM45 572h1v4h-1zM45 577h1v1h-1zM45 634h1v1h-1zM46 532h1v1h-1zM46 595h1v2h-1zM46 646h1v1h-1zM47 544h2v2h-2zM47 547h2v2h-2zM47 616h2v1h-2zM49 532h1v1h-1zM49 553h1v2h-1zM49 589h1v1h-1zM49 591h1v1h-1zM50 533h1v3h-1zM50 555h1v3h-1zM50 648h1v2h-1zM52 610h1v3h-1zM52 615h1v1h-1zM52 644h1v3h-1zM53 584h2v3h-2zM53 609h2v1h-2zM53 631h2v2h-2z"/><path fill="#1f968b" d="M35 536h2v1h-2zM38 533h1v1h-1zM41 534h2v2h-2zM41 537h2v3h-2zM41 542h2v4h-2zM41 547h2v2h-2zM41 551h2v1h-2zM41 553h2v2h-2zM41 562h2v1h-2zM41 575h2v2h-2zM41 578h2v1h-2zM41 582h2v1h-2zM41 584h2v6h-2zM41 591h2v1h-2zM41 596h2v4h-2zM41 610h2v1h-2zM41 613h2v1h-2zM41 617h2v5h-2zM41 628h2v2h-2zM41 633h2v6h-2zM41 640h2v2h-2zM41 644h2v2h-2zM41 647h2v1h-2zM43 532h1v1h-1zM43 534h1v3h-1zM43 545h1v2h-1zM43 553h1v7h-1zM43 568h1v4h-1zM43 583h1v1h-1zM43 590h1v1h-1zM43 592h1v3h-1zM43 601h1v1h-1zM43 608h1v2h-1zM43 620h1v2h-1zM43 627h1v1h-1zM43 630h1v4h-1zM43 637h1v2h-1zM43 640h1v8h-1zM44 533h1v3h-1zM44 539h1v3h-1zM44 544h1v6h-1zM44 551h1v1h-1zM44 553h1v6h-1zM44 560h1v3h-1zM44 568h1v1h-1zM44 575h1v3h-1zM44 579h1v2h-1zM44 583h1v4h-1zM44 588h1v1h-1zM44 595h1v2h-1zM44 598h1v3h-1zM44 603h1v2h-1zM44 607h1v4h-1zM44 613h1v3h-1zM44 617h1v5h-1zM44 626h1v3h-1zM44 634h1v2h-1zM44 639h1v5h-1zM44 646h1v4h-1zM45 533h1v7h-1zM45 542h1v1h-1zM45 549h1v1h-1zM45 562h1v1h-1zM45 564h1v1h-1zM45 566h1v4h-1zM45 571h1v1h-1zM45 602h1v2h-1zM45 610h1v3h-1zM45 615h1v5h-1zM45 624h1v3h-1zM45 629h1v1h-1zM45 635h1v4h-1zM45 641h1v1h-1zM45 643h1v1h-1zM45 647h1v1h-1zM46 536h1v1h-1zM46 538h1v4h-1zM46 565h1v1h-1zM46 568h1v4h-1zM46 576h1v11h-1zM46 594h1v1h-1zM46 601h1v2h-1zM46 613h1v1h-1zM46 615h1v8h-1zM46 626h1v4h-1zM46 631h1v8h-1zM46 643h1v1h-1zM46 649h1v1h-1zM47 537h2v3h-2zM47 542h2v1h-2zM47 552h2v4h-2zM47 557h2v1h-2zM47 560h2v3h-2zM47 564h2v1h-2zM47 566h2v3h-2zM47 570h2v4h-2zM47 577h2v4h-2zM47 590h2v2h-2zM47 594h2v3h-2zM47 600h2v3h-2zM47 608h2v3h-2zM47 622h2v5h-2zM47 640h2v1h-2zM47 643h2v4h-2zM47 648h2v2h-2zM49 534h1v2h-1zM49 537h1v1h-1zM49 555h1v1h-1zM49 559h1v3h-1zM49 569h1v3h-1zM49 574h1v4h-1zM49 579h1v2h-1zM49 587h1v1h-1zM49 594h1v2h-1zM49 597h1v3h-1zM49 601h1v7h-1zM49 615h1v7h-1zM49 630h1v5h-1zM49 640h1v4h-1zM49 647h1v2h-1zM50 539h1v3h-1zM50 545h1v4h-1zM50 551h1v2h-1zM50 562h1v4h-1zM50 569h1v1h-1zM50 572h1v2h-1zM50 584h1v3h-1zM50 589h1v3h-1zM50 598h1v6h-1zM50 614h1v2h-1zM50 617h1v1h-1zM50 620h1v4h-1zM50 633h1v1h-1zM50 635h1v2h-1zM50 640h1v4h-1zM51 537h1v1h-1zM51 543h1v3h-1zM51 557h1v1h-1zM51 569h1v2h-1zM51 575h1v1h-1zM51 578h1v3h-1zM51 587h1v1h-1zM51 590h1v4h-1zM51 595h1v1h-1zM51 597h1v1h-1zM51 604h1v4h-1zM51 610h1v7h-1zM51 631h1v4h-1zM51 636h1v1h-1zM51 639h1v3h-1zM51 643h1v4h-1zM51 649h1v1h-1zM52 532h1v4h-1zM52 542h1v7h-1zM52 557h1v1h-1zM52 564h1v1h-1zM52 569h1v2h-1zM52 578h1v1h-1zM52 585h1v5h-1zM52 596h1v12h-1zM52 617h1v1h-1zM52 620h1v1h-1zM52 622h1v1h-1zM52 624h1v5h-1zM52 634h1v3h-1zM52 643h1v1h-1zM52 648h1v1h-1zM53 533h2v1h-2zM53 543h2v2h-2zM53 546h2v1h-2zM53 551h2v2h-2zM53 556h2v1h-2zM53 559h2v10h-2zM53 574h2v1h-2zM53 588h2v2h-2zM53 591h2v1h-2zM53 594h2v1h-2zM53 597h2v4h-2zM53 613h2v2h-2zM53 620h2v2h-2zM53 623h2v1h-2zM53 627h2v1h-2zM53 629h2v1h-2zM53 633h2v2h-2zM53 639h2v1h-2z"/><path fill="#21918c" d="M38 532h1v1h-1zM41 532h2v2h-2zM41 546h2v1h-2zM41 555h2v1h-2zM41 557h2v5h-2zM41 577h2v1h-2zM41 579h2v2h-2zM41 590h2v1h-2zM41 592h2v4h-2zM41 611h2v2h-2zM41 614h2v3h-2zM41 622h2v6h-2zM41 630h2v3h-2zM41 648h2v2h-2zM43 533h1v1h-1zM43 547h1v6h-1zM43 560h1v2h-1zM43 563h1v5h-1zM43 572h1v5h-1zM43 578h1v3h-1zM43 582h1v1h-1zM43 595h1v6h-1zM43 604h1v4h-1zM43 610h1v4h-1zM43 628h1v2h-1zM43 639h1v1h-1zM43 648h1v1h-1zM44 532h1v1h-1zM44 559h1v1h-1zM44 571h1v1h-1zM44 574h1v1h-1zM44 587h1v1h-1zM44 589h1v1h-1zM44 592h1v2h-1zM44 597h1v1h-1zM44 601h1v2h-1zM44 622h1v1h-1zM44 629h1v5h-1zM44 636h1v3h-1zM44 644h1v2h-1zM45 532h1v1h-1zM45 540h1v2h-1zM45 557h1v5h-1zM45 579h1v2h-1zM45 585h1v13h-1zM45 600h1v2h-1zM45 604h1v6h-1zM45 613h1v2h-1zM45 620h1v4h-1zM45 627h1v2h-1zM45 639h1v2h-1zM45 648h1v2h-1zM46 537h1v1h-1zM46 544h1v8h-1zM46 553h1v6h-1zM46 572h1v4h-1zM46 587h1v2h-1zM46 590h1v4h-1zM46 604h1v9h-1zM46 614h1v1h-1zM46 623h1v3h-1zM46 639h1v1h-1zM46 642h1v1h-1zM47 556h2v1h-2zM47 565h2v1h-2zM47 574h2v2h-2zM47 581h2v2h-2zM47 588h2v2h-2zM47 603h2v5h-2zM47 627h2v4h-2zM47 633h2v1h-2zM47 637h2v3h-2zM47 647h2v1h-2zM49 536h1v1h-1zM49 538h1v5h-1zM49 546h1v3h-1zM49 562h1v3h-1zM49 566h1v3h-1zM49 572h1v2h-1zM49 581h1v3h-1zM49 585h1v2h-1zM49 596h1v1h-1zM49 600h1v1h-1zM49 608h1v2h-1zM49 611h1v4h-1zM49 622h1v4h-1zM49 628h1v2h-1zM49 635h1v5h-1zM49 644h1v3h-1zM50 542h1v3h-1zM50 549h1v2h-1zM50 566h1v3h-1zM50 570h1v2h-1zM50 574h1v1h-1zM50 576h1v2h-1zM50 579h1v5h-1zM50 594h1v4h-1zM50 604h1v3h-1zM50 609h1v5h-1zM50 616h1v1h-1zM50 624h1v5h-1zM50 630h1v3h-1zM50 634h1v1h-1zM50 639h1v1h-1zM51 538h1v1h-1zM51 546h1v3h-1zM51 550h1v1h-1zM51 552h1v5h-1zM51 558h1v2h-1zM51 562h1v1h-1zM51 571h1v4h-1zM51 576h1v2h-1zM51 594h1v1h-1zM51 598h1v4h-1zM51 617h1v1h-1zM51 620h1v1h-1zM51 627h1v4h-1zM51 647h1v2h-1zM52 555h1v2h-1zM52 558h1v1h-1zM52 560h1v4h-1zM52 571h1v3h-1zM52 575h1v3h-1zM52 579h1v6h-1zM52 590h1v2h-1zM52 595h1v1h-1zM52 618h1v2h-1zM52 621h1v1h-1zM52 629h1v5h-1zM52 637h1v2h-1zM52 640h1v1h-1zM52 642h1v1h-1zM52 649h1v1h-1zM53 534h2v3h-2zM53 539h2v4h-2zM53 575h2v1h-2zM53 581h2v1h-2zM53 590h2v1h-2zM53 592h2v2h-2zM53 601h2v3h-2zM53 615h2v1h-2zM53 617h2v3h-2zM53 624h2v3h-2zM53 628h2v1h-2zM53 637h2v2h-2zM53 640h2v2h-2zM53 643h2v4h-2z"/><path fill="#238a8d" d="M41 556h2v1h-2zM43 562h1v1h-1zM43 577h1v1h-1zM43 581h1v1h-1zM43 602h1v2h-1zM43 649h1v1h-1zM44 569h1v2h-1zM44 572h1v2h-1zM44 590h1v2h-1zM44 594h1v1h-1zM44 611h1v2h-1zM45 581h1v2h-1zM45 584h1v1h-1zM45 598h1v2h-1zM46 552h1v1h-1zM46 589h1v1h-1zM46 603h1v1h-1zM46 640h1v2h-1zM47 583h2v5h-2zM47 631h2v2h-2zM47 634h2v3h-2zM49 543h1v3h-1zM49 565h1v1h-1zM49 584h1v1h-1zM49 610h1v1h-1zM49 626h1v2h-1zM50 575h1v1h-1zM50 578h1v1h-1zM50 592h1v2h-1zM50 607h1v2h-1zM50 629h1v1h-1zM51 539h1v4h-1zM51 549h1v1h-1zM51 551h1v1h-1zM51 602h1v2h-1zM51 618h1v2h-1zM51 621h1v2h-1zM51 624h1v2h-1zM52 549h1v1h-1zM52 552h1v3h-1zM52 559h1v1h-1zM52 574h1v1h-1zM52 592h1v3h-1zM52 639h1v1h-1zM52 641h1v1h-1zM53 537h2v2h-2zM53 576h2v1h-2zM53 579h2v2h-2zM53 616h2v1h-2zM53 642h2v1h-2zM53 647h2v3h-2z"/><path fill="#25848e" d="M45 583h1v1h-1zM51 623h1v1h-1zM51 626h1v1h-1zM52 550h1v2h-1zM53 577h2v2h-2z"/><path fill="#2c728e" d="M55 532h1v10h-1zM55 547h1v93h-1zM55 641h1v9h-1zM56 532h1v12h-1zM56 550h1v92h-1zM56 643h1v7h-1zM57 532h1v14h-1zM57 551h1v99h-1zM58 532h1v15h-1zM58 553h1v97h-1zM59 532h2v18h-2zM59 556h2v94h-2zM61 532h1v20h-1zM61 558h1v92h-1zM62 532h1v23h-1zM62 559h1v91h-1zM63 532h1v25h-1zM63 562h1v88h-1zM64 532h1v27h-1zM64 564h1v86h-1z"/><path fill="#2f6c8e" d="M55 542h1v5h-1zM55 640h1v1h-1zM56 544h1v6h-1zM56 642h1v1h-1zM57 546h1v5h-1zM58 547h1v6h-1zM59 550h2v6h-2zM61 552h1v6h-1zM62 555h1v4h-1zM63 557h1v5h-1zM64 559h1v5h-1z"/><path fill="#355f8d" d="M65 532h2v118h-2zM67 532h1v118h-1zM68 532h1v118h-1z"/><path fill="#443b84" d="M69 532h1v4h-1zM69 544h1v16h-1zM69 575h1v21h-1zM69 605h1v13h-1zM69 626h1v3h-1zM69 634h1v14h-1zM70 532h1v5h-1zM70 546h1v17h-1zM70 577h1v20h-1zM70 603h1v2h-1zM70 608h1v9h-1zM70 627h1v4h-1zM70 636h1v14h-1zM71 532h2v7h-2zM71 549h2v16h-2zM71 579h2v21h-2zM71 605h2v3h-2zM71 609h2v9h-2zM71 629h2v5h-2zM71 639h2v11h-2zM73 532h1v10h-1zM73 546h1v1h-1zM73 551h1v17h-1zM73 581h1v21h-1zM73 607h1v14h-1zM73 631h1v4h-1zM73 641h1v9h-1zM74 532h1v12h-1zM74 547h1v4h-1zM74 552h1v19h-1zM74 583h1v21h-1zM74 609h1v13h-1zM74 634h1v3h-1zM74 642h1v8h-1zM75 534h1v11h-1zM75 549h1v26h-1zM75 585h1v20h-1zM75 610h1v14h-1zM75 636h1v4h-1zM75 644h1v6h-1zM76 536h2v11h-2zM76 550h2v27h-2zM76 587h2v21h-2zM76 613h2v13h-2zM76 639h2v3h-2zM76 647h2v3h-2zM78 538h1v12h-1zM78 552h1v27h-1zM78 589h1v21h-1zM78 614h1v14h-1zM78 641h1v3h-1zM78 649h1v1h-1zM79 532h1v1h-1zM79 540h1v12h-1zM79 553h1v29h-1zM79 591h1v23h-1zM79 615h1v15h-1zM79 643h1v3h-1zM80 532h1v4h-1zM80 542h1v13h-1zM80 556h1v29h-1zM80 594h1v37h-1zM80 646h1v2h-1zM81 533h1v4h-1zM81 543h1v3h-1zM81 547h1v41h-1zM81 595h1v39h-1zM81 648h1v2h-1zM82 536h2v3h-2zM82 545h2v2h-2zM82 550h2v40h-2zM82 597h2v39h-2zM84 538h1v4h-1zM84 547h1v3h-1zM84 552h1v40h-1zM84 600h1v39h-1zM85 532h1v2h-1zM85 540h1v3h-1zM85 550h1v2h-1zM85 555h1v40h-1zM85 602h1v39h-1zM86 532h1v4h-1zM86 542h1v3h-1zM86 551h1v2h-1zM86 557h1v39h-1zM86 604h1v39h-1zM87 532h1v6h-1zM87 544h1v3h-1zM87 553h1v3h-1zM87 559h1v39h-1zM87 605h1v41h-1zM88 532h2v8h-2zM88 546h2v3h-2zM88 556h2v1h-2zM88 562h2v39h-2zM88 608h2v40h-2zM90 532h1v11h-1zM90 549h1v2h-1zM90 564h1v39h-1zM90 610h1v40h-1zM91 532h1v13h-1zM91 551h1v2h-1zM91 566h1v39h-1zM91 613h1v37h-1zM92 534h1v13h-1zM92 552h1v3h-1zM92 569h1v39h-1zM92 615h1v29h-1zM92 646h1v4h-1zM93 536h1v14h-1zM93 555h1v2h-1zM93 570h1v39h-1zM93 617h1v30h-1zM93 648h1v2h-1zM94 538h2v14h-2zM94 557h2v2h-2zM94 572h2v10h-2zM94 585h2v26h-2zM94 620h2v29h-2zM96 532h1v2h-1zM96 540h1v15h-1zM96 559h1v1h-1zM96 575h1v8h-1zM96 591h1v23h-1zM96 622h1v22h-1zM96 647h1v3h-1zM97 532h1v5h-1zM97 543h1v14h-1zM97 562h1v1h-1zM97 576h1v9h-1zM97 594h1v21h-1zM97 624h1v23h-1zM97 649h1v1h-1zM98 532h1v7h-1zM98 544h1v15h-1zM98 564h1v1h-1zM98 578h1v9h-1zM98 596h1v21h-1zM98 627h1v21h-1zM99 532h1v10h-1zM99 546h1v16h-1zM99 566h1v2h-1zM99 581h1v8h-1zM99 600h1v18h-1zM99 629h1v21h-1zM100 532h2v12h-2zM100 549h2v14h-2zM100 582h2v9h-2zM100 601h2v20h-2zM100 630h2v20h-2zM102 532h1v14h-1zM102 550h1v15h-1zM102 570h1v1h-1zM102 584h1v8h-1zM102 603h1v19h-1zM102 633h1v17h-1zM103 532h1v10h-1zM103 544h1v5h-1zM103 552h1v16h-1zM103 572h1v3h-1zM103 587h1v8h-1zM103 605h1v19h-1zM103 635h1v15h-1zM104 532h1v12h-1zM104 546h1v5h-1zM104 555h1v15h-1zM104 575h1v2h-1zM104 588h1v9h-1zM104 608h1v19h-1zM104 636h1v14h-1zM105 532h1v13h-1zM105 549h1v4h-1zM105 556h1v16h-1zM105 577h1v2h-1zM105 590h1v10h-1zM105 610h1v19h-1zM105 639h1v11h-1zM106 532h2v8h-2zM106 542h2v5h-2zM106 551h2v23h-2zM106 578h2v4h-2zM106 591h2v10h-2zM106 605h2v3h-2zM106 611h2v20h-2zM106 641h2v9h-2zM108 533h1v10h-1zM108 544h1v6h-1zM108 552h1v24h-1zM108 581h1v3h-1zM108 591h1v12h-1zM108 607h1v3h-1zM108 614h1v20h-1zM108 643h1v7h-1zM109 536h1v8h-1zM109 546h1v5h-1zM109 555h1v22h-1zM109 583h1v4h-1zM109 592h1v13h-1zM109 609h1v27h-1zM109 646h1v4h-1zM110 538h1v8h-1zM110 549h1v4h-1zM110 557h1v22h-1zM110 585h1v4h-1zM110 595h1v13h-1zM110 610h1v29h-1zM110 647h1v3h-1zM111 540h1v7h-1zM111 551h1v5h-1zM111 559h1v23h-1zM111 587h1v4h-1zM111 596h1v14h-1zM111 611h1v30h-1zM111 649h1v1h-1zM112 543h2v7h-2zM112 553h2v5h-2zM112 560h2v24h-2zM112 589h2v3h-2zM112 598h2v45h-2zM114 532h1v2h-1zM114 545h1v7h-1zM114 556h1v3h-1zM114 563h1v22h-1zM114 591h1v4h-1zM114 600h1v44h-1zM115 532h1v5h-1zM115 547h1v6h-1zM115 558h1v4h-1zM115 564h1v24h-1zM115 594h1v3h-1zM115 602h1v45h-1zM116 532h1v6h-1zM116 550h1v6h-1zM116 560h1v4h-1zM116 566h1v24h-1zM116 596h1v4h-1zM116 604h1v45h-1zM117 532h1v8h-1zM117 552h1v5h-1zM117 563h1v29h-1zM117 597h1v4h-1zM117 607h1v32h-1zM117 640h1v10h-1zM118 532h2v11h-2zM118 555h2v4h-2zM118 565h2v30h-2zM118 600h2v3h-2zM118 608h2v33h-2zM118 642h2v8h-2zM120 532h1v13h-1zM120 557h1v5h-1zM120 569h1v12h-1zM120 582h1v15h-1zM120 602h1v3h-1zM120 610h1v40h-1zM121 532h1v15h-1zM121 559h1v4h-1zM121 571h1v11h-1zM121 585h1v15h-1zM121 604h1v3h-1zM121 613h1v37h-1zM122 532h1v17h-1zM122 562h1v3h-1zM122 574h1v9h-1zM122 588h1v13h-1zM122 607h1v2h-1zM122 615h1v35h-1zM123 532h1v19h-1zM123 556h1v2h-1zM123 564h1v2h-1zM123 576h1v9h-1zM123 590h1v13h-1zM123 609h1v2h-1zM123 623h1v27h-1zM124 532h2v21h-2zM124 558h2v2h-2zM124 566h2v3h-2zM124 578h2v10h-2zM124 592h2v13h-2zM124 611h2v2h-2zM124 626h2v24h-2zM126 534h1v22h-1zM126 559h1v4h-1zM126 569h1v2h-1zM126 579h1v10h-1zM126 594h1v14h-1zM126 614h1v1h-1zM126 628h1v22h-1z"/><path fill="#463480" d="M69 536h1v8h-1zM69 560h1v15h-1zM69 596h1v9h-1zM69 618h1v8h-1zM69 629h1v5h-1zM69 648h1v2h-1zM70 537h1v9h-1zM70 563h1v14h-1zM70 597h1v6h-1zM70 605h1v3h-1zM70 617h1v10h-1zM70 631h1v5h-1zM71 539h2v10h-2zM71 565h2v14h-2zM71 600h2v5h-2zM71 608h2v1h-2zM71 618h2v11h-2zM71 634h2v5h-2zM73 542h1v4h-1zM73 547h1v4h-1zM73 568h1v13h-1zM73 602h1v5h-1zM73 621h1v10h-1zM73 635h1v6h-1zM74 544h1v3h-1zM74 551h1v1h-1zM74 571h1v12h-1zM74 604h1v5h-1zM74 622h1v12h-1zM74 637h1v5h-1zM75 532h1v2h-1zM75 545h1v4h-1zM75 575h1v10h-1zM75 605h1v5h-1zM75 624h1v12h-1zM75 640h1v4h-1zM76 532h2v4h-2zM76 547h2v3h-2zM76 577h2v10h-2zM76 608h2v5h-2zM76 626h2v13h-2zM76 642h2v5h-2zM78 532h1v6h-1zM78 550h1v2h-1zM78 579h1v10h-1zM78 610h1v4h-1zM78 628h1v13h-1zM78 644h1v5h-1zM79 533h1v7h-1zM79 552h1v1h-1zM79 582h1v9h-1zM79 614h1v1h-1zM79 630h1v13h-1zM79 646h1v4h-1zM80 536h1v6h-1zM80 555h1v1h-1zM80 585h1v9h-1zM80 631h1v15h-1zM80 648h1v2h-1zM81 532h1v1h-1zM81 537h1v6h-1zM81 546h1v1h-1zM81 588h1v7h-1zM81 634h1v14h-1zM82 532h2v4h-2zM82 539h2v6h-2zM82 547h2v3h-2zM82 590h2v7h-2zM82 636h2v14h-2zM84 532h1v6h-1zM84 542h1v5h-1zM84 550h1v2h-1zM84 592h1v8h-1zM84 639h1v11h-1zM85 534h1v6h-1zM85 543h1v7h-1zM85 552h1v3h-1zM85 595h1v7h-1zM85 641h1v9h-1zM86 536h1v6h-1zM86 545h1v6h-1zM86 553h1v4h-1zM86 596h1v8h-1zM86 643h1v7h-1zM87 538h1v6h-1zM87 547h1v6h-1zM87 556h1v3h-1zM87 598h1v7h-1zM87 646h1v4h-1zM88 540h2v6h-2zM88 549h2v7h-2zM88 557h2v5h-2zM88 601h2v7h-2zM88 648h2v2h-2zM90 543h1v6h-1zM90 551h1v13h-1zM90 603h1v7h-1zM91 545h1v6h-1zM91 553h1v13h-1zM91 605h1v8h-1zM92 532h1v2h-1zM92 547h1v5h-1zM92 555h1v14h-1zM92 608h1v7h-1zM92 644h1v2h-1zM93 532h1v4h-1zM93 550h1v5h-1zM93 557h1v13h-1zM93 609h1v8h-1zM93 647h1v1h-1zM94 532h2v6h-2zM94 552h2v5h-2zM94 559h2v13h-2zM94 582h2v3h-2zM94 611h2v9h-2zM94 649h2v1h-2zM96 534h1v6h-1zM96 555h1v4h-1zM96 560h1v15h-1zM96 583h1v8h-1zM96 614h1v8h-1zM96 644h1v3h-1zM97 537h1v6h-1zM97 557h1v5h-1zM97 563h1v13h-1zM97 585h1v9h-1zM97 615h1v9h-1zM97 647h1v2h-1zM98 539h1v5h-1zM98 559h1v5h-1zM98 565h1v13h-1zM98 587h1v9h-1zM98 617h1v10h-1zM98 648h1v2h-1zM99 542h1v4h-1zM99 562h1v4h-1zM99 568h1v13h-1zM99 589h1v11h-1zM99 618h1v11h-1zM100 544h2v5h-2zM100 563h2v19h-2zM100 591h2v10h-2zM100 621h2v9h-2zM102 546h1v4h-1zM102 565h1v5h-1zM102 571h1v13h-1zM102 592h1v11h-1zM102 622h1v11h-1zM103 542h1v2h-1zM103 549h1v3h-1zM103 568h1v4h-1zM103 575h1v12h-1zM103 595h1v10h-1zM103 624h1v11h-1zM104 544h1v2h-1zM104 551h1v4h-1zM104 570h1v5h-1zM104 577h1v11h-1zM104 597h1v11h-1zM104 627h1v9h-1zM105 545h1v4h-1zM105 553h1v3h-1zM105 572h1v5h-1zM105 579h1v11h-1zM105 600h1v10h-1zM105 629h1v10h-1zM106 540h2v2h-2zM106 547h2v4h-2zM106 574h2v4h-2zM106 582h2v9h-2zM106 601h2v4h-2zM106 608h2v3h-2zM106 631h2v10h-2zM108 532h1v1h-1zM108 543h1v1h-1zM108 550h1v2h-1zM108 576h1v5h-1zM108 584h1v7h-1zM108 603h1v4h-1zM108 610h1v4h-1zM108 634h1v9h-1zM109 532h1v4h-1zM109 544h1v2h-1zM109 551h1v4h-1zM109 577h1v6h-1zM109 587h1v5h-1zM109 605h1v4h-1zM109 636h1v10h-1zM110 532h1v6h-1zM110 546h1v3h-1zM110 553h1v4h-1zM110 579h1v6h-1zM110 589h1v6h-1zM110 608h1v2h-1zM110 639h1v8h-1zM111 532h1v8h-1zM111 547h1v4h-1zM111 556h1v3h-1zM111 582h1v5h-1zM111 591h1v5h-1zM111 610h1v1h-1zM111 641h1v8h-1zM112 532h2v11h-2zM112 550h2v3h-2zM112 558h2v2h-2zM112 584h2v5h-2zM112 592h2v6h-2zM112 643h2v7h-2zM114 534h1v11h-1zM114 552h1v4h-1zM114 559h1v4h-1zM114 585h1v6h-1zM114 595h1v5h-1zM114 644h1v6h-1zM115 537h1v10h-1zM115 553h1v5h-1zM115 562h1v2h-1zM115 588h1v6h-1zM115 597h1v5h-1zM115 647h1v3h-1zM116 538h1v12h-1zM116 556h1v4h-1zM116 564h1v2h-1zM116 590h1v6h-1zM116 600h1v4h-1zM116 649h1v1h-1zM117 540h1v12h-1zM117 557h1v6h-1zM117 592h1v5h-1zM117 601h1v6h-1zM117 639h1v1h-1zM118 543h2v12h-2zM118 559h2v6h-2zM118 595h2v5h-2zM118 603h2v5h-2zM118 641h2v1h-2zM120 545h1v12h-1zM120 562h1v7h-1zM120 581h1v1h-1zM120 597h1v5h-1zM120 605h1v5h-1zM121 547h1v12h-1zM121 563h1v8h-1zM121 582h1v3h-1zM121 600h1v4h-1zM121 607h1v6h-1zM122 549h1v13h-1zM122 565h1v9h-1zM122 583h1v5h-1zM122 601h1v6h-1zM122 609h1v6h-1zM123 551h1v5h-1zM123 558h1v6h-1zM123 566h1v10h-1zM123 585h1v5h-1zM123 603h1v6h-1zM123 611h1v12h-1zM124 553h2v5h-2zM124 560h2v6h-2zM124 569h2v9h-2zM124 588h2v4h-2zM124 605h2v6h-2zM124 613h2v13h-2zM126 532h1v2h-1zM126 556h1v3h-1zM126 563h1v6h-1zM126 571h1v8h-1zM126 589h1v5h-1zM126 608h1v6h-1zM126 615h1v13h-1z"/><path fill="#481c6e" d="M127 532h1v118h-1zM128 532h1v118h-1zM129 532h2v118h-2zM131 532h1v118h-1zM132 532h1v118h-1zM133 532h1v118h-1z"/><path fill="#460a5d" d="M134 532h1v118h-1zM135 532h2v118h-2zM137 532h1v118h-1zM138 532h1v118h-1zM139 532h1v118h-1zM140 532h1v118h-1zM141 532h2v118h-2zM143 532h1v118h-1zM144 532h1v118h-1zM145 532h1v118h-1zM146 532h1v118h-1zM147 532h2v118h-2z"/></g>
<rect x="156.20" y="532.10" width="6.00" height="118.80" fill="url(#vir)"/>
<line x1="162.20" y1="549.30" x2="163.50" y2="549.30" stroke="#333" stroke-width="0.4"/>
<text x="164.20" y="551.20" font-size="5.4" text-anchor="start" font-family="'Liberation Sans', sans-serif" font-weight="normal" font-style="normal" fill="#222" stroke="#222" stroke-width="0.12">0.04</text>
<line x1="162.20" y1="575.30" x2="163.50" y2="575.30" stroke="#333" stroke-width="0.4"/>
<text x="164.20" y="577.20" font-size="5.4" text-anchor="start" font-family="'Liberation Sans', sans-serif" font-weight="normal" font-style="normal" fill="#222" stroke="#222" stroke-width="0.12">0.03</text>
<line x1="162.20" y1="601.30" x2="163.50" y2="601.30" stroke="#333" stroke-width="0.4"/>
<text x="164.20" y="603.20" font-size="5.4" text-anchor="start" font-family="'Liberation Sans', sans-serif" font-weight="normal" font-style="normal" fill="#222" stroke="#222" stroke-width="0.12">0.02</text>
<line x1="162.20" y1="627.30" x2="163.50" y2="627.30" stroke="#333" stroke-width="0.4"/>
<text x="164.20" y="629.20" font-size="5.4" text-anchor="start" font-family="'Liberation Sans', sans-serif" font-weight="normal" font-style="normal" fill="#222" stroke="#222" stroke-width="0.12">0.01</text>
<text x="28.70" y="656.60" font-size="4.3" text-anchor="middle" font-family="'Liberation Sans', sans-serif" font-weight="normal" font-style="normal" fill="#000" stroke="#000" stroke-width="0.12">0</text>
<text x="40.75" y="656.60" font-size="4.3" text-anchor="middle" font-family="'Liberation Sans', sans-serif" font-weight="normal" font-style="normal" fill="#000" stroke="#000" stroke-width="0.12">10</text>
<text x="52.80" y="656.60" font-size="4.3" text-anchor="middle" font-family="'Liberation Sans', sans-serif" font-weight="normal" font-style="normal" fill="#000" stroke="#000" stroke-width="0.12">20</text>
<text x="64.85" y="656.60" font-size="4.3" text-anchor="middle" font-family="'Liberation Sans', sans-serif" font-weight="normal" font-style="normal" fill="#000" stroke="#000" stroke-width="0.12">30</text>
<text x="76.90" y="656.60" font-size="4.3" text-anchor="middle" font-family="'Liberation Sans', sans-serif" font-weight="normal" font-style="normal" fill="#000" stroke="#000" stroke-width="0.12">40</text>
<text x="88.95" y="656.60" font-size="4.3" text-anchor="middle" font-family="'Liberation Sans', sans-serif" font-weight="normal" font-style="normal" fill="#000" stroke="#000" stroke-width="0.12">50</text>
<text x="101.00" y="656.60" font-size="4.3" text-anchor="middle" font-family="'Liberation Sans', sans-serif" font-weight="normal" font-style="normal" fill="#000" stroke="#000" stroke-width="0.12">60</text>
<text x="113.05" y="656.60" font-size="4.3" text-anchor="middle" font-family="'Liberation Sans', sans-serif" font-weight="normal" font-style="normal" fill="#000" stroke="#000" stroke-width="0.12">70</text>
<text x="125.10" y="656.60" font-size="4.3" text-anchor="middle" font-family="'Liberation Sans', sans-serif" font-weight="normal" font-style="normal" fill="#000" stroke="#000" stroke-width="0.12">80</text>
<text x="137.15" y="656.60" font-size="4.3" text-anchor="middle" font-family="'Liberation Sans', sans-serif" font-weight="normal" font-style="normal" fill="#000" stroke="#000" stroke-width="0.12">90</text>
<text x="25.40" y="532.69" font-size="4.3" text-anchor="middle" font-family="'Liberation Sans', sans-serif" font-weight="normal" font-style="normal" fill="#000" stroke="#000" stroke-width="0.12" transform="rotate(-90 25.40 532.69)">0</text>
<text x="25.40" y="544.52" font-size="4.3" text-anchor="middle" font-family="'Liberation Sans', sans-serif" font-weight="normal" font-style="normal" fill="#000" stroke="#000" stroke-width="0.12" transform="rotate(-90 25.40 544.52)">10</text>
<text x="25.40" y="556.35" font-size="4.3" text-anchor="middle" font-family="'Liberation Sans', sans-serif" font-weight="normal" font-style="normal" fill="#000" stroke="#000" stroke-width="0.12" transform="rotate(-90 25.40 556.35)">20</text>
<text x="25.40" y="568.18" font-size="4.3" text-anchor="middle" font-family="'Liberation Sans', sans-serif" font-weight="normal" font-style="normal" fill="#000" stroke="#000" stroke-width="0.12" transform="rotate(-90 25.40 568.18)">30</text>
<text x="25.40" y="580.01" font-size="4.3" text-anchor="middle" font-family="'Liberation Sans', sans-serif" font-weight="normal" font-style="normal" fill="#000" stroke="#000" stroke-width="0.12" transform="rotate(-90 25.40 580.01)">40</text>
<text x="25.40" y="591.84" font-size="4.3" text-anchor="middle" font-family="'Liberation Sans', sans-serif" font-weight="normal" font-style="normal" fill="#000" stroke="#000" stroke-width="0.12" transform="rotate(-90 25.40 591.84)">50</text>
<text x="25.40" y="603.67" font-size="4.3" text-anchor="middle" font-family="'Liberation Sans', sans-serif" font-weight="normal" font-style="normal" fill="#000" stroke="#000" stroke-width="0.12" transform="rotate(-90 25.40 603.67)">60</text>
<text x="25.40" y="615.50" font-size="4.3" text-anchor="middle" font-family="'Liberation Sans', sans-serif" font-weight="normal" font-style="normal" fill="#000" stroke="#000" stroke-width="0.12" transform="rotate(-90 25.40 615.50)">70</text>
<text x="25.40" y="627.33" font-size="4.3" text-anchor="middle" font-family="'Liberation Sans', sans-serif" font-weight="normal" font-style="normal" fill="#000" stroke="#000" stroke-width="0.12" transform="rotate(-90 25.40 627.33)">80</text>
<text x="25.40" y="639.16" font-size="4.3" text-anchor="middle" font-family="'Liberation Sans', sans-serif" font-weight="normal" font-style="normal" fill="#000" stroke="#000" stroke-width="0.12" transform="rotate(-90 25.40 639.16)">90</text>
<text x="88.85" y="668.00" font-size="10.0" text-anchor="middle" font-family="'Liberation Serif', serif" fill="#222" textLength="108.5" lengthAdjust="spacingAndGlyphs"><tspan font-style="italic">D</tspan><tspan font-style="italic" font-size="6.80" dy="2.00">t</tspan><tspan dy="-2.00"> (First 100 dimensions)</tspan></text>
<text x="18.50" y="594.60" font-size="10.0" text-anchor="middle" font-family="'Liberation Serif', serif" fill="#222" textLength="110.5" lengthAdjust="spacingAndGlyphs" transform="rotate(-90 18.50 594.60)"><tspan font-style="italic">D</tspan><tspan font-style="italic" font-size="6.80" dy="2.00">t</tspan><tspan dy="-2.00"> (First 100 dimensions)</tspan></text>
<text x="8.00" y="528.00" font-size="16" text-anchor="start" font-family="'Liberation Serif', serif" font-weight="bold" font-style="normal" fill="#000">i</text>
<g><rect x="201.00" y="530.60" width="7.51" height="119.00" fill="#7ad151"/><rect x="208.21" y="530.60" width="2.70" height="119.00" fill="#cae11f"/><rect x="210.62" y="530.60" width="3.91" height="119.00" fill="#7ad151"/><rect x="214.22" y="530.60" width="8.71" height="119.00" fill="#1f9f88"/><rect x="222.64" y="530.60" width="1.50" height="119.00" fill="#6ece58"/><rect x="223.84" y="530.60" width="3.91" height="119.00" fill="#1f9a8a"/><rect x="227.44" y="530.60" width="9.92" height="119.00" fill="#2b748e"/><rect x="237.06" y="530.60" width="5.11" height="119.00" fill="#355f8d"/><rect x="241.87" y="530.60" width="44.77" height="119.00" fill="#443a83"/><rect x="286.34" y="530.60" width="1.50" height="119.00" fill="#3a548c"/><rect x="287.54" y="530.60" width="14.72" height="119.00" fill="#472e7c"/><rect x="301.97" y="530.60" width="1.50" height="119.00" fill="#414487"/><rect x="303.17" y="530.60" width="5.11" height="119.00" fill="#471365"/><rect x="307.98" y="530.60" width="13.52" height="119.00" fill="#46085c"/></g>
<rect x="329.00" y="531.00" width="6.00" height="119.00" fill="url(#vir)"/>
<line x1="335.00" y1="636.20" x2="336.30" y2="636.20" stroke="#333" stroke-width="0.4"/>
<text x="337.00" y="638.10" font-size="5.3" text-anchor="start" font-family="'Liberation Sans', sans-serif" font-weight="normal" font-style="normal" fill="#222" stroke="#222" stroke-width="0.12">0.005</text>
<line x1="335.00" y1="619.50" x2="336.30" y2="619.50" stroke="#333" stroke-width="0.4"/>
<text x="337.00" y="621.40" font-size="5.3" text-anchor="start" font-family="'Liberation Sans', sans-serif" font-weight="normal" font-style="normal" fill="#222" stroke="#222" stroke-width="0.12">0.010</text>
<line x1="335.00" y1="602.70" x2="336.30" y2="602.70" stroke="#333" stroke-width="0.4"/>
<text x="337.00" y="604.60" font-size="5.3" text-anchor="start" font-family="'Liberation Sans', sans-serif" font-weight="normal" font-style="normal" fill="#222" stroke="#222" stroke-width="0.12">0.015</text>
<line x1="335.00" y1="586.20" x2="336.30" y2="586.20" stroke="#333" stroke-width="0.4"/>
<text x="337.00" y="588.10" font-size="5.3" text-anchor="start" font-family="'Liberation Sans', sans-serif" font-weight="normal" font-style="normal" fill="#222" stroke="#222" stroke-width="0.12">0.020</text>
<line x1="335.00" y1="569.50" x2="336.30" y2="569.50" stroke="#333" stroke-width="0.4"/>
<text x="337.00" y="571.40" font-size="5.3" text-anchor="start" font-family="'Liberation Sans', sans-serif" font-weight="normal" font-style="normal" fill="#222" stroke="#222" stroke-width="0.12">0.025</text>
<line x1="335.00" y1="553.00" x2="336.30" y2="553.00" stroke="#333" stroke-width="0.4"/>
<text x="337.00" y="554.90" font-size="5.3" text-anchor="start" font-family="'Liberation Sans', sans-serif" font-weight="normal" font-style="normal" fill="#222" stroke="#222" stroke-width="0.12">0.030</text>
<line x1="335.00" y1="536.20" x2="336.30" y2="536.20" stroke="#333" stroke-width="0.4"/>
<text x="337.00" y="538.10" font-size="5.3" text-anchor="start" font-family="'Liberation Sans', sans-serif" font-weight="normal" font-style="normal" fill="#222" stroke="#222" stroke-width="0.12">0.035</text>
<text x="201.60" y="655.60" font-size="4.3" text-anchor="middle" font-family="'Liberation Sans', sans-serif" font-weight="normal" font-style="normal" fill="#000" stroke="#000" stroke-width="0.12">0</text>
<text x="213.62" y="655.60" font-size="4.3" text-anchor="middle" font-family="'Liberation Sans', sans-serif" font-weight="normal" font-style="normal" fill="#000" stroke="#000" stroke-width="0.12">10</text>
<text x="225.64" y="655.60" font-size="4.3" text-anchor="middle" font-family="'Liberation Sans', sans-serif" font-weight="normal" font-style="normal" fill="#000" stroke="#000" stroke-width="0.12">20</text>
<text x="237.66" y="655.60" font-size="4.3" text-anchor="middle" font-family="'Liberation Sans', sans-serif" font-weight="normal" font-style="normal" fill="#000" stroke="#000" stroke-width="0.12">30</text>
<text x="249.68" y="655.60" font-size="4.3" text-anchor="middle" font-family="'Liberation Sans', sans-serif" font-weight="normal" font-style="normal" fill="#000" stroke="#000" stroke-width="0.12">40</text>
<text x="261.70" y="655.60" font-size="4.3" text-anchor="middle" font-family="'Liberation Sans', sans-serif" font-weight="normal" font-style="normal" fill="#000" stroke="#000" stroke-width="0.12">50</text>
<text x="273.72" y="655.60" font-size="4.3" text-anchor="middle" font-family="'Liberation Sans', sans-serif" font-weight="normal" font-style="normal" fill="#000" stroke="#000" stroke-width="0.12">60</text>
<text x="285.74" y="655.60" font-size="4.3" text-anchor="middle" font-family="'Liberation Sans', sans-serif" font-weight="normal" font-style="normal" fill="#000" stroke="#000" stroke-width="0.12">70</text>
<text x="297.76" y="655.60" font-size="4.3" text-anchor="middle" font-family="'Liberation Sans', sans-serif" font-weight="normal" font-style="normal" fill="#000" stroke="#000" stroke-width="0.12">80</text>
<text x="309.78" y="655.60" font-size="4.3" text-anchor="middle" font-family="'Liberation Sans', sans-serif" font-weight="normal" font-style="normal" fill="#000" stroke="#000" stroke-width="0.12">90</text>
<text x="198.30" y="531.79" font-size="4.3" text-anchor="middle" font-family="'Liberation Sans', sans-serif" font-weight="normal" font-style="normal" fill="#000" stroke="#000" stroke-width="0.12" transform="rotate(-90 198.30 531.79)">0</text>
<text x="198.30" y="555.59" font-size="4.3" text-anchor="middle" font-family="'Liberation Sans', sans-serif" font-weight="normal" font-style="normal" fill="#000" stroke="#000" stroke-width="0.12" transform="rotate(-90 198.30 555.59)">10</text>
<text x="198.30" y="579.39" font-size="4.3" text-anchor="middle" font-family="'Liberation Sans', sans-serif" font-weight="normal" font-style="normal" fill="#000" stroke="#000" stroke-width="0.12" transform="rotate(-90 198.30 579.39)">20</text>
<text x="198.30" y="603.19" font-size="4.3" text-anchor="middle" font-family="'Liberation Sans', sans-serif" font-weight="normal" font-style="normal" fill="#000" stroke="#000" stroke-width="0.12" transform="rotate(-90 198.30 603.19)">30</text>
<text x="198.30" y="626.99" font-size="4.3" text-anchor="middle" font-family="'Liberation Sans', sans-serif" font-weight="normal" font-style="normal" fill="#000" stroke="#000" stroke-width="0.12" transform="rotate(-90 198.30 626.99)">40</text>
<text x="260.30" y="667.30" font-size="10.0" text-anchor="middle" font-family="'Liberation Serif', serif" fill="#222" textLength="108.5" lengthAdjust="spacingAndGlyphs"><tspan font-style="italic">D</tspan><tspan font-style="italic" font-size="6.80" dy="2.00">t</tspan><tspan dy="-2.00"> (First 100 dimensions)</tspan></text>
<text x="191.5" y="590" font-size="10" font-family="'Liberation Serif', serif" fill="#222" transform="rotate(-90 191.5 590)" text-anchor="middle"><tspan font-style="italic">D</tspan><tspan font-style="italic" font-size="6.8" dy="2.2">c</tspan></text>
<text x="181.50" y="528.50" font-size="16" text-anchor="start" font-family="'Liberation Serif', serif" font-weight="bold" font-style="normal" fill="#000">j</text>
<g shape-rendering="crispEdges"><path fill="#fde725" d="M374 533h6v5h-6z"/><path fill="#90d743" d="M374 538h6v6h-6z"/><path fill="#42be71" d="M374 544h6v6h-6z"/><path fill="#23a983" d="M374 550h6v5h-6z"/><path fill="#1fa088" d="M374 555h6v6h-6z"/><path fill="#1e9d89" d="M374 561h6v5h-6z"/><path fill="#1f9a8a" d="M374 566h6v6h-6z"/><path fill="#1f988b" d="M374 572h6v6h-6z"/><path fill="#1f958b" d="M374 578h6v5h-6z"/><path fill="#20928c" d="M374 583h6v6h-6z"/><path fill="#21918c" d="M374 589h6v11h-6z"/><path fill="#218e8d" d="M374 600h6v12h-6z"/><path fill="#228b8d" d="M374 612h6v11h-6z"/><path fill="#23898e" d="M374 623h6v11h-6z"/><path fill="#24868e" d="M374 634h6v11h-6z"/><path fill="#25838e" d="M374 645h6v6h-6z"/><path fill="#2a778e" d="M380 533h6v5h-6z"/><path fill="#2f6b8e" d="M380 538h6v6h-6zM386 538h5v6h-5z"/><path fill="#38588c" d="M380 544h6v6h-6z"/><path fill="#414287" d="M380 550h6v5h-6zM397 550h6v5h-6zM403 566h6v6h-6zM409 572h5v6h-5zM460 617h6v6h-6zM466 623h6v5h-6zM472 628h5v6h-5zM477 634h6v6h-6zM483 640h6v5h-6zM489 645h6v6h-6z"/><path fill="#443983" d="M380 555h6v6h-6zM403 572h6v6h-6zM409 578h5v5h-5zM414 583h6v6h-6zM420 589h6v6h-6z"/><path fill="#472f7d" d="M380 561h6v5h-6zM386 566h5v6h-5zM391 572h6v6h-6zM397 578h6v5h-6zM426 600h6v6h-6zM432 606h5v6h-5zM437 612h6v5h-6zM443 617h6v6h-6zM449 623h6v5h-6zM455 628h5v6h-5zM460 634h6v6h-6zM466 640h6v5h-6zM472 645h5v6h-5z"/><path fill="#472d7b" d="M380 566h6v6h-6zM403 583h6v6h-6zM409 589h5v6h-5zM414 595h6v5h-6zM420 600h6v6h-6zM426 606h6v6h-6zM432 612h5v5h-5zM437 617h6v6h-6zM443 623h6v5h-6zM449 628h6v6h-6zM455 634h5v6h-5zM460 640h6v5h-6zM466 645h6v6h-6z"/><path fill="#482576" d="M380 572h6v6h-6zM386 578h5v5h-5zM391 583h6v6h-6zM397 589h6v6h-6zM403 595h6v5h-6zM409 600h5v6h-5zM414 606h6v6h-6zM420 612h6v5h-6zM426 617h6v6h-6zM432 623h5v5h-5zM437 628h6v6h-6zM443 634h6v6h-6zM449 640h6v5h-6zM455 645h5v6h-5z"/><path fill="#482374" d="M380 578h6v5h-6zM386 583h5v6h-5zM391 589h6v6h-6zM397 595h6v5h-6zM403 600h6v6h-6zM409 606h5v6h-5zM414 612h6v5h-6zM420 617h6v6h-6zM426 623h6v5h-6zM432 628h5v6h-5zM437 634h6v6h-6zM443 640h6v5h-6zM449 645h6v6h-6z"/><path fill="#481f70" d="M380 583h6v12h-6zM386 589h5v11h-5zM391 595h6v11h-6zM397 600h6v12h-6zM403 606h6v11h-6zM409 612h5v11h-5zM414 617h6v11h-6zM420 623h6v11h-6zM426 628h6v12h-6zM432 634h5v11h-5zM437 640h6v11h-6zM443 645h6v6h-6z"/><path fill="#481b6d" d="M380 595h6v11h-6zM386 600h5v12h-5zM391 606h6v11h-6zM397 612h6v11h-6zM403 617h6v11h-6zM409 623h5v11h-5zM414 628h6v12h-6zM420 634h6v11h-6zM426 640h6v11h-6zM432 645h5v6h-5z"/><path fill="#48186a" d="M380 606h6v28h-6zM386 612h5v28h-5zM391 617h6v28h-6zM397 623h6v28h-6zM403 555h6v6h-6zM403 628h6v23h-6zM409 561h5v5h-5zM409 634h5v17h-5zM414 566h6v6h-6zM414 640h6v11h-6zM420 572h6v6h-6zM420 645h6v6h-6zM426 578h6v5h-6zM432 583h5v6h-5zM437 589h6v6h-6zM443 595h6v5h-6zM449 600h6v6h-6zM455 606h5v6h-5zM460 612h6v5h-6zM466 617h6v6h-6zM472 623h5v5h-5zM477 628h6v6h-6zM483 634h6v6h-6zM489 640h6v5h-6z"/><path fill="#481467" d="M380 634h6v17h-6zM386 640h5v11h-5zM391 645h6v6h-6z"/><path fill="#440154" d="M386 533h5v5h-5zM391 533h6v11h-6zM397 533h6v17h-6zM403 533h6v22h-6zM409 533h5v28h-5zM414 533h6v33h-6zM420 533h6v39h-6zM426 533h6v45h-6zM432 533h5v50h-5zM437 533h6v56h-6zM443 533h6v62h-6zM449 533h6v67h-6zM455 533h5v73h-5zM460 533h6v79h-6zM466 533h6v84h-6zM472 533h5v90h-5zM477 533h6v95h-6zM483 533h6v101h-6zM489 533h6v107h-6z"/><path fill="#2c728e" d="M386 544h5v6h-5z"/><path fill="#3e4c8a" d="M386 550h5v5h-5zM409 566h5v6h-5z"/><path fill="#424086" d="M386 555h5v6h-5zM414 578h6v5h-6zM420 583h6v6h-6zM426 589h6v6h-6z"/><path fill="#453781" d="M386 561h5v5h-5zM391 566h6v6h-6zM426 595h6v5h-6zM432 600h5v6h-5zM437 606h6v6h-6zM443 612h6v5h-6zM449 617h6v6h-6zM455 623h5v5h-5zM460 628h6v6h-6zM466 634h6v6h-6zM472 640h5v5h-5zM477 645h6v6h-6z"/><path fill="#482979" d="M386 572h5v6h-5zM391 578h6v5h-6zM397 583h6v6h-6zM403 589h6v6h-6zM409 595h5v5h-5zM414 600h6v6h-6zM420 606h6v6h-6zM426 612h6v5h-6zM432 617h5v6h-5zM437 623h6v5h-6zM443 628h6v6h-6zM449 634h6v6h-6zM455 640h5v5h-5zM460 645h6v6h-6z"/><path fill="#3c4f8a" d="M391 544h6v6h-6zM403 561h6v5h-6z"/><path fill="#34608d" d="M391 550h6v5h-6z"/><path fill="#3e4989" d="M391 555h6v6h-6zM414 572h6v6h-6zM420 578h6v5h-6z"/><path fill="#433d84" d="M391 561h6v5h-6zM397 566h6v6h-6zM432 595h5v5h-5zM437 600h6v6h-6zM443 606h6v6h-6zM449 612h6v5h-6zM455 617h5v6h-5zM460 623h6v5h-6zM466 628h6v6h-6zM472 634h5v6h-5zM477 640h6v5h-6zM483 645h6v6h-6z"/><path fill="#3b528b" d="M397 555h6v6h-6z"/><path fill="#404688" d="M397 561h6v5h-6zM426 583h6v6h-6zM432 589h5v6h-5zM437 595h6v5h-6zM443 600h6v6h-6zM449 606h6v6h-6zM455 612h5v5h-5z"/><path fill="#46337f" d="M397 572h6v6h-6zM403 578h6v5h-6zM409 583h5v6h-5zM414 589h6v6h-6zM420 595h6v5h-6z"/></g>
<rect x="375.40" y="531.20" width="119.40" height="120.05" fill="none" stroke="#fdb913" stroke-width="2.8"/>
<rect x="502.10" y="532.00" width="5.30" height="118.80" fill="url(#vir)"/>
<line x1="507.40" y1="650.80" x2="508.70" y2="650.80" stroke="#333" stroke-width="0.4"/>
<text x="509.30" y="652.70" font-size="5.3" text-anchor="start" font-family="'Liberation Sans', sans-serif" font-weight="normal" font-style="normal" fill="#222" stroke="#222" stroke-width="0.12">0.0</text>
<line x1="507.40" y1="633.83" x2="508.70" y2="633.83" stroke="#333" stroke-width="0.4"/>
<text x="509.30" y="635.73" font-size="5.3" text-anchor="start" font-family="'Liberation Sans', sans-serif" font-weight="normal" font-style="normal" fill="#222" stroke="#222" stroke-width="0.12">0.1</text>
<line x1="507.40" y1="616.86" x2="508.70" y2="616.86" stroke="#333" stroke-width="0.4"/>
<text x="509.30" y="618.76" font-size="5.3" text-anchor="start" font-family="'Liberation Sans', sans-serif" font-weight="normal" font-style="normal" fill="#222" stroke="#222" stroke-width="0.12">0.2</text>
<line x1="507.40" y1="599.89" x2="508.70" y2="599.89" stroke="#333" stroke-width="0.4"/>
<text x="509.30" y="601.79" font-size="5.3" text-anchor="start" font-family="'Liberation Sans', sans-serif" font-weight="normal" font-style="normal" fill="#222" stroke="#222" stroke-width="0.12">0.3</text>
<line x1="507.40" y1="582.91" x2="508.70" y2="582.91" stroke="#333" stroke-width="0.4"/>
<text x="509.30" y="584.81" font-size="5.3" text-anchor="start" font-family="'Liberation Sans', sans-serif" font-weight="normal" font-style="normal" fill="#222" stroke="#222" stroke-width="0.12">0.4</text>
<line x1="507.40" y1="565.94" x2="508.70" y2="565.94" stroke="#333" stroke-width="0.4"/>
<text x="509.30" y="567.84" font-size="5.3" text-anchor="start" font-family="'Liberation Sans', sans-serif" font-weight="normal" font-style="normal" fill="#222" stroke="#222" stroke-width="0.12">0.5</text>
<line x1="507.40" y1="548.97" x2="508.70" y2="548.97" stroke="#333" stroke-width="0.4"/>
<text x="509.30" y="550.87" font-size="5.3" text-anchor="start" font-family="'Liberation Sans', sans-serif" font-weight="normal" font-style="normal" fill="#222" stroke="#222" stroke-width="0.12">0.6</text>
<line x1="507.40" y1="532.00" x2="508.70" y2="532.00" stroke="#333" stroke-width="0.4"/>
<text x="509.30" y="533.90" font-size="5.3" text-anchor="start" font-family="'Liberation Sans', sans-serif" font-weight="normal" font-style="normal" fill="#222" stroke="#222" stroke-width="0.12">0.7</text>
<text x="374.30" y="656.00" font-size="3.6" text-anchor="middle" font-family="'Liberation Sans', sans-serif" font-weight="normal" font-style="normal" fill="#000" stroke="#000" stroke-width="0.12">0</text>
<text x="379.99" y="656.00" font-size="3.6" text-anchor="middle" font-family="'Liberation Sans', sans-serif" font-weight="normal" font-style="normal" fill="#000" stroke="#000" stroke-width="0.12">1</text>
<text x="385.68" y="656.00" font-size="3.6" text-anchor="middle" font-family="'Liberation Sans', sans-serif" font-weight="normal" font-style="normal" fill="#000" stroke="#000" stroke-width="0.12">2</text>
<text x="391.37" y="656.00" font-size="3.6" text-anchor="middle" font-family="'Liberation Sans', sans-serif" font-weight="normal" font-style="normal" fill="#000" stroke="#000" stroke-width="0.12">3</text>
<text x="397.06" y="656.00" font-size="3.6" text-anchor="middle" font-family="'Liberation Sans', sans-serif" font-weight="normal" font-style="normal" fill="#000" stroke="#000" stroke-width="0.12">4</text>
<text x="402.75" y="656.00" font-size="3.6" text-anchor="middle" font-family="'Liberation Sans', sans-serif" font-weight="normal" font-style="normal" fill="#000" stroke="#000" stroke-width="0.12">5</text>
<text x="408.44" y="656.00" font-size="3.6" text-anchor="middle" font-family="'Liberation Sans', sans-serif" font-weight="normal" font-style="normal" fill="#000" stroke="#000" stroke-width="0.12">6</text>
<text x="414.13" y="656.00" font-size="3.6" text-anchor="middle" font-family="'Liberation Sans', sans-serif" font-weight="normal" font-style="normal" fill="#000" stroke="#000" stroke-width="0.12">7</text>
<text x="419.82" y="656.00" font-size="3.6" text-anchor="middle" font-family="'Liberation Sans', sans-serif" font-weight="normal" font-style="normal" fill="#000" stroke="#000" stroke-width="0.12">8</text>
<text x="425.51" y="656.00" font-size="3.6" text-anchor="middle" font-family="'Liberation Sans', sans-serif" font-weight="normal" font-style="normal" fill="#000" stroke="#000" stroke-width="0.12">9</text>
<text x="431.20" y="656.00" font-size="3.6" text-anchor="middle" font-family="'Liberation Sans', sans-serif" font-weight="normal" font-style="normal" fill="#000" stroke="#000" stroke-width="0.12">10</text>
<text x="436.89" y="656.00" font-size="3.6" text-anchor="middle" font-family="'Liberation Sans', sans-serif" font-weight="normal" font-style="normal" fill="#000" stroke="#000" stroke-width="0.12">11</text>
<text x="442.58" y="656.00" font-size="3.6" text-anchor="middle" font-family="'Liberation Sans', sans-serif" font-weight="normal" font-style="normal" fill="#000" stroke="#000" stroke-width="0.12">12</text>
<text x="448.27" y="656.00" font-size="3.6" text-anchor="middle" font-family="'Liberation Sans', sans-serif" font-weight="normal" font-style="normal" fill="#000" stroke="#000" stroke-width="0.12">13</text>
<text x="453.96" y="656.00" font-size="3.6" text-anchor="middle" font-family="'Liberation Sans', sans-serif" font-weight="normal" font-style="normal" fill="#000" stroke="#000" stroke-width="0.12">14</text>
<text x="459.65" y="656.00" font-size="3.6" text-anchor="middle" font-family="'Liberation Sans', sans-serif" font-weight="normal" font-style="normal" fill="#000" stroke="#000" stroke-width="0.12">15</text>
<text x="465.34" y="656.00" font-size="3.6" text-anchor="middle" font-family="'Liberation Sans', sans-serif" font-weight="normal" font-style="normal" fill="#000" stroke="#000" stroke-width="0.12">16</text>
<text x="471.03" y="656.00" font-size="3.6" text-anchor="middle" font-family="'Liberation Sans', sans-serif" font-weight="normal" font-style="normal" fill="#000" stroke="#000" stroke-width="0.12">17</text>
<text x="476.72" y="656.00" font-size="3.6" text-anchor="middle" font-family="'Liberation Sans', sans-serif" font-weight="normal" font-style="normal" fill="#000" stroke="#000" stroke-width="0.12">18</text>
<text x="482.41" y="656.00" font-size="3.6" text-anchor="middle" font-family="'Liberation Sans', sans-serif" font-weight="normal" font-style="normal" fill="#000" stroke="#000" stroke-width="0.12">19</text>
<text x="488.10" y="656.00" font-size="3.6" text-anchor="middle" font-family="'Liberation Sans', sans-serif" font-weight="normal" font-style="normal" fill="#000" stroke="#000" stroke-width="0.12">20</text>
<text x="370.50" y="533.50" font-size="3.4" text-anchor="middle" font-family="'Liberation Sans', sans-serif" font-weight="normal" font-style="normal" fill="#000" stroke="#000" stroke-width="0.12" transform="rotate(-90 370.50 533.50)">0</text>
<text x="370.50" y="539.10" font-size="3.4" text-anchor="middle" font-family="'Liberation Sans', sans-serif" font-weight="normal" font-style="normal" fill="#000" stroke="#000" stroke-width="0.12" transform="rotate(-90 370.50 539.10)">1</text>
<text x="370.50" y="544.70" font-size="3.4" text-anchor="middle" font-family="'Liberation Sans', sans-serif" font-weight="normal" font-style="normal" fill="#000" stroke="#000" stroke-width="0.12" transform="rotate(-90 370.50 544.70)">2</text>
<text x="370.50" y="550.30" font-size="3.4" text-anchor="middle" font-family="'Liberation Sans', sans-serif" font-weight="normal" font-style="normal" fill="#000" stroke="#000" stroke-width="0.12" transform="rotate(-90 370.50 550.30)">3</text>
<text x="370.50" y="555.90" font-size="3.4" text-anchor="middle" font-family="'Liberation Sans', sans-serif" font-weight="normal" font-style="normal" fill="#000" stroke="#000" stroke-width="0.12" transform="rotate(-90 370.50 555.90)">4</text>
<text x="370.50" y="561.50" font-size="3.4" text-anchor="middle" font-family="'Liberation Sans', sans-serif" font-weight="normal" font-style="normal" fill="#000" stroke="#000" stroke-width="0.12" transform="rotate(-90 370.50 561.50)">5</text>
<text x="370.50" y="567.10" font-size="3.4" text-anchor="middle" font-family="'Liberation Sans', sans-serif" font-weight="normal" font-style="normal" fill="#000" stroke="#000" stroke-width="0.12" transform="rotate(-90 370.50 567.10)">6</text>
<text x="370.50" y="572.70" font-size="3.4" text-anchor="middle" font-family="'Liberation Sans', sans-serif" font-weight="normal" font-style="normal" fill="#000" stroke="#000" stroke-width="0.12" transform="rotate(-90 370.50 572.70)">7</text>
<text x="370.50" y="578.30" font-size="3.4" text-anchor="middle" font-family="'Liberation Sans', sans-serif" font-weight="normal" font-style="normal" fill="#000" stroke="#000" stroke-width="0.12" transform="rotate(-90 370.50 578.30)">8</text>
<text x="370.50" y="583.90" font-size="3.4" text-anchor="middle" font-family="'Liberation Sans', sans-serif" font-weight="normal" font-style="normal" fill="#000" stroke="#000" stroke-width="0.12" transform="rotate(-90 370.50 583.90)">9</text>
<text x="370.50" y="589.50" font-size="3.4" text-anchor="middle" font-family="'Liberation Sans', sans-serif" font-weight="normal" font-style="normal" fill="#000" stroke="#000" stroke-width="0.12" transform="rotate(-90 370.50 589.50)">10</text>
<text x="370.50" y="595.10" font-size="3.4" text-anchor="middle" font-family="'Liberation Sans', sans-serif" font-weight="normal" font-style="normal" fill="#000" stroke="#000" stroke-width="0.12" transform="rotate(-90 370.50 595.10)">11</text>
<text x="370.50" y="600.70" font-size="3.4" text-anchor="middle" font-family="'Liberation Sans', sans-serif" font-weight="normal" font-style="normal" fill="#000" stroke="#000" stroke-width="0.12" transform="rotate(-90 370.50 600.70)">12</text>
<text x="370.50" y="606.30" font-size="3.4" text-anchor="middle" font-family="'Liberation Sans', sans-serif" font-weight="normal" font-style="normal" fill="#000" stroke="#000" stroke-width="0.12" transform="rotate(-90 370.50 606.30)">13</text>
<text x="370.50" y="611.90" font-size="3.4" text-anchor="middle" font-family="'Liberation Sans', sans-serif" font-weight="normal" font-style="normal" fill="#000" stroke="#000" stroke-width="0.12" transform="rotate(-90 370.50 611.90)">14</text>
<text x="370.50" y="617.50" font-size="3.4" text-anchor="middle" font-family="'Liberation Sans', sans-serif" font-weight="normal" font-style="normal" fill="#000" stroke="#000" stroke-width="0.12" transform="rotate(-90 370.50 617.50)">15</text>
<text x="370.50" y="623.10" font-size="3.4" text-anchor="middle" font-family="'Liberation Sans', sans-serif" font-weight="normal" font-style="normal" fill="#000" stroke="#000" stroke-width="0.12" transform="rotate(-90 370.50 623.10)">16</text>
<text x="370.50" y="628.70" font-size="3.4" text-anchor="middle" font-family="'Liberation Sans', sans-serif" font-weight="normal" font-style="normal" fill="#000" stroke="#000" stroke-width="0.12" transform="rotate(-90 370.50 628.70)">17</text>
<text x="370.50" y="634.30" font-size="3.4" text-anchor="middle" font-family="'Liberation Sans', sans-serif" font-weight="normal" font-style="normal" fill="#000" stroke="#000" stroke-width="0.12" transform="rotate(-90 370.50 634.30)">18</text>
<text x="370.50" y="639.90" font-size="3.4" text-anchor="middle" font-family="'Liberation Sans', sans-serif" font-weight="normal" font-style="normal" fill="#000" stroke="#000" stroke-width="0.12" transform="rotate(-90 370.50 639.90)">19</text>
<text x="370.50" y="645.50" font-size="3.4" text-anchor="middle" font-family="'Liberation Sans', sans-serif" font-weight="normal" font-style="normal" fill="#000" stroke="#000" stroke-width="0.12" transform="rotate(-90 370.50 645.50)">20</text>
<text x="436.00" y="668.20" font-size="10.0" text-anchor="middle" font-family="'Liberation Serif', serif" fill="#222" textLength="122.0" lengthAdjust="spacingAndGlyphs"><tspan font-style="italic">D</tspan><tspan font-style="italic" font-size="6.80" dy="2.00">c</tspan><tspan dy="-2.00"> + </tspan><tspan font-style="italic">D</tspan><tspan font-style="italic" font-size="6.80" dy="2.00">s</tspan><tspan dy="-2.00"> (First 20 dimensions)</tspan></text>
<text x="366.30" y="591.20" font-size="10.0" text-anchor="middle" font-family="'Liberation Serif', serif" fill="#222" textLength="105.0" lengthAdjust="spacingAndGlyphs" transform="rotate(-90 366.30 591.20)"><tspan font-style="italic">D</tspan><tspan font-style="italic" font-size="6.80" dy="2.00">s</tspan><tspan dy="-2.00"> (First 20 dimensions)</tspan></text>
<text x="357.80" y="529.30" font-size="16" text-anchor="start" font-family="'Liberation Serif', serif" font-weight="bold" font-style="normal" fill="#000">k</text>
<g shape-rendering="crispEdges">
<rect x="543.10" y="533.00" width="116.40" height="116.30" fill="#440154"/>
<rect x="543.10" y="533.00" width="38.80" height="116.30" fill="#471063"/>
</g>
<polygon points="581.90,533.00 659.50,649.30 581.90,649.30" fill="url(#ltri)"/>
<line x1="581.90" y1="533.00" x2="659.50" y2="649.30" stroke="url(#ldiag)" stroke-width="0.9"/>
<polygon points="582.45,533.00 659.50,533.00 659.50,648.50" fill="#440154"/>
<rect x="543.30" y="534.00" width="38.10" height="115.70" fill="none" stroke="#ff0000" stroke-width="1.3"/>
<rect x="543.60" y="533.80" width="52.50" height="23.00" fill="none" stroke="#fdb913" stroke-width="1.6"/>
<rect x="667.10" y="533.40" width="5.30" height="115.60" fill="url(#vir)"/>
<line x1="672.40" y1="649.00" x2="673.70" y2="649.00" stroke="#333" stroke-width="0.4"/>
<text x="674.50" y="650.90" font-size="5.3" text-anchor="start" font-family="'Liberation Sans', sans-serif" font-weight="normal" font-style="normal" fill="#222" stroke="#222" stroke-width="0.12">0.00</text>
<line x1="672.40" y1="629.44" x2="673.70" y2="629.44" stroke="#333" stroke-width="0.4"/>
<text x="674.50" y="631.34" font-size="5.3" text-anchor="start" font-family="'Liberation Sans', sans-serif" font-weight="normal" font-style="normal" fill="#222" stroke="#222" stroke-width="0.12">0.05</text>
<line x1="672.40" y1="609.88" x2="673.70" y2="609.88" stroke="#333" stroke-width="0.4"/>
<text x="674.50" y="611.78" font-size="5.3" text-anchor="start" font-family="'Liberation Sans', sans-serif" font-weight="normal" font-style="normal" fill="#222" stroke="#222" stroke-width="0.12">0.10</text>
<line x1="672.40" y1="590.32" x2="673.70" y2="590.32" stroke="#333" stroke-width="0.4"/>
<text x="674.50" y="592.22" font-size="5.3" text-anchor="start" font-family="'Liberation Sans', sans-serif" font-weight="normal" font-style="normal" fill="#222" stroke="#222" stroke-width="0.12">0.15</text>
<line x1="672.40" y1="570.76" x2="673.70" y2="570.76" stroke="#333" stroke-width="0.4"/>
<text x="674.50" y="572.66" font-size="5.3" text-anchor="start" font-family="'Liberation Sans', sans-serif" font-weight="normal" font-style="normal" fill="#222" stroke="#222" stroke-width="0.12">0.20</text>
<line x1="672.40" y1="551.20" x2="673.70" y2="551.20" stroke="#333" stroke-width="0.4"/>
<text x="674.50" y="553.10" font-size="5.3" text-anchor="start" font-family="'Liberation Sans', sans-serif" font-weight="normal" font-style="normal" fill="#222" stroke="#222" stroke-width="0.12">0.25</text>
<text x="544.96" y="652.30" font-size="4.2" text-anchor="end" font-family="'Liberation Sans', sans-serif" font-weight="normal" font-style="normal" fill="#000" stroke="#000" stroke-width="0.12" transform="rotate(-90 544.96 652.30)">0</text>
<text x="552.72" y="652.30" font-size="4.2" text-anchor="end" font-family="'Liberation Sans', sans-serif" font-weight="normal" font-style="normal" fill="#000" stroke="#000" stroke-width="0.12" transform="rotate(-90 552.72 652.30)">10</text>
<text x="560.48" y="652.30" font-size="4.2" text-anchor="end" font-family="'Liberation Sans', sans-serif" font-weight="normal" font-style="normal" fill="#000" stroke="#000" stroke-width="0.12" transform="rotate(-90 560.48 652.30)">20</text>
<text x="568.24" y="652.30" font-size="4.2" text-anchor="end" font-family="'Liberation Sans', sans-serif" font-weight="normal" font-style="normal" fill="#000" stroke="#000" stroke-width="0.12" transform="rotate(-90 568.24 652.30)">30</text>
<text x="576.00" y="652.30" font-size="4.2" text-anchor="end" font-family="'Liberation Sans', sans-serif" font-weight="normal" font-style="normal" fill="#000" stroke="#000" stroke-width="0.12" transform="rotate(-90 576.00 652.30)">40</text>
<text x="583.76" y="652.30" font-size="4.2" text-anchor="end" font-family="'Liberation Sans', sans-serif" font-weight="normal" font-style="normal" fill="#000" stroke="#000" stroke-width="0.12" transform="rotate(-90 583.76 652.30)">50</text>
<text x="591.52" y="652.30" font-size="4.2" text-anchor="end" font-family="'Liberation Sans', sans-serif" font-weight="normal" font-style="normal" fill="#000" stroke="#000" stroke-width="0.12" transform="rotate(-90 591.52 652.30)">60</text>
<text x="599.28" y="652.30" font-size="4.2" text-anchor="end" font-family="'Liberation Sans', sans-serif" font-weight="normal" font-style="normal" fill="#000" stroke="#000" stroke-width="0.12" transform="rotate(-90 599.28 652.30)">70</text>
<text x="607.04" y="652.30" font-size="4.2" text-anchor="end" font-family="'Liberation Sans', sans-serif" font-weight="normal" font-style="normal" fill="#000" stroke="#000" stroke-width="0.12" transform="rotate(-90 607.04 652.30)">80</text>
<text x="614.80" y="652.30" font-size="4.2" text-anchor="end" font-family="'Liberation Sans', sans-serif" font-weight="normal" font-style="normal" fill="#000" stroke="#000" stroke-width="0.12" transform="rotate(-90 614.80 652.30)">90</text>
<text x="622.56" y="652.30" font-size="4.2" text-anchor="end" font-family="'Liberation Sans', sans-serif" font-weight="normal" font-style="normal" fill="#000" stroke="#000" stroke-width="0.12" transform="rotate(-90 622.56 652.30)">100</text>
<text x="630.32" y="652.30" font-size="4.2" text-anchor="end" font-family="'Liberation Sans', sans-serif" font-weight="normal" font-style="normal" fill="#000" stroke="#000" stroke-width="0.12" transform="rotate(-90 630.32 652.30)">110</text>
<text x="638.08" y="652.30" font-size="4.2" text-anchor="end" font-family="'Liberation Sans', sans-serif" font-weight="normal" font-style="normal" fill="#000" stroke="#000" stroke-width="0.12" transform="rotate(-90 638.08 652.30)">120</text>
<text x="645.84" y="652.30" font-size="4.2" text-anchor="end" font-family="'Liberation Sans', sans-serif" font-weight="normal" font-style="normal" fill="#000" stroke="#000" stroke-width="0.12" transform="rotate(-90 645.84 652.30)">130</text>
<text x="653.60" y="652.30" font-size="4.2" text-anchor="end" font-family="'Liberation Sans', sans-serif" font-weight="normal" font-style="normal" fill="#000" stroke="#000" stroke-width="0.12" transform="rotate(-90 653.60 652.30)">140</text>
<text x="539.50" y="533.58" font-size="4.2" text-anchor="middle" font-family="'Liberation Sans', sans-serif" font-weight="normal" font-style="normal" fill="#000" stroke="#000" stroke-width="0.12" transform="rotate(-90 539.50 533.58)">0</text>
<text x="539.50" y="545.21" font-size="4.2" text-anchor="middle" font-family="'Liberation Sans', sans-serif" font-weight="normal" font-style="normal" fill="#000" stroke="#000" stroke-width="0.12" transform="rotate(-90 539.50 545.21)">10</text>
<text x="539.50" y="556.84" font-size="4.2" text-anchor="middle" font-family="'Liberation Sans', sans-serif" font-weight="normal" font-style="normal" fill="#000" stroke="#000" stroke-width="0.12" transform="rotate(-90 539.50 556.84)">20</text>
<text x="539.50" y="568.47" font-size="4.2" text-anchor="middle" font-family="'Liberation Sans', sans-serif" font-weight="normal" font-style="normal" fill="#000" stroke="#000" stroke-width="0.12" transform="rotate(-90 539.50 568.47)">30</text>
<text x="539.50" y="580.10" font-size="4.2" text-anchor="middle" font-family="'Liberation Sans', sans-serif" font-weight="normal" font-style="normal" fill="#000" stroke="#000" stroke-width="0.12" transform="rotate(-90 539.50 580.10)">40</text>
<text x="539.50" y="591.73" font-size="4.2" text-anchor="middle" font-family="'Liberation Sans', sans-serif" font-weight="normal" font-style="normal" fill="#000" stroke="#000" stroke-width="0.12" transform="rotate(-90 539.50 591.73)">50</text>
<text x="539.50" y="603.36" font-size="4.2" text-anchor="middle" font-family="'Liberation Sans', sans-serif" font-weight="normal" font-style="normal" fill="#000" stroke="#000" stroke-width="0.12" transform="rotate(-90 539.50 603.36)">60</text>
<text x="539.50" y="614.99" font-size="4.2" text-anchor="middle" font-family="'Liberation Sans', sans-serif" font-weight="normal" font-style="normal" fill="#000" stroke="#000" stroke-width="0.12" transform="rotate(-90 539.50 614.99)">70</text>
<text x="539.50" y="626.62" font-size="4.2" text-anchor="middle" font-family="'Liberation Sans', sans-serif" font-weight="normal" font-style="normal" fill="#000" stroke="#000" stroke-width="0.12" transform="rotate(-90 539.50 626.62)">80</text>
<text x="539.50" y="638.25" font-size="4.2" text-anchor="middle" font-family="'Liberation Sans', sans-serif" font-weight="normal" font-style="normal" fill="#000" stroke="#000" stroke-width="0.12" transform="rotate(-90 539.50 638.25)">90</text>
<text x="601.30" y="668.40" font-size="10.0" text-anchor="middle" font-family="'Liberation Serif', serif" fill="#222" textLength="130.6" lengthAdjust="spacingAndGlyphs"><tspan font-style="italic">D</tspan><tspan font-style="italic" font-size="6.80" dy="2.00">c</tspan><tspan dy="-2.00"> + </tspan><tspan font-style="italic">D</tspan><tspan font-style="italic" font-size="6.80" dy="2.00">s</tspan><tspan dy="-2.00"> (First 100 dimensions)</tspan></text>
<text x="531.50" y="591.00" font-size="10.0" text-anchor="middle" font-family="'Liberation Serif', serif" fill="#222" textLength="108.5" lengthAdjust="spacingAndGlyphs" transform="rotate(-90 531.50 591.00)"><tspan font-style="italic">D</tspan><tspan font-style="italic" font-size="6.80" dy="2.00">s</tspan><tspan dy="-2.00"> (First 100 dimensions)</tspan></text>
<text x="529.50" y="529.30" font-size="16" text-anchor="start" font-family="'Liberation Serif', serif" font-weight="bold" font-style="normal" fill="#000">l</text>
<g shape-rendering="crispEdges"><path fill="#75d054" d="M448 716h2v2h-2zM450 716h3v2h-3zM453 716h2v2h-2zM455 716h3v2h-3zM458 716h2v2h-2zM460 716h2v2h-2zM462 716h3v2h-3zM465 716h2v2h-2zM467 716h3v2h-3zM470 716h2v2h-2z"/><path fill="#21918c" d="M448 718h2v1h-2zM450 718h3v1h-3zM453 718h2v1h-2zM455 718h3v1h-3zM458 718h2v1h-2zM460 718h2v1h-2zM462 718h3v1h-3zM465 718h2v1h-2zM467 718h3v1h-3zM470 718h2v1h-2zM472 718h3v1h-3zM475 718h2v1h-2zM477 718h2v1h-2zM479 718h3v1h-3zM482 718h2v1h-2zM484 718h3v1h-3zM487 718h2v1h-2zM489 718h2v1h-2zM491 718h3v1h-3zM494 718h2v1h-2zM496 718h3v1h-3zM499 718h2v1h-2zM501 718h2v1h-2zM503 718h3v1h-3zM506 718h2v1h-2zM508 718h3v1h-3zM511 718h2v1h-2zM513 718h2v1h-2zM515 718h3v1h-3zM518 718h2v1h-2zM520 718h3v1h-3zM523 718h2v1h-2zM525 718h3v1h-3zM528 718h2v1h-2zM530 718h2v1h-2zM532 718h3v1h-3zM535 718h2v1h-2zM537 718h3v1h-3zM540 718h2v1h-2zM542 718h2v1h-2zM544 718h3v1h-3zM547 718h2v1h-2zM549 718h3v1h-3zM552 718h2v1h-2zM554 718h2v1h-2zM556 718h3v1h-3zM559 718h2v1h-2zM561 718h3v1h-3zM564 718h2v1h-2zM566 718h2v1h-2z"/><path fill="#2a778e" d="M448 719h2v2h-2zM450 719h3v2h-3zM453 719h2v1h-2zM455 719h3v1h-3zM458 719h2v1h-2zM460 719h2v1h-2z"/><path fill="#2c728e" d="M448 721h2v1h-2zM450 721h3v1h-3zM453 720h2v2h-2zM455 720h3v2h-3zM458 720h2v1h-2zM460 720h2v1h-2zM462 719h3v2h-3zM465 719h2v2h-2zM467 719h3v1h-3zM470 719h2v1h-2zM472 719h3v1h-3zM475 719h2v1h-2z"/><path fill="#2e6d8e" d="M448 722h2v3h-2zM450 722h3v3h-3zM453 722h2v1h-2zM455 722h3v1h-3zM458 721h2v2h-2zM460 721h2v2h-2zM462 721h3v1h-3zM465 721h2v1h-2zM467 720h3v2h-3zM470 720h2v2h-2zM472 720h3v1h-3zM475 720h2v1h-2zM477 719h2v2h-2zM479 719h3v2h-3zM482 719h2v1h-2zM484 719h3v1h-3zM487 719h2v1h-2zM489 719h2v1h-2z"/><path fill="#31688e" d="M448 725h2v1h-2zM450 725h3v1h-3zM453 723h2v3h-2zM455 723h3v2h-3zM458 723h2v2h-2zM460 723h2v2h-2zM462 722h3v3h-3zM465 722h2v1h-2zM467 722h3v1h-3zM470 722h2v1h-2zM472 721h3v2h-3zM475 721h2v1h-2zM477 721h2v1h-2zM479 721h3v1h-3zM482 720h2v2h-2zM484 720h3v1h-3zM487 720h2v1h-2zM489 720h2v1h-2zM491 719h3v2h-3zM494 719h2v1h-2zM496 719h3v1h-3zM499 719h2v1h-2zM501 719h2v1h-2z"/><path fill="#33638d" d="M448 726h2v2h-2zM450 726h3v1h-3zM453 726h2v1h-2zM455 725h3v2h-3zM458 725h2v2h-2zM460 725h2v1h-2zM462 725h3v1h-3zM465 723h2v3h-2zM467 723h3v3h-3zM470 723h2v2h-2zM472 723h3v2h-3zM475 722h2v3h-2zM477 722h2v3h-2zM479 722h3v1h-3zM482 722h2v1h-2zM484 721h3v2h-3zM487 721h2v2h-2zM489 721h2v1h-2zM491 721h3v1h-3zM494 720h2v2h-2zM496 720h3v2h-3zM499 720h2v1h-2zM501 720h2v1h-2zM503 719h3v2h-3zM506 719h2v2h-2zM508 719h3v1h-3zM511 719h2v1h-2zM513 719h2v1h-2zM515 719h3v1h-3z"/><path fill="#365d8d" d="M448 728h2v4h-2zM450 727h3v3h-3zM453 727h2v3h-2zM455 727h3v3h-3zM458 727h2v3h-2zM460 726h2v3h-2zM462 726h3v3h-3zM465 726h2v3h-2zM467 726h3v3h-3zM470 725h2v3h-2zM472 725h3v3h-3zM475 725h2v3h-2zM477 725h2v3h-2zM479 723h3v4h-3zM482 723h2v4h-2zM484 723h3v4h-3zM487 723h2v4h-2zM489 722h2v4h-2zM491 722h3v4h-3zM494 722h2v4h-2zM496 722h3v4h-3zM499 721h2v4h-2zM501 721h2v4h-2zM503 721h3v4h-3zM506 721h2v4h-2zM508 720h3v3h-3zM511 720h2v3h-2zM513 720h2v3h-2zM515 720h3v3h-3zM518 719h2v3h-2zM520 719h3v3h-3zM523 719h2v3h-2zM525 719h3v3h-3zM528 719h2v2h-2zM530 719h2v2h-2zM532 719h3v2h-3zM535 719h2v2h-2zM537 719h3v1h-3zM540 719h2v1h-2zM542 719h2v1h-2zM544 719h3v1h-3z"/><path fill="#38588c" d="M448 732h2v4h-2zM450 730h3v6h-3zM453 730h2v6h-2zM455 730h3v6h-3zM458 730h2v5h-2zM460 729h2v6h-2zM462 729h3v6h-3zM465 729h2v6h-2zM467 729h3v5h-3zM470 728h2v6h-2zM472 728h3v6h-3zM475 728h2v6h-2zM477 728h2v5h-2zM479 727h3v6h-3zM482 727h2v6h-2zM484 727h3v6h-3zM487 727h2v5h-2zM489 726h2v6h-2zM491 726h3v6h-3zM494 726h2v6h-2zM496 726h3v4h-3zM499 725h2v5h-2zM501 725h2v5h-2zM503 725h3v5h-3zM506 725h2v4h-2zM508 723h3v6h-3zM511 723h2v6h-2zM513 723h2v6h-2zM515 723h3v5h-3zM518 722h2v6h-2zM520 722h3v6h-3zM523 722h2v6h-2zM525 722h3v5h-3zM528 721h2v6h-2zM530 721h2v6h-2zM532 721h3v6h-3zM535 721h2v5h-2zM537 720h3v6h-3zM540 720h2v6h-2zM542 720h2v6h-2zM544 720h3v5h-3zM547 719h2v6h-2zM549 719h3v6h-3zM552 719h2v6h-2zM554 719h2v4h-2zM556 719h3v4h-3zM559 719h2v4h-2zM561 719h3v4h-3zM564 719h2v3h-2zM566 719h2v3h-2z"/><path fill="#3b528b" d="M448 736h2v6h-2zM450 736h3v6h-3zM453 736h2v6h-2zM455 736h3v5h-3zM458 735h2v6h-2zM460 735h2v6h-2zM462 735h3v6h-3zM465 735h2v5h-2zM467 734h3v6h-3zM470 734h2v6h-2zM472 734h3v6h-3zM475 734h2v5h-2zM477 733h2v6h-2zM479 733h3v6h-3zM482 733h2v6h-2zM484 733h3v4h-3zM487 732h2v5h-2zM489 732h2v5h-2zM491 732h3v5h-3zM494 732h2v4h-2zM496 730h3v6h-3zM499 730h2v6h-2zM501 730h2v6h-2zM503 730h3v5h-3zM506 729h2v6h-2zM508 729h3v6h-3zM511 729h2v6h-2zM513 729h2v5h-2zM515 728h3v6h-3zM518 728h2v6h-2zM520 728h3v6h-3zM523 728h2v5h-2zM525 727h3v6h-3zM528 727h2v6h-2zM530 727h2v6h-2zM532 727h3v5h-3zM535 726h2v6h-2zM537 726h3v6h-3zM540 726h2v6h-2zM542 726h2v4h-2zM544 725h3v5h-3zM547 725h2v5h-2zM549 725h3v5h-3zM552 725h2v4h-2zM554 723h2v6h-2zM556 723h3v6h-3zM559 723h2v6h-2zM561 723h3v5h-3zM564 722h2v6h-2zM566 722h2v6h-2z"/><path fill="#3e4c8a" d="M448 742h2v7h-2zM450 742h3v7h-3zM453 742h2v6h-2zM455 741h3v7h-3zM458 741h2v7h-2zM460 741h2v7h-2zM462 741h3v6h-3zM465 740h2v7h-2zM467 740h3v7h-3zM470 740h2v7h-2zM472 740h3v6h-3zM475 739h2v7h-2zM477 739h2v7h-2zM479 739h3v7h-3zM482 739h2v5h-2zM484 737h3v7h-3zM487 737h2v7h-2zM489 737h2v7h-2zM491 737h3v6h-3zM494 736h2v7h-2zM496 736h3v7h-3zM499 736h2v7h-2zM501 736h2v6h-2zM503 735h3v7h-3zM506 735h2v7h-2zM508 735h3v7h-3zM511 735h2v6h-2zM513 734h2v7h-2zM515 734h3v7h-3zM518 734h2v7h-2zM520 734h3v6h-3zM523 733h2v7h-2zM525 733h3v7h-3zM528 733h2v7h-2zM530 733h2v6h-2zM532 732h3v7h-3zM535 732h2v7h-2zM537 732h3v7h-3zM540 732h2v5h-2zM542 730h2v7h-2zM544 730h3v7h-3zM547 730h2v7h-2zM549 730h3v6h-3zM552 729h2v7h-2zM554 729h2v7h-2zM556 729h3v7h-3zM559 729h2v6h-2zM561 728h3v7h-3zM564 728h2v7h-2zM566 728h2v7h-2z"/><path fill="#404688" d="M448 749h2v8h-2zM450 749h3v8h-3zM453 748h2v9h-2zM455 748h3v9h-3zM458 748h2v8h-2zM460 748h2v8h-2zM462 747h3v9h-3zM465 747h2v9h-2zM467 747h3v8h-3zM470 747h2v8h-2zM472 746h3v9h-3zM475 746h2v9h-2zM477 746h2v8h-2zM479 746h3v8h-3zM482 744h2v10h-2zM484 744h3v10h-3zM487 744h2v8h-2zM489 744h2v8h-2zM491 743h3v9h-3zM494 743h2v9h-2zM496 743h3v8h-3zM499 743h2v8h-2zM501 742h2v9h-2zM503 742h3v9h-3zM506 742h2v8h-2zM508 742h3v8h-3zM511 741h2v9h-2zM513 741h2v9h-2zM515 741h3v8h-3zM518 741h2v8h-2zM520 740h3v9h-3zM523 740h2v9h-2zM525 740h3v8h-3zM528 740h2v8h-2zM530 739h2v9h-2zM532 739h3v9h-3zM535 739h2v8h-2zM537 739h3v8h-3zM540 737h2v10h-2zM542 737h2v10h-2zM544 737h3v9h-3zM547 737h2v9h-2zM549 736h3v10h-3zM552 736h2v10h-2zM554 736h2v8h-2zM556 736h3v8h-3zM559 735h2v9h-2zM561 735h3v9h-3zM564 735h2v8h-2zM566 735h2v8h-2z"/><path fill="#424086" d="M448 757h2v9h-2zM450 757h3v9h-3zM453 757h2v8h-2zM455 757h3v8h-3zM458 756h2v9h-2zM460 756h2v9h-2zM462 756h3v8h-3zM465 756h2v8h-2zM467 755h3v9h-3zM470 755h2v9h-2zM472 755h3v8h-3zM475 755h2v8h-2zM477 754h2v9h-2zM479 754h3v9h-3zM482 754h2v8h-2zM484 754h3v8h-3zM487 752h2v10h-2zM489 752h2v10h-2zM491 752h3v9h-3zM494 752h2v9h-2zM496 751h3v10h-3zM499 751h2v10h-2zM501 751h2v8h-2zM503 751h3v8h-3zM506 750h2v9h-2zM508 750h3v9h-3zM511 750h2v8h-2zM513 750h2v8h-2zM515 749h3v9h-3zM518 749h2v9h-2zM520 749h3v8h-3zM523 749h2v8h-2zM525 748h3v9h-3zM528 748h2v9h-2zM530 748h2v8h-2zM532 748h3v8h-3zM535 747h2v9h-2zM537 747h3v9h-3zM540 747h2v8h-2zM542 747h2v8h-2zM544 746h3v9h-3zM547 746h2v9h-2zM549 746h3v8h-3zM552 746h2v8h-2zM554 744h2v10h-2zM556 744h3v10h-3zM559 744h2v8h-2zM561 744h3v8h-3zM564 743h2v9h-2zM566 743h2v9h-2z"/><path fill="#443983" d="M448 766h2v10h-2zM450 766h3v10h-3zM453 765h2v9h-2zM455 765h3v9h-3zM458 765h2v9h-2zM460 765h2v9h-2zM462 764h3v9h-3zM465 764h2v9h-2zM467 764h3v9h-3zM470 764h2v9h-2zM472 763h3v9h-3zM475 763h2v9h-2zM477 763h2v9h-2zM479 763h3v9h-3zM482 762h2v9h-2zM484 762h3v9h-3zM487 762h2v9h-2zM489 762h2v9h-2zM491 761h3v9h-3zM494 761h2v9h-2zM496 761h3v9h-3zM499 761h2v9h-2zM501 759h2v10h-2zM503 759h3v10h-3zM506 759h2v10h-2zM508 759h3v10h-3zM511 758h2v10h-2zM513 758h2v10h-2zM515 758h3v10h-3zM518 758h2v10h-2zM520 757h3v9h-3zM523 757h2v9h-2zM525 757h3v9h-3zM528 757h2v9h-2zM530 756h2v9h-2zM532 756h3v9h-3zM535 756h2v9h-2zM537 756h3v9h-3zM540 755h2v9h-2zM542 755h2v9h-2zM544 755h3v9h-3zM547 755h2v9h-2zM549 754h3v9h-3zM552 754h2v9h-2zM554 754h2v9h-2zM556 754h3v9h-3zM559 752h2v10h-2zM561 752h3v10h-3zM564 752h2v10h-2zM566 752h2v10h-2z"/><path fill="#46337f" d="M448 776h2v9h-2zM450 776h3v9h-3zM453 774h2v10h-2zM455 774h3v10h-3zM458 774h2v10h-2zM460 774h2v10h-2zM462 773h3v10h-3zM465 773h2v10h-2zM467 773h3v10h-3zM470 773h2v10h-2zM472 772h3v9h-3zM475 772h2v9h-2zM477 772h2v9h-2zM479 772h3v9h-3zM482 771h2v9h-2zM484 771h3v9h-3zM487 771h2v9h-2zM489 771h2v9h-2zM491 770h3v9h-3zM494 770h2v9h-2zM496 770h3v9h-3zM499 770h2v9h-2zM501 769h2v9h-2zM503 769h3v9h-3zM506 769h2v9h-2zM508 769h3v9h-3zM511 768h2v9h-2zM513 768h2v9h-2zM515 768h3v9h-3zM518 768h2v9h-2zM520 766h3v10h-3zM523 766h2v10h-2zM525 766h3v10h-3zM528 766h2v10h-2zM530 765h2v9h-2zM532 765h3v9h-3zM535 765h2v9h-2zM537 765h3v9h-3zM540 764h2v9h-2zM542 764h2v9h-2zM544 764h3v9h-3zM547 764h2v9h-2zM549 763h3v9h-3zM552 763h2v9h-2zM554 763h2v9h-2zM556 763h3v9h-3zM559 762h2v9h-2zM561 762h3v9h-3zM564 762h2v9h-2zM566 762h2v9h-2z"/><path fill="#472d7b" d="M448 785h2v9h-2zM450 785h3v9h-3zM453 784h2v9h-2zM455 784h3v9h-3zM458 784h2v9h-2zM460 784h2v9h-2zM462 783h3v9h-3zM465 783h2v9h-2zM467 783h3v9h-3zM470 783h2v9h-2zM472 781h3v10h-3zM475 781h2v10h-2zM477 781h2v10h-2zM479 781h3v10h-3zM482 780h2v10h-2zM484 780h3v10h-3zM487 780h2v10h-2zM489 780h2v10h-2zM491 779h3v9h-3zM494 779h2v9h-2zM496 779h3v9h-3zM499 779h2v9h-2zM501 778h2v9h-2zM503 778h3v9h-3zM506 778h2v9h-2zM508 778h3v9h-3zM511 777h2v9h-2zM513 777h2v9h-2zM515 777h3v9h-3zM518 777h2v9h-2zM520 776h3v9h-3zM523 776h2v9h-2zM525 776h3v9h-3zM528 776h2v9h-2zM530 774h2v10h-2zM532 774h3v10h-3zM535 774h2v10h-2zM537 774h3v10h-3zM540 773h2v10h-2zM542 773h2v10h-2zM544 773h3v10h-3zM547 773h2v10h-2zM549 772h3v9h-3zM552 772h2v9h-2zM554 772h2v9h-2zM556 772h3v9h-3zM559 771h2v9h-2zM561 771h3v9h-3zM564 771h2v9h-2zM566 771h2v9h-2z"/><path fill="#482576" d="M448 794h2v12h-2zM450 794h3v12h-3zM453 793h2v12h-2zM455 793h3v12h-3zM458 793h2v12h-2zM460 793h2v12h-2zM462 792h3v12h-3zM465 792h2v12h-2zM467 792h3v12h-3zM470 792h2v12h-2zM472 791h3v11h-3zM475 791h2v11h-2zM477 791h2v11h-2zM479 791h3v11h-3zM482 790h2v11h-2zM484 790h3v11h-3zM487 790h2v11h-2zM489 790h2v11h-2zM491 788h3v12h-3zM494 788h2v12h-2zM496 788h3v12h-3zM499 788h2v12h-2zM501 787h2v12h-2zM503 787h3v12h-3zM506 787h2v12h-2zM508 787h3v12h-3zM511 786h2v12h-2zM513 786h2v12h-2zM515 786h3v12h-3zM518 786h2v12h-2zM520 785h3v12h-3zM523 785h2v12h-2zM525 785h3v12h-3zM528 785h2v12h-2zM530 784h2v11h-2zM532 784h3v11h-3zM535 784h2v11h-2zM537 784h3v11h-3zM540 783h2v11h-2zM542 783h2v11h-2zM544 783h3v11h-3zM547 783h2v11h-2zM549 781h3v12h-3zM552 781h2v12h-2zM554 781h2v12h-2zM556 781h3v12h-3zM559 780h2v12h-2zM561 780h3v12h-3zM564 780h2v12h-2zM566 780h2v12h-2z"/><path fill="#481f70" d="M448 806h2v14h-2zM450 806h3v14h-3zM453 805h2v14h-2zM455 805h3v14h-3zM458 805h2v14h-2zM460 805h2v14h-2zM462 804h3v13h-3zM465 804h2v13h-2zM467 804h3v13h-3zM470 804h2v13h-2zM472 802h3v14h-3zM475 802h2v14h-2zM477 802h2v14h-2zM479 802h3v14h-3zM482 801h2v14h-2zM484 801h3v14h-3zM487 801h2v14h-2zM489 801h2v14h-2zM491 800h3v14h-3zM494 800h2v14h-2zM496 800h3v14h-3zM499 800h2v14h-2zM501 799h2v14h-2zM503 799h3v14h-3zM506 799h2v14h-2zM508 799h3v14h-3zM511 798h2v14h-2zM513 798h2v14h-2zM515 798h3v14h-3zM518 798h2v14h-2zM520 797h3v13h-3zM523 797h2v13h-2zM525 797h3v13h-3zM528 797h2v13h-2zM530 795h2v14h-2zM532 795h3v14h-3zM535 795h2v14h-2zM537 795h3v14h-3zM540 794h2v14h-2zM542 794h2v14h-2zM544 794h3v14h-3zM547 794h2v14h-2zM549 793h3v14h-3zM552 793h2v14h-2zM554 793h2v14h-2zM556 793h3v14h-3zM559 792h2v14h-2zM561 792h3v14h-3zM564 792h2v14h-2zM566 792h2v14h-2z"/><path fill="#48186a" d="M448 820h2v11h-2zM450 820h3v11h-3zM453 819h2v12h-2zM455 819h3v12h-3zM458 819h2v11h-2zM460 819h2v11h-2zM462 817h3v13h-3zM465 817h2v13h-2zM467 817h3v12h-3zM470 817h2v12h-2zM472 816h3v13h-3zM475 816h2v13h-2zM477 816h2v12h-2zM479 816h3v12h-3zM482 815h2v13h-2zM484 815h3v13h-3zM487 815h2v12h-2zM489 815h2v12h-2zM491 814h3v13h-3zM494 814h2v13h-2zM496 814h3v12h-3zM499 814h2v12h-2zM501 813h2v13h-2zM503 813h3v13h-3zM506 813h2v11h-2zM508 813h3v11h-3zM511 812h2v12h-2zM513 812h2v12h-2zM515 812h3v11h-3zM518 812h2v11h-2zM520 810h3v13h-3zM523 810h2v13h-2zM525 810h3v12h-3zM528 810h2v12h-2zM530 809h2v13h-2zM532 809h3v13h-3zM535 809h2v12h-2zM537 809h3v12h-3zM540 808h2v13h-2zM542 808h2v13h-2zM544 808h3v12h-3zM547 808h2v12h-2zM549 807h3v13h-3zM552 807h2v13h-2zM554 807h2v12h-2zM556 807h3v12h-3zM559 806h2v13h-2zM561 806h3v13h-3zM564 806h2v11h-2zM566 806h2v11h-2z"/><path fill="#471063" d="M448 831h2v1h-2zM450 831h3v1h-3zM453 831h2v1h-2zM455 831h3v1h-3zM458 830h2v2h-2zM460 830h2v2h-2zM462 830h3v2h-3zM465 830h2v2h-2zM467 829h3v3h-3zM470 829h2v3h-2zM472 829h3v3h-3zM475 829h2v3h-2zM477 828h2v4h-2zM479 828h3v4h-3zM482 828h2v4h-2zM484 828h3v4h-3zM487 827h2v5h-2zM489 827h2v5h-2zM491 827h3v5h-3zM494 827h2v5h-2zM496 826h3v6h-3zM499 826h2v6h-2zM501 826h2v6h-2zM503 826h3v6h-3zM506 824h2v8h-2zM508 824h3v8h-3zM511 824h2v8h-2zM513 824h2v8h-2zM515 823h3v9h-3zM518 823h2v9h-2zM520 823h3v9h-3zM523 823h2v9h-2zM525 822h3v10h-3zM528 822h2v10h-2zM530 822h2v10h-2zM532 822h3v10h-3zM535 821h2v11h-2zM537 821h3v11h-3zM540 821h2v11h-2zM542 821h2v11h-2zM544 820h3v11h-3zM547 820h2v11h-2zM549 820h3v11h-3zM552 820h2v11h-2zM554 819h2v11h-2zM556 819h3v11h-3zM559 819h2v11h-2zM561 819h3v11h-3zM564 817h2v12h-2zM566 817h2v12h-2z"/><path fill="#69cd5b" d="M472 716h3v2h-3zM475 716h2v2h-2zM477 716h2v2h-2zM479 716h3v2h-3zM482 716h2v2h-2zM484 716h3v2h-3zM487 716h2v2h-2zM489 716h2v2h-2zM491 716h3v2h-3zM494 716h2v2h-2z"/><path fill="#5ec962" d="M496 716h3v2h-3zM499 716h2v2h-2zM501 716h2v2h-2zM503 716h3v2h-3zM506 716h2v2h-2zM508 716h3v2h-3zM511 716h2v2h-2zM513 716h2v2h-2zM515 716h3v2h-3zM518 716h2v2h-2zM520 716h3v2h-3z"/><path fill="#52c569" d="M523 716h2v2h-2zM525 716h3v2h-3zM528 716h2v2h-2zM530 716h2v2h-2zM532 716h3v2h-3zM535 716h2v2h-2zM537 716h3v2h-3zM540 716h2v2h-2zM542 716h2v2h-2zM544 716h3v2h-3z"/><path fill="#46085c" d="M544 831h3v1h-3zM547 831h2v1h-2zM549 831h3v1h-3zM552 831h2v1h-2zM554 830h2v2h-2zM556 830h3v2h-3zM559 830h2v2h-2zM561 830h3v2h-3zM564 829h2v3h-2zM566 829h2v3h-2z"/><path fill="#48c16e" d="M547 716h2v2h-2zM549 716h3v2h-3zM552 716h2v2h-2zM554 716h2v2h-2zM556 716h3v2h-3zM559 716h2v2h-2zM561 716h3v2h-3zM564 716h2v2h-2zM566 716h2v2h-2z"/></g>
<rect x="447.40" y="715.60" width="121.60" height="117.80" fill="none" stroke="#ff0000" stroke-width="2.7"/>
<rect x="576.00" y="715.80" width="5.80" height="118.80" fill="url(#vir)"/>
<line x1="581.80" y1="832.30" x2="583.10" y2="832.30" stroke="#333" stroke-width="0.4"/>
<text x="583.50" y="834.20" font-size="5.3" text-anchor="start" font-family="'Liberation Sans', sans-serif" font-weight="normal" font-style="normal" fill="#222" stroke="#222" stroke-width="0.12">0.004</text>
<line x1="581.80" y1="810.98" x2="583.10" y2="810.98" stroke="#333" stroke-width="0.4"/>
<text x="583.50" y="812.88" font-size="5.3" text-anchor="start" font-family="'Liberation Sans', sans-serif" font-weight="normal" font-style="normal" fill="#222" stroke="#222" stroke-width="0.12">0.006</text>
<line x1="581.80" y1="789.66" x2="583.10" y2="789.66" stroke="#333" stroke-width="0.4"/>
<text x="583.50" y="791.56" font-size="5.3" text-anchor="start" font-family="'Liberation Sans', sans-serif" font-weight="normal" font-style="normal" fill="#222" stroke="#222" stroke-width="0.12">0.008</text>
<line x1="581.80" y1="768.34" x2="583.10" y2="768.34" stroke="#333" stroke-width="0.4"/>
<text x="583.50" y="770.24" font-size="5.3" text-anchor="start" font-family="'Liberation Sans', sans-serif" font-weight="normal" font-style="normal" fill="#222" stroke="#222" stroke-width="0.12">0.010</text>
<line x1="581.80" y1="747.02" x2="583.10" y2="747.02" stroke="#333" stroke-width="0.4"/>
<text x="583.50" y="748.92" font-size="5.3" text-anchor="start" font-family="'Liberation Sans', sans-serif" font-weight="normal" font-style="normal" fill="#222" stroke="#222" stroke-width="0.12">0.012</text>
<line x1="581.80" y1="725.70" x2="583.10" y2="725.70" stroke="#333" stroke-width="0.4"/>
<text x="583.50" y="727.60" font-size="5.3" text-anchor="start" font-family="'Liberation Sans', sans-serif" font-weight="normal" font-style="normal" fill="#222" stroke="#222" stroke-width="0.12">0.014</text>
<text x="448.20" y="841.30" font-size="4.5" text-anchor="middle" font-family="'Liberation Sans', sans-serif" font-weight="normal" font-style="normal" fill="#000" stroke="#000" stroke-width="0.12">0</text>
<text x="472.20" y="841.30" font-size="4.5" text-anchor="middle" font-family="'Liberation Sans', sans-serif" font-weight="normal" font-style="normal" fill="#000" stroke="#000" stroke-width="0.12">10</text>
<text x="496.20" y="841.30" font-size="4.5" text-anchor="middle" font-family="'Liberation Sans', sans-serif" font-weight="normal" font-style="normal" fill="#000" stroke="#000" stroke-width="0.12">20</text>
<text x="520.20" y="841.30" font-size="4.5" text-anchor="middle" font-family="'Liberation Sans', sans-serif" font-weight="normal" font-style="normal" fill="#000" stroke="#000" stroke-width="0.12">30</text>
<text x="544.20" y="841.30" font-size="4.5" text-anchor="middle" font-family="'Liberation Sans', sans-serif" font-weight="normal" font-style="normal" fill="#000" stroke="#000" stroke-width="0.12">40</text>
<text x="444.60" y="717.08" font-size="4.3" text-anchor="middle" font-family="'Liberation Sans', sans-serif" font-weight="normal" font-style="normal" fill="#000" stroke="#000" stroke-width="0.12" transform="rotate(-90 444.60 717.08)">0</text>
<text x="444.60" y="728.68" font-size="4.3" text-anchor="middle" font-family="'Liberation Sans', sans-serif" font-weight="normal" font-style="normal" fill="#000" stroke="#000" stroke-width="0.12" transform="rotate(-90 444.60 728.68)">10</text>
<text x="444.60" y="740.28" font-size="4.3" text-anchor="middle" font-family="'Liberation Sans', sans-serif" font-weight="normal" font-style="normal" fill="#000" stroke="#000" stroke-width="0.12" transform="rotate(-90 444.60 740.28)">20</text>
<text x="444.60" y="751.88" font-size="4.3" text-anchor="middle" font-family="'Liberation Sans', sans-serif" font-weight="normal" font-style="normal" fill="#000" stroke="#000" stroke-width="0.12" transform="rotate(-90 444.60 751.88)">30</text>
<text x="444.60" y="763.48" font-size="4.3" text-anchor="middle" font-family="'Liberation Sans', sans-serif" font-weight="normal" font-style="normal" fill="#000" stroke="#000" stroke-width="0.12" transform="rotate(-90 444.60 763.48)">40</text>
<text x="444.60" y="775.08" font-size="4.3" text-anchor="middle" font-family="'Liberation Sans', sans-serif" font-weight="normal" font-style="normal" fill="#000" stroke="#000" stroke-width="0.12" transform="rotate(-90 444.60 775.08)">50</text>
<text x="444.60" y="786.68" font-size="4.3" text-anchor="middle" font-family="'Liberation Sans', sans-serif" font-weight="normal" font-style="normal" fill="#000" stroke="#000" stroke-width="0.12" transform="rotate(-90 444.60 786.68)">60</text>
<text x="444.60" y="798.28" font-size="4.3" text-anchor="middle" font-family="'Liberation Sans', sans-serif" font-weight="normal" font-style="normal" fill="#000" stroke="#000" stroke-width="0.12" transform="rotate(-90 444.60 798.28)">70</text>
<text x="444.60" y="809.88" font-size="4.3" text-anchor="middle" font-family="'Liberation Sans', sans-serif" font-weight="normal" font-style="normal" fill="#000" stroke="#000" stroke-width="0.12" transform="rotate(-90 444.60 809.88)">80</text>
<text x="444.60" y="821.48" font-size="4.3" text-anchor="middle" font-family="'Liberation Sans', sans-serif" font-weight="normal" font-style="normal" fill="#000" stroke="#000" stroke-width="0.12" transform="rotate(-90 444.60 821.48)">90</text>
<text x="509.5" y="851.5" font-size="10" font-family="'Liberation Serif', serif" fill="#222" text-anchor="middle"><tspan font-style="italic">D</tspan><tspan font-style="italic" font-size="6.8" dy="2.2">c</tspan></text>
<text x="436.50" y="775.00" font-size="10.0" text-anchor="middle" font-family="'Liberation Serif', serif" fill="#222" textLength="108.5" lengthAdjust="spacingAndGlyphs" transform="rotate(-90 436.50 775.00)"><tspan font-style="italic">D</tspan><tspan font-style="italic" font-size="6.80" dy="2.00">s</tspan><tspan dy="-2.00"> (First 100 dimensions)</tspan></text>
<text x="424.20" y="703.00" font-size="16.8" text-anchor="start" font-family="'Liberation Serif', serif" font-weight="bold" font-style="normal" fill="#000">m</text>
<polyline points="569.2,521.5 569.2,509.6 378.2,509.6 378.2,523" fill="none" stroke="#fdb913" stroke-width="1.6"/>
<polygon points="375.0,522.3 381.4,522.3 378.2,529.6" fill="#fdb913"/>
<path d="M543.5,533.8 C543.5,529.6 545.6,527.7 550,527.7 L562,527.7 C566.6,527.7 569.2,525.6 569.2,521 C569.2,525.6 571.8,527.7 576.4,527.7 L589.6,527.7 C594,527.7 596.1,529.6 596.1,533.8" fill="none" stroke="#fdb913" stroke-width="1.9"/>
<path d="M532.5,656.2 C520,660 511.2,676 511.2,699" fill="none" stroke="#ff0000" stroke-width="1.5"/>
<polygon points="507.6,698.6 514.8,698.6 511.2,705.6" fill="#ff0000"/>
<clipPath id="nclip"><polygon points="30.60,834.00 30.60,754.63 31.25,754.63 31.25,767.84 31.89,767.84 31.89,775.29 32.54,775.29 32.54,781.39 33.18,781.39 33.18,786.58 33.83,786.58 33.83,790.53 34.47,790.53 34.47,792.06 35.12,792.06 35.12,793.31 35.76,793.31 35.76,794.36 36.41,794.36 36.41,795.27 37.05,795.27 37.05,796.06 37.70,796.06 37.70,796.76 38.35,796.76 38.35,797.39 38.99,797.39 38.99,797.96 39.64,797.96 39.64,798.48 40.28,798.48 40.28,798.96 40.93,798.96 40.93,799.40 41.57,799.40 41.57,799.81 42.22,799.81 42.22,800.19 42.86,800.19 42.86,800.54 43.51,800.54 43.51,800.88 44.16,800.88 44.16,801.19 44.80,801.19 44.80,801.49 45.45,801.49 45.45,801.77 46.09,801.77 46.09,802.04 46.74,802.04 46.74,802.30 47.38,802.30 47.38,802.54 48.03,802.54 48.03,802.77 48.67,802.77 48.67,802.99 49.32,802.99 49.32,803.21 49.97,803.21 49.97,803.41 50.61,803.41 50.61,803.61 51.26,803.61 51.26,803.79 51.90,803.79 51.90,803.98 52.55,803.98 52.55,804.15 53.19,804.15 53.19,804.32 53.84,804.32 53.84,804.48 54.48,804.48 54.48,804.64 55.13,804.64 55.13,804.79 55.77,804.79 55.77,804.94 56.42,804.94 56.42,805.09 57.07,805.09 57.07,805.23 57.71,805.23 57.71,805.36 58.36,805.36 58.36,805.49 59.00,805.49 59.00,805.62 59.65,805.62 59.65,805.75 60.29,805.75 60.29,805.87 60.94,805.87 60.94,805.99 61.58,805.99 61.58,806.10 62.23,806.10 62.23,806.21 62.88,806.21 62.88,806.32 63.52,806.32 63.52,806.43 64.17,806.43 64.17,806.54 64.81,806.54 64.81,806.64 65.46,806.64 65.46,806.74 66.10,806.74 66.10,806.84 66.75,806.84 66.75,806.93 67.39,806.93 67.39,807.03 68.04,807.03 68.04,807.12 68.68,807.12 68.68,807.21 69.33,807.21 69.33,807.30 69.98,807.30 69.98,807.38 70.62,807.38 70.62,807.47 71.27,807.47 71.27,807.55 71.91,807.55 71.91,807.63 72.6,807.63 73.8,807.79 75.1,807.94 76.4,808.09 77.7,808.23 79.0,808.37 80.3,808.50 81.6,808.63 82.9,808.76 84.2,808.88 85.5,809.00 86.8,809.11 88.0,809.23 89.3,809.34 90.6,809.44 91.9,809.54 93.2,809.65 94.5,809.74 95.8,809.84 97.1,809.93 98.4,810.02 99.7,810.11 101.0,810.20 102.3,810.29 103.5,810.37 104.8,810.45 106.1,810.53 107.4,810.61 108.7,810.69 110.0,810.76 111.3,810.84 112.6,810.91 113.9,810.98 115.2,811.05 116.5,811.12 117.7,811.19 119.0,811.25 120.3,811.32 121.6,811.38 122.9,811.44 124.2,811.51 125.5,811.57 126.8,811.63 128.1,811.69 129.4,811.74 130.7,811.80 131.9,811.86 133.2,811.91 134.5,811.97 135.8,812.02 137.1,812.07 138.4,812.12 139.7,812.18 141.0,812.23 142.3,812.28 143.6,812.32 144.9,812.37 146.1,812.42 147.4,812.47 148.7,812.52 150.0,812.56 151.3,812.61 152.6,812.65 153.9,812.70 155.2,812.74 156.5,812.78 157.8,812.82 159.1,812.87 160.3,812.91 161.6,812.95 162.9,812.99 164.2,813.03 165.5,813.07 166.8,813.11 168.1,813.15 169.4,813.19 170.7,813.22 172.0,813.26 173.3,813.30 174.5,813.34 175.8,813.37 177.1,813.41 178.4,813.44 179.7,813.48 181.0,813.51 182.3,813.55 183.6,813.58 184.9,813.62 186.2,813.65 187.5,813.68 188.7,813.71 190.0,813.75 191.3,813.78 192.6,813.81 193.9,813.84 195.2,813.87 196.5,813.90 197.8,813.94 199.1,813.97 200.4,814.00 201.7,814.03 202.9,814.06 204.2,814.08 205.5,814.11 206.8,814.14 208.1,814.17 209.4,814.20 210.7,814.23 212.0,814.25 213.3,814.28 214.6,814.31 215.9,814.34 217.1,814.36 218.4,814.39 219.7,814.42 221.0,814.44 222.3,814.47 223.6,814.49 224.9,814.52 226.2,814.55 227.5,814.57 228.8,814.60 230.1,814.62 231.4,814.64 232.6,814.67 233.9,814.69 235.2,814.72 236.5,814.74 237.8,814.76 239.1,814.79 240.4,814.81 241.7,814.83 243.0,814.86 244.3,814.88 245.6,814.90 246.8,814.93 248.1,814.95 249.4,814.97 250.7,814.99 252.0,815.01 253.3,815.04 254.6,815.06 255.9,815.08 257.2,815.10 258.5,815.12 259.8,815.14 261.0,815.16 262.3,815.18 263.6,815.20 264.9,815.22 266.2,815.24 267.5,815.26 268.8,815.28 270.1,815.30 271.4,815.32 272.7,815.34 274.0,815.36 275.2,815.38 276.5,815.40 277.8,815.42 279.1,815.44 280.4,815.46 281.7,815.48 283.0,815.50 284.3,815.51 285.6,815.53 286.9,815.55 288.2,815.57 289.4,815.59 290.7,815.61 292.0,815.62 293.3,815.64 294.6,815.66 295.9,815.68 297.2,815.69 298.5,815.71 299.8,815.73 301.1,815.75 302.4,815.76 303.6,815.78 304.9,815.80 306.2,815.81 307.5,815.83 308.8,815.85 310.1,815.86 311.4,815.88 312.7,815.90 314.0,815.91 315.3,815.93 316.6,815.94 317.8,815.96 319.1,815.98 320.4,815.99 321.7,816.01 323.0,816.02 324.3,816.04 325.6,816.05 326.9,816.07 328.2,816.09 329.5,816.10 330.8,816.12 332.0,816.13 333.3,816.15 334.6,816.16 335.9,816.18 337.2,816.19 338.5,816.21 339.8,816.22 341.1,816.23 342.4,816.25 343.7,816.26 345.0,816.28 346.2,816.29 347.5,816.31 348.8,816.32 350.1,816.33 351.4,816.35 352.7,816.36 353.4,816.37 353.4,834.0"/></clipPath>
<rect x="30.60" y="749.33" width="322.75" height="84.67" fill="url(#virA)" clip-path="url(#nclip)"/>
<path d="M32.60,749.3V834.0M37.32,749.3V834.0M42.04,749.3V834.0M46.76,749.3V834.0M51.48,749.3V834.0M56.20,749.3V834.0M60.92,749.3V834.0M65.64,749.3V834.0M70.36,749.3V834.0M75.08,749.3V834.0M79.80,749.3V834.0M84.52,749.3V834.0M89.24,749.3V834.0M93.96,749.3V834.0M98.68,749.3V834.0M103.40,749.3V834.0M108.12,749.3V834.0M112.84,749.3V834.0M117.56,749.3V834.0M122.28,749.3V834.0M127.00,749.3V834.0M131.72,749.3V834.0M136.44,749.3V834.0M141.16,749.3V834.0M145.88,749.3V834.0M150.60,749.3V834.0M155.32,749.3V834.0M160.04,749.3V834.0M164.76,749.3V834.0M169.48,749.3V834.0M174.20,749.3V834.0M178.92,749.3V834.0M183.64,749.3V834.0M188.36,749.3V834.0M193.08,749.3V834.0M197.80,749.3V834.0M202.52,749.3V834.0M207.24,749.3V834.0M211.96,749.3V834.0M216.68,749.3V834.0M221.40,749.3V834.0M226.12,749.3V834.0M230.84,749.3V834.0M235.56,749.3V834.0M240.28,749.3V834.0M245.00,749.3V834.0M249.72,749.3V834.0M254.44,749.3V834.0M259.16,749.3V834.0M263.88,749.3V834.0M268.60,749.3V834.0M273.32,749.3V834.0M278.04,749.3V834.0M282.76,749.3V834.0M287.48,749.3V834.0M292.20,749.3V834.0M296.92,749.3V834.0M301.64,749.3V834.0M306.36,749.3V834.0M311.08,749.3V834.0M315.80,749.3V834.0M320.52,749.3V834.0M325.24,749.3V834.0M329.96,749.3V834.0M334.68,749.3V834.0M339.40,749.3V834.0M344.12,749.3V834.0M348.84,749.3V834.0" stroke="#2a1a40" stroke-opacity="0.10" stroke-width="0.6" clip-path="url(#nclip)"/>
<polyline points="30.60,721.10 33.31,728.42 36.02,734.90 38.74,740.67 41.45,745.85 44.16,750.51 46.87,754.74 49.59,758.58 52.30,762.08 55.01,765.30 57.72,768.25 60.43,770.98 63.15,773.50 65.86,775.84 68.57,778.02 71.28,780.04 73.99,781.94 76.71,783.71 79.42,785.38 82.13,786.94 84.84,788.42 87.56,789.81 90.27,791.12 92.98,792.36 95.69,793.54 98.40,794.65 101.12,795.71 103.83,796.72 106.54,797.67 109.25,798.59 111.97,799.46 114.68,800.29 117.39,801.09 120.10,801.85 122.81,802.58 125.53,803.27 128.24,803.94 130.95,804.59 133.66,805.21 136.38,805.80 139.09,806.37 141.80,806.92 144.51,807.45 147.22,807.96 149.94,808.46 152.65,808.93 155.36,809.39 158.07,809.84 160.78,810.27 163.50,810.68 166.21,811.08 168.92,811.47 171.63,811.85 174.35,812.21 177.06,812.57 179.77,812.91 182.48,813.24 185.19,813.57 187.91,813.88 190.62,814.19 193.33,814.49 196.04,814.77 198.76,815.05 201.47,815.33 204.18,815.59 206.89,815.85 209.60,816.11 212.32,816.35 215.03,816.59 217.74,816.82 220.45,817.05 223.17,817.27 225.88,817.49 228.59,817.70 231.30,817.91 234.01,818.11 236.73,818.31 239.44,818.50 242.15,818.69 244.86,818.87 247.57,819.05 250.29,819.23 253.00,819.40 255.71,819.57 258.42,819.73 261.14,819.89 263.85,820.05 266.56,820.21 269.27,820.36 271.98,820.51 274.70,820.65 277.41,820.79 280.12,820.93 282.83,821.07 285.55,821.21 288.26,821.34 290.97,821.47 293.68,821.59 296.39,821.72 299.11,821.84 301.82,821.96 304.53,822.08 307.24,822.19 309.96,822.31 312.67,822.42 315.38,822.53 318.09,822.63 320.80,822.74 323.52,822.84 326.23,822.95 328.94,823.05 331.65,823.14 334.36,823.24 337.08,823.34 339.79,823.43 342.50,823.52 345.21,823.61 347.93,823.70 350.64,823.79 353.35,823.88" fill="none" stroke="url(#plasA)" stroke-width="0.9"/>
<line x1="30.60" y1="712.20" x2="30.60" y2="834.00" stroke="#b0b0b0" stroke-width="0.8"/>
<text x="29.00" y="835.90" font-size="5.4" text-anchor="end" font-family="'Liberation Sans', sans-serif" font-weight="normal" font-style="normal" fill="#222" stroke="#222" stroke-width="0.12">0.0</text>
<text x="29.00" y="813.32" font-size="5.4" text-anchor="end" font-family="'Liberation Sans', sans-serif" font-weight="normal" font-style="normal" fill="#222" stroke="#222" stroke-width="0.12">0.2</text>
<text x="29.00" y="790.74" font-size="5.4" text-anchor="end" font-family="'Liberation Sans', sans-serif" font-weight="normal" font-style="normal" fill="#222" stroke="#222" stroke-width="0.12">0.4</text>
<text x="29.00" y="768.16" font-size="5.4" text-anchor="end" font-family="'Liberation Sans', sans-serif" font-weight="normal" font-style="normal" fill="#222" stroke="#222" stroke-width="0.12">0.6</text>
<text x="29.00" y="745.58" font-size="5.4" text-anchor="end" font-family="'Liberation Sans', sans-serif" font-weight="normal" font-style="normal" fill="#222" stroke="#222" stroke-width="0.12">0.8</text>
<text x="29.00" y="723.00" font-size="5.4" text-anchor="end" font-family="'Liberation Sans', sans-serif" font-weight="normal" font-style="normal" fill="#222" stroke="#222" stroke-width="0.12">1.0</text>
<text x="30.60" y="839.80" font-size="5.5" text-anchor="middle" font-family="'Liberation Sans', sans-serif" font-weight="normal" font-style="normal" fill="#222" stroke="#222" stroke-width="0.12">0</text>
<text x="62.88" y="839.80" font-size="5.5" text-anchor="middle" font-family="'Liberation Sans', sans-serif" font-weight="normal" font-style="normal" fill="#222" stroke="#222" stroke-width="0.12">50</text>
<text x="95.15" y="839.80" font-size="5.5" text-anchor="middle" font-family="'Liberation Sans', sans-serif" font-weight="normal" font-style="normal" fill="#222" stroke="#222" stroke-width="0.12">100</text>
<text x="127.42" y="839.80" font-size="5.5" text-anchor="middle" font-family="'Liberation Sans', sans-serif" font-weight="normal" font-style="normal" fill="#222" stroke="#222" stroke-width="0.12">150</text>
<text x="159.70" y="839.80" font-size="5.5" text-anchor="middle" font-family="'Liberation Sans', sans-serif" font-weight="normal" font-style="normal" fill="#222" stroke="#222" stroke-width="0.12">200</text>
<text x="191.97" y="839.80" font-size="5.5" text-anchor="middle" font-family="'Liberation Sans', sans-serif" font-weight="normal" font-style="normal" fill="#222" stroke="#222" stroke-width="0.12">250</text>
<text x="224.25" y="839.80" font-size="5.5" text-anchor="middle" font-family="'Liberation Sans', sans-serif" font-weight="normal" font-style="normal" fill="#222" stroke="#222" stroke-width="0.12">300</text>
<text x="256.52" y="839.80" font-size="5.5" text-anchor="middle" font-family="'Liberation Sans', sans-serif" font-weight="normal" font-style="normal" fill="#222" stroke="#222" stroke-width="0.12">350</text>
<text x="288.80" y="839.80" font-size="5.5" text-anchor="middle" font-family="'Liberation Sans', sans-serif" font-weight="normal" font-style="normal" fill="#222" stroke="#222" stroke-width="0.12">400</text>
<text x="321.07" y="839.80" font-size="5.5" text-anchor="middle" font-family="'Liberation Sans', sans-serif" font-weight="normal" font-style="normal" fill="#222" stroke="#222" stroke-width="0.12">450</text>
<text x="353.35" y="839.80" font-size="5.5" text-anchor="middle" font-family="'Liberation Sans', sans-serif" font-weight="normal" font-style="normal" fill="#222" stroke="#222" stroke-width="0.12">500</text>
<text x="191.97" y="846.30" font-size="6.4" text-anchor="middle" font-family="'Liberation Sans', sans-serif" font-weight="normal" font-style="normal" fill="#222" stroke="#222" stroke-width="0.12">Sequence Length</text>
<text x="18.40" y="773.00" font-size="6.7" text-anchor="middle" font-family="'Liberation Sans', sans-serif" font-weight="normal" font-style="normal" fill="#222" stroke="#222" stroke-width="0.12" transform="rotate(-90 18.40 773.00)">Attention Value</text>
<text x="96.15" y="808.24" font-size="4.6" text-anchor="middle" font-family="'Liberation Sans', sans-serif" font-weight="normal" font-style="normal" fill="#000" stroke="#000" stroke-width="0.12">0.214</text>
<text x="160.70" y="811.06" font-size="4.6" text-anchor="middle" font-family="'Liberation Sans', sans-serif" font-weight="normal" font-style="normal" fill="#000" stroke="#000" stroke-width="0.12">0.189</text>
<text x="225.25" y="812.64" font-size="4.6" text-anchor="middle" font-family="'Liberation Sans', sans-serif" font-weight="normal" font-style="normal" fill="#000" stroke="#000" stroke-width="0.12">0.175</text>
<text x="289.80" y="814.00" font-size="4.6" text-anchor="middle" font-family="'Liberation Sans', sans-serif" font-weight="normal" font-style="normal" fill="#000" stroke="#000" stroke-width="0.12">0.163</text>
<rect x="288.20" y="714.20" width="63.10" height="17.20" fill="white" stroke="#dddddd" stroke-width="0.5" rx="1"/>
<rect x="289.80" y="717.00" width="10.20" height="3.70" fill="#440154"/>
<line x1="289.80" y1="726.10" x2="300.00" y2="726.10" stroke="#6e3796" stroke-width="0.9"/>
<text x="304.30" y="720.90" font-size="5.7" text-anchor="start" font-family="'Liberation Sans', sans-serif" font-weight="normal" font-style="normal" fill="#222" stroke="#222" stroke-width="0.12">Attention Weights</text>
<text x="304.30" y="728.20" font-size="5.5" text-anchor="start" font-family="'Liberation Sans', sans-serif" font-weight="normal" font-style="normal" fill="#222" stroke="#222" stroke-width="0.12">Reference Value</text>
<text x="8.70" y="702.30" font-size="16" text-anchor="start" font-family="'Liberation Serif', serif" font-weight="bold" font-style="normal" fill="#000">n</text>
<defs><linearGradient id="vir" x1="0" y1="1" x2="0" y2="0"><stop offset="0.000" stop-color="#440154" stop-opacity="1.0"/><stop offset="0.083" stop-color="#481f70" stop-opacity="1.0"/><stop offset="0.167" stop-color="#443983" stop-opacity="1.0"/><stop offset="0.250" stop-color="#3b528b" stop-opacity="1.0"/><stop offset="0.333" stop-color="#31688e" stop-opacity="1.0"/><stop offset="0.417" stop-color="#287c8e" stop-opacity="1.0"/><stop offset="0.500" stop-color="#21918c" stop-opacity="1.0"/><stop offset="0.583" stop-color="#20a486" stop-opacity="1.0"/><stop offset="0.667" stop-color="#35b779" stop-opacity="1.0"/><stop offset="0.750" stop-color="#5ec962" stop-opacity="1.0"/><stop offset="0.833" stop-color="#90d743" stop-opacity="1.0"/><stop offset="0.917" stop-color="#c8e020" stop-opacity="1.0"/><stop offset="1.000" stop-color="#fde725" stop-opacity="1.0"/></linearGradient><linearGradient id="ltri" gradientUnits="userSpaceOnUse" x1="581.90" y1="533.00" x2="531.99" y2="566.30"><stop offset="0.0" stop-color="#355f8d"/><stop offset="0.015" stop-color="#453781"/><stop offset="0.05" stop-color="#482374"/><stop offset="0.12" stop-color="#48186a"/><stop offset="0.3" stop-color="#471365"/><stop offset="1.0" stop-color="#471063"/></linearGradient><linearGradient id="ldiag" gradientUnits="userSpaceOnUse" x1="581.90" y1="533.00" x2="659.50" y2="649.30"><stop offset="0" stop-color="#3bbb75"/><stop offset="0.12" stop-color="#25848e"/><stop offset="1" stop-color="#287d8e"/></linearGradient><linearGradient id="virA" x1="0" y1="0" x2="1" y2="0"><stop offset="0.000" stop-color="#440154" stop-opacity="0.66"/><stop offset="0.062" stop-color="#48186a" stop-opacity="0.66"/><stop offset="0.125" stop-color="#472d7b" stop-opacity="0.66"/><stop offset="0.188" stop-color="#424086" stop-opacity="0.66"/><stop offset="0.250" stop-color="#3b528b" stop-opacity="0.66"/><stop offset="0.312" stop-color="#33638d" stop-opacity="0.66"/><stop offset="0.375" stop-color="#2c728e" stop-opacity="0.66"/><stop offset="0.438" stop-color="#26828e" stop-opacity="0.66"/><stop offset="0.500" stop-color="#21918c" stop-opacity="0.66"/><stop offset="0.562" stop-color="#1fa088" stop-opacity="0.66"/><stop offset="0.625" stop-color="#28ae80" stop-opacity="0.66"/><stop offset="0.688" stop-color="#3fbc73" stop-opacity="0.66"/><stop offset="0.750" stop-color="#5ec962" stop-opacity="0.66"/><stop offset="0.812" stop-color="#84d44b" stop-opacity="0.66"/><stop offset="0.875" stop-color="#addc30" stop-opacity="0.66"/><stop offset="0.938" stop-color="#d8e219" stop-opacity="0.66"/><stop offset="1.000" stop-color="#fde725" stop-opacity="0.66"/></linearGradient><linearGradient id="plasA" x1="0" y1="0" x2="1" y2="0"><stop offset="0.000" stop-color="#0d0887" stop-opacity="0.85"/><stop offset="0.062" stop-color="#310597" stop-opacity="0.85"/><stop offset="0.125" stop-color="#4c02a1" stop-opacity="0.85"/><stop offset="0.188" stop-color="#6600a7" stop-opacity="0.85"/><stop offset="0.250" stop-color="#7e03a8" stop-opacity="0.85"/><stop offset="0.312" stop-color="#9511a1" stop-opacity="0.85"/><stop offset="0.375" stop-color="#aa2395" stop-opacity="0.85"/><stop offset="0.438" stop-color="#bc3587" stop-opacity="0.85"/><stop offset="0.500" stop-color="#cc4778" stop-opacity="0.85"/><stop offset="0.562" stop-color="#da5a6a" stop-opacity="0.85"/><stop offset="0.625" stop-color="#e66c5c" stop-opacity="0.85"/><stop offset="0.688" stop-color="#f0804e" stop-opacity="0.85"/><stop offset="0.750" stop-color="#f89540" stop-opacity="0.85"/><stop offset="0.812" stop-color="#fdac33" stop-opacity="0.85"/><stop offset="0.875" stop-color="#fdc527" stop-opacity="0.85"/><stop offset="0.938" stop-color="#f8df25" stop-opacity="0.85"/><stop offset="1.000" stop-color="#f0f921" stop-opacity="0.85"/></linearGradient></defs>
</svg></body></html>
